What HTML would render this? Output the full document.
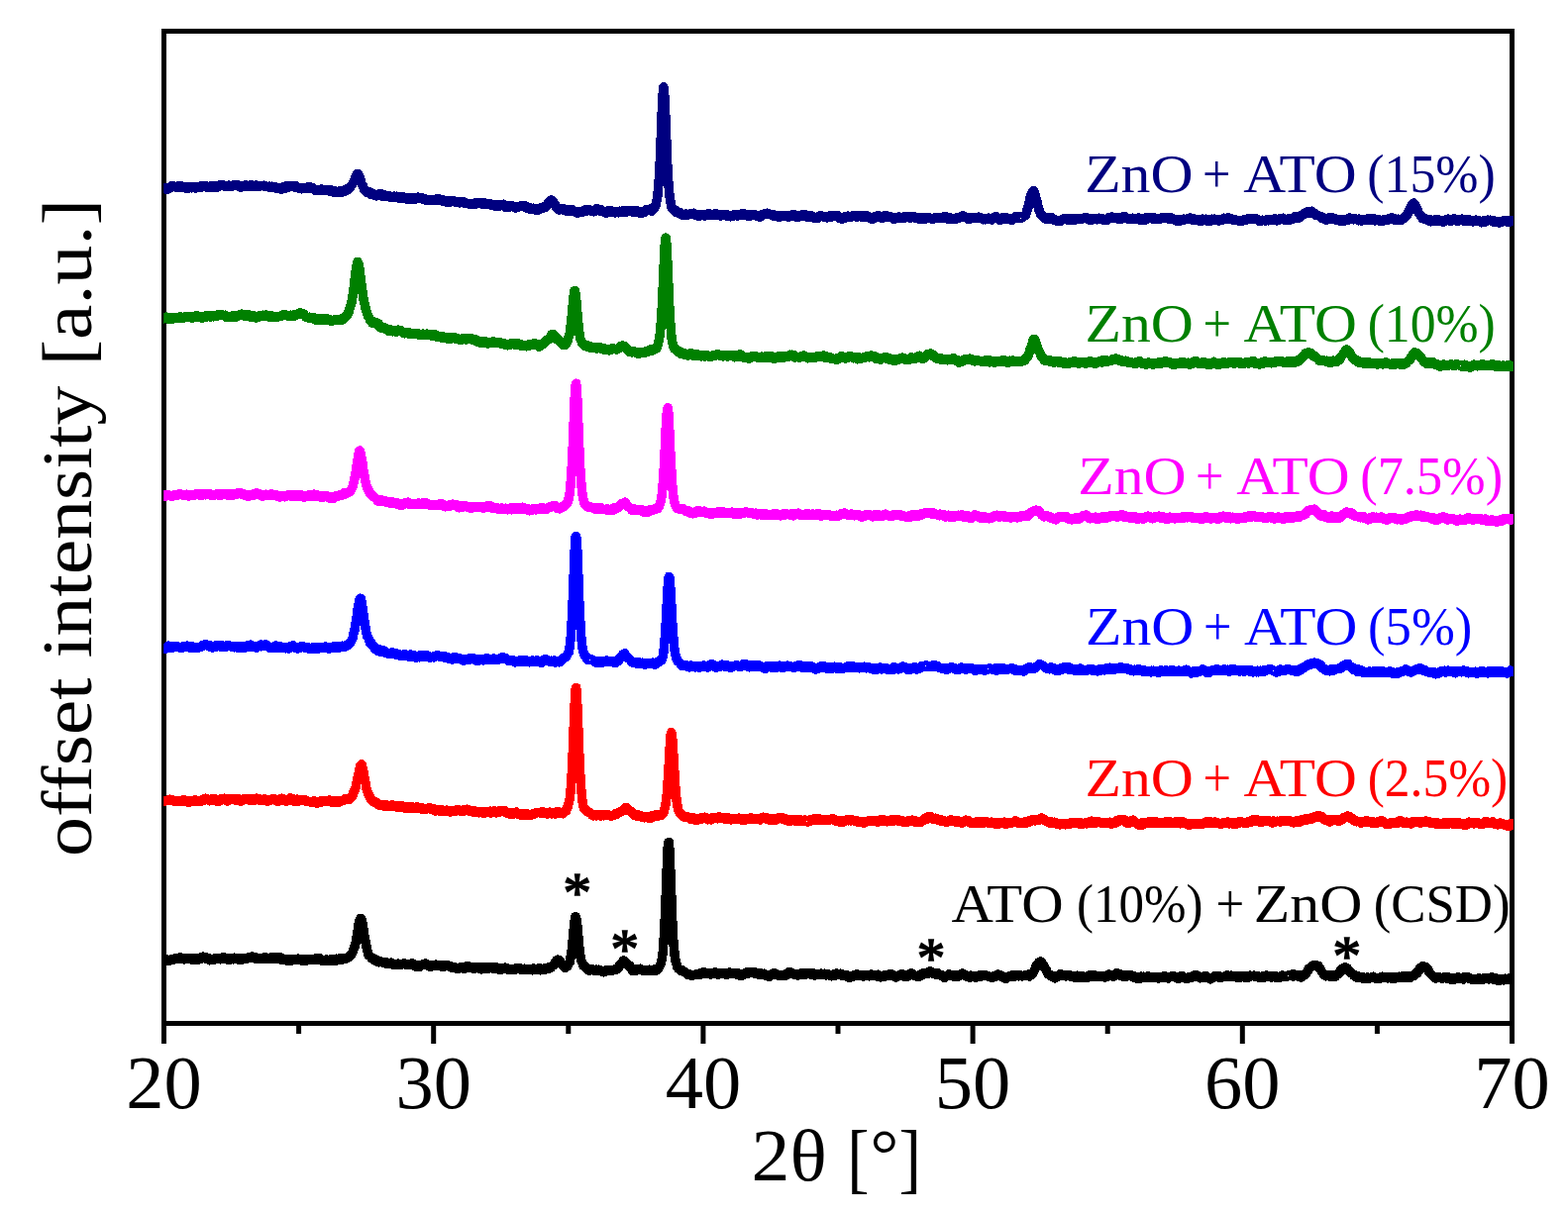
<!DOCTYPE html>
<html><head><meta charset="utf-8"><title>XRD patterns</title>
<style>
html,body{margin:0;padding:0;background:#fff;}
svg{display:block;}
.tk{font-family:"Liberation Serif",serif;font-size:76.5px;fill:#000;}
.ax{font-family:"Liberation Serif",serif;font-size:74px;fill:#000;}
.sl{font-family:"Liberation Serif",serif;font-size:54px;white-space:pre;}
.st{font-family:"Liberation Serif",serif;font-size:57px;fill:#000;stroke:#000;stroke-width:1.6px;}
</style></head>
<body>
<svg width="1583" height="1228" viewBox="0 0 1583 1228">
<rect width="1583" height="1228" fill="#fff"/>
<defs><clipPath id="pc"><rect x="165.2" y="0" width="1362.7" height="1228"/></clipPath></defs>
<rect x="165.5" y="31.5" width="1361" height="1002" fill="none" stroke="#000" stroke-width="5"/>
<g clip-path="url(#pc)">
<polyline fill="none" stroke="#000080" stroke-width="9.5" stroke-linejoin="round" stroke-linecap="butt" shape-rendering="crispEdges" points="163.5,189.5 164.1,190.7 164.7,190.2 165.3,190.1 165.9,189.5 166.5,190.4 167.1,190.0 167.7,189.5 168.3,191.0 168.9,190.8 169.5,190.9 170.1,190.9 170.7,189.8 171.3,189.4 171.9,189.6 172.5,188.4 173.1,188.6 173.7,187.6 174.3,187.4 174.9,188.6 175.5,187.8 176.1,188.6 176.7,188.3 177.3,188.6 177.9,188.5 178.5,189.3 179.1,188.7 179.7,189.2 180.3,188.9 180.9,187.3 181.5,187.9 182.1,188.4 182.7,188.3 183.3,188.3 183.9,189.3 184.5,188.2 185.1,188.5 185.7,189.7 186.3,188.7 186.9,188.5 187.5,190.1 188.1,189.4 188.7,188.8 189.3,188.5 189.9,188.5 190.5,190.1 191.1,189.9 191.7,188.7 192.3,189.7 192.9,189.0 193.5,189.8 194.1,189.1 194.7,188.7 195.3,188.8 195.9,189.1 196.5,189.7 197.1,190.0 197.7,189.6 198.3,189.5 198.9,188.4 199.5,188.4 200.1,189.2 200.7,189.4 201.3,188.4 201.9,188.8 202.5,188.8 203.1,189.1 203.7,187.5 204.3,188.2 204.9,187.9 205.5,188.3 206.1,188.2 206.7,187.6 207.3,187.4 207.9,188.7 208.5,188.7 209.1,189.3 209.7,188.2 210.3,188.4 210.9,188.7 211.5,189.0 212.1,188.1 212.7,187.7 213.3,188.3 213.9,188.8 214.5,188.9 215.1,189.0 215.7,188.2 216.3,188.0 216.9,189.2 217.5,189.3 218.1,189.5 218.7,188.6 219.3,188.2 219.9,187.6 220.5,188.2 221.1,188.0 221.7,187.0 222.3,187.6 222.9,187.3 223.5,187.1 224.1,187.4 224.7,186.8 225.3,187.4 225.9,187.8 226.5,187.8 227.1,188.5 227.7,188.0 228.3,188.3 228.9,187.5 229.5,188.1 230.1,188.1 230.7,187.2 231.3,187.5 231.9,188.0 232.5,187.9 233.1,188.3 233.7,188.3 234.3,187.2 234.9,187.9 235.5,187.4 236.1,187.6 236.7,186.5 237.3,187.0 237.9,186.9 238.5,187.2 239.1,187.2 239.7,186.4 240.3,187.9 240.9,187.4 241.5,187.7 242.1,188.8 242.7,187.9 243.3,189.0 243.9,188.8 244.5,188.6 245.1,188.0 245.7,188.1 246.3,187.9 246.9,188.4 247.5,188.1 248.1,186.7 248.7,188.0 249.3,187.9 249.9,187.3 250.5,188.5 251.1,187.7 251.7,187.3 252.3,187.0 252.9,188.4 253.5,187.9 254.1,187.8 254.7,187.1 255.3,187.3 255.9,187.4 256.5,188.0 257.1,187.7 257.7,188.0 258.3,187.5 258.9,187.0 259.5,188.4 260.1,188.6 260.7,188.0 261.3,188.2 261.9,188.0 262.5,188.1 263.1,187.6 263.7,187.3 264.3,187.7 264.9,187.4 265.5,187.6 266.1,187.9 266.7,187.2 267.3,187.7 267.9,187.6 268.5,188.4 269.1,188.5 269.7,188.2 270.3,188.5 270.9,188.6 271.5,188.3 272.1,188.2 272.7,189.3 273.3,189.6 273.9,188.5 274.5,188.2 275.1,189.5 275.7,189.5 276.3,189.4 276.9,189.7 277.5,189.5 278.1,189.9 278.7,188.9 279.3,189.4 279.9,189.8 280.5,189.7 281.1,190.1 281.7,189.4 282.3,190.2 282.9,190.5 283.5,190.1 284.1,191.2 284.7,190.2 285.3,190.2 285.9,188.8 286.5,189.1 287.1,189.9 287.7,190.3 288.3,189.3 288.9,188.9 289.5,187.3 290.1,188.9 290.7,189.2 291.3,188.7 291.9,188.4 292.5,188.5 293.1,187.6 293.7,188.5 294.3,188.6 294.9,188.5 295.5,188.0 296.1,187.8 296.7,187.9 297.3,189.0 297.9,188.2 298.5,187.8 299.1,188.4 299.7,189.1 300.3,189.2 300.9,189.8 301.5,190.1 302.1,190.3 302.7,190.5 303.3,190.1 303.9,189.8 304.5,190.8 305.1,189.8 305.7,190.5 306.3,189.9 306.9,190.4 307.5,189.7 308.1,190.2 308.7,189.9 309.3,190.5 309.9,190.3 310.5,190.1 311.1,188.7 311.7,188.5 312.3,189.9 312.9,189.9 313.5,189.4 314.1,189.6 314.7,189.7 315.3,189.4 315.9,190.5 316.5,190.8 317.1,191.3 317.7,191.2 318.3,191.5 318.9,192.5 319.5,192.3 320.1,191.6 320.7,192.1 321.3,192.5 321.9,192.1 322.5,191.8 323.1,192.2 323.7,191.2 324.3,191.0 324.9,191.8 325.5,192.3 326.1,192.2 326.7,192.2 327.3,191.9 327.9,191.7 328.5,191.6 329.1,191.9 329.7,192.3 330.3,191.4 330.9,191.8 331.5,192.7 332.1,192.2 332.7,193.1 333.3,193.4 333.9,193.6 334.5,192.1 335.1,192.5 335.7,193.9 336.3,193.4 336.9,194.1 337.5,193.0 338.1,192.9 338.7,193.9 339.3,193.2 339.9,193.5 340.5,194.6 341.1,193.4 341.7,194.5 342.3,193.4 342.9,192.9 343.5,192.7 344.1,193.4 344.7,193.5 345.3,194.2 345.9,192.7 346.5,192.1 347.1,192.1 347.7,192.9 348.3,193.1 348.9,192.6 349.5,192.3 350.1,192.0 350.7,190.4 351.3,190.5 351.9,191.4 352.5,190.1 353.1,190.2 353.7,189.1 354.3,188.3 354.9,187.0 355.5,186.2 356.1,185.6 356.7,184.5 357.3,183.0 357.9,181.5 358.5,180.5 359.1,178.1 359.7,176.9 360.3,177.0 360.9,175.3 361.5,176.4 362.1,176.6 362.7,178.7 363.3,179.3 363.9,180.9 364.5,183.2 365.1,185.5 365.7,186.4 366.3,187.7 366.9,189.1 367.5,191.6 368.1,191.1 368.7,191.7 369.3,193.3 369.9,194.1 370.5,194.0 371.1,193.4 371.7,193.6 372.3,193.8 372.9,193.8 373.5,195.9 374.1,195.4 374.7,194.7 375.3,195.9 375.9,196.4 376.5,196.5 377.1,196.0 377.7,196.3 378.3,197.2 378.9,197.4 379.5,197.5 380.1,197.9 380.7,197.5 381.3,196.3 381.9,197.0 382.5,196.4 383.1,196.7 383.7,195.6 384.3,195.6 384.9,195.9 385.5,196.3 386.1,197.4 386.7,198.4 387.3,197.1 387.9,196.8 388.5,197.8 389.1,198.2 389.7,198.2 390.3,198.4 390.9,198.0 391.5,197.7 392.1,198.2 392.7,197.6 393.3,198.0 393.9,199.1 394.5,198.3 395.1,199.0 395.7,198.6 396.3,198.9 396.9,199.0 397.5,198.7 398.1,198.1 398.7,198.1 399.3,199.1 399.9,198.5 400.5,198.2 401.1,199.0 401.7,199.2 402.3,199.9 402.9,199.5 403.5,200.0 404.1,199.2 404.7,199.1 405.3,199.9 405.9,199.0 406.5,199.2 407.1,199.7 407.7,199.1 408.3,200.4 408.9,200.2 409.5,200.8 410.1,199.9 410.7,200.5 411.3,201.1 411.9,201.1 412.5,201.4 413.1,200.7 413.7,200.0 414.3,199.9 414.9,200.1 415.5,200.5 416.1,199.8 416.7,201.1 417.3,200.8 417.9,199.4 418.5,199.3 419.1,199.6 419.7,201.1 420.3,199.4 420.9,200.6 421.5,199.6 422.1,199.2 422.7,199.5 423.3,200.6 423.9,199.3 424.5,200.7 425.1,200.3 425.7,199.8 426.3,200.1 426.9,200.9 427.5,201.6 428.1,201.0 428.7,200.9 429.3,201.5 429.9,202.1 430.5,201.8 431.1,202.6 431.7,202.2 432.3,202.3 432.9,201.6 433.5,202.2 434.1,201.8 434.7,202.5 435.3,201.7 435.9,201.8 436.5,202.4 437.1,201.7 437.7,202.3 438.3,202.3 438.9,201.8 439.5,201.3 440.1,201.9 440.7,201.8 441.3,201.1 441.9,202.2 442.5,201.6 443.1,201.0 443.7,201.3 444.3,201.8 444.9,202.0 445.5,202.8 446.1,201.8 446.7,201.6 447.3,202.5 447.9,202.5 448.5,202.7 449.1,203.6 449.7,203.7 450.3,204.0 450.9,203.7 451.5,203.1 452.1,203.5 452.7,204.3 453.3,204.3 453.9,202.7 454.5,203.6 455.1,203.6 455.7,203.5 456.3,203.0 456.9,202.5 457.5,203.1 458.1,202.6 458.7,203.8 459.3,203.7 459.9,204.2 460.5,203.8 461.1,204.5 461.7,203.5 462.3,204.3 462.9,203.5 463.5,204.8 464.1,204.9 464.7,204.4 465.3,203.8 465.9,204.3 466.5,203.6 467.1,204.6 467.7,204.2 468.3,203.9 468.9,204.4 469.5,205.1 470.1,205.6 470.7,205.3 471.3,205.2 471.9,205.7 472.5,205.6 473.1,205.5 473.7,206.2 474.3,206.2 474.9,205.8 475.5,205.8 476.1,205.3 476.7,205.6 477.3,206.2 477.9,206.1 478.5,206.1 479.1,206.1 479.7,204.8 480.3,205.7 480.9,206.1 481.5,205.1 482.1,205.6 482.7,204.5 483.3,204.8 483.9,205.3 484.5,204.4 485.1,205.1 485.7,204.9 486.3,205.9 486.9,205.2 487.5,205.3 488.1,206.1 488.7,205.8 489.3,205.0 489.9,205.8 490.5,206.1 491.1,205.5 491.7,205.7 492.3,206.4 492.9,206.2 493.5,206.3 494.1,206.5 494.7,206.8 495.3,206.0 495.9,206.7 496.5,206.8 497.1,207.6 497.7,206.3 498.3,207.0 498.9,206.8 499.5,208.1 500.1,207.8 500.7,206.7 501.3,208.3 501.9,208.2 502.5,207.6 503.1,208.5 503.7,207.6 504.3,208.3 504.9,206.6 505.5,207.7 506.1,207.4 506.7,207.5 507.3,207.0 507.9,206.9 508.5,206.4 509.1,206.9 509.7,207.2 510.3,209.2 510.9,208.6 511.5,208.5 512.1,208.5 512.7,209.1 513.3,207.9 513.9,209.3 514.5,209.0 515.1,208.5 515.7,208.5 516.3,208.0 516.9,207.9 517.5,208.8 518.1,208.6 518.7,208.7 519.3,209.2 519.9,209.9 520.5,208.5 521.1,208.8 521.7,209.8 522.3,209.4 522.9,209.5 523.5,208.6 524.1,208.3 524.7,208.3 525.3,208.1 525.9,207.6 526.5,207.8 527.1,207.7 527.7,207.6 528.3,207.9 528.9,208.9 529.5,208.9 530.1,207.8 530.7,209.1 531.3,208.5 531.9,210.2 532.5,210.0 533.1,210.0 533.7,210.1 534.3,210.9 534.9,209.6 535.5,210.2 536.1,211.1 536.7,210.8 537.3,211.3 537.9,211.2 538.5,210.2 539.1,211.8 539.7,211.6 540.3,210.5 540.9,212.0 541.5,211.5 542.1,211.6 542.7,211.2 543.3,211.9 543.9,210.7 544.5,211.8 545.1,210.4 545.7,210.1 546.3,209.8 546.9,209.6 547.5,210.6 548.1,209.9 548.7,208.9 549.3,209.3 549.9,209.2 550.5,209.4 551.1,207.8 551.7,208.5 552.3,208.1 552.9,205.8 553.5,205.6 554.1,204.3 554.7,204.5 555.3,202.8 555.9,203.7 556.5,202.0 557.1,203.1 557.7,203.4 558.3,203.1 558.9,203.9 559.5,206.1 560.1,205.9 560.7,207.2 561.3,208.2 561.9,209.8 562.5,209.9 563.1,210.0 563.7,211.5 564.3,212.0 564.9,211.7 565.5,210.9 566.1,210.6 566.7,210.4 567.3,211.0 567.9,211.3 568.5,211.4 569.1,212.4 569.7,211.1 570.3,212.5 570.9,212.5 571.5,213.1 572.1,212.8 572.7,212.2 573.3,213.3 573.9,212.3 574.5,212.6 575.1,213.1 575.7,212.5 576.3,212.4 576.9,211.4 577.5,212.4 578.1,212.2 578.7,212.7 579.3,212.8 579.9,214.0 580.5,214.0 581.1,213.9 581.7,213.3 582.3,214.0 582.9,215.1 583.5,213.5 584.1,214.5 584.7,214.1 585.3,214.3 585.9,214.2 586.5,214.3 587.1,214.0 587.7,213.8 588.3,214.1 588.9,213.3 589.5,213.4 590.1,213.4 590.7,212.0 591.3,212.6 591.9,212.3 592.5,213.2 593.1,211.8 593.7,212.3 594.3,212.3 594.9,211.7 595.5,212.6 596.1,213.0 596.7,212.3 597.3,213.0 597.9,213.3 598.5,212.9 599.1,212.9 599.7,213.8 600.3,213.1 600.9,212.4 601.5,212.7 602.1,211.2 602.7,210.6 603.3,211.4 603.9,212.1 604.5,212.9 605.1,212.3 605.7,211.7 606.3,212.9 606.9,211.9 607.5,212.3 608.1,213.2 608.7,213.2 609.3,213.1 609.9,213.9 610.5,214.4 611.1,215.0 611.7,214.0 612.3,215.2 612.9,214.6 613.5,213.2 614.1,213.3 614.7,213.2 615.3,212.8 615.9,212.6 616.5,213.8 617.1,212.7 617.7,213.5 618.3,213.5 618.9,214.2 619.5,213.6 620.1,213.9 620.7,214.9 621.3,213.5 621.9,214.4 622.5,213.6 623.1,214.3 623.7,214.1 624.3,214.8 624.9,213.9 625.5,213.2 626.1,213.7 626.7,214.3 627.3,213.1 627.9,213.1 628.5,213.1 629.1,214.6 629.7,212.7 630.3,213.1 630.9,213.5 631.5,214.7 632.1,213.3 632.7,213.6 633.3,213.0 633.9,212.8 634.5,213.2 635.1,212.9 635.7,213.6 636.3,213.0 636.9,212.4 637.5,213.7 638.1,213.1 638.7,213.1 639.3,214.4 639.9,213.3 640.5,212.4 641.1,213.1 641.7,212.9 642.3,212.6 642.9,213.2 643.5,214.0 644.1,213.7 644.7,215.0 645.3,215.0 645.9,215.0 646.5,215.6 647.1,213.8 647.7,214.0 648.3,215.0 648.9,214.2 649.5,213.3 650.1,214.0 650.7,214.1 651.3,213.5 651.9,212.0 652.5,212.2 653.1,212.7 653.7,211.9 654.3,211.8 654.9,212.7 655.5,212.0 656.1,211.1 656.7,212.4 657.3,211.9 657.9,213.1 658.5,212.1 659.1,211.7 659.7,210.7 660.3,210.8 660.9,209.0 661.5,208.0 662.1,207.6 662.7,204.0 663.3,200.7 663.9,197.4 664.5,190.9 665.1,183.4 665.7,174.5 666.3,161.9 666.9,148.1 667.5,133.4 668.1,116.8 668.7,102.8 669.3,93.1 669.9,87.9 670.5,91.6 671.1,100.6 671.7,114.0 672.3,128.4 672.9,144.4 673.5,160.2 674.1,172.7 674.7,182.2 675.3,190.3 675.9,196.9 676.5,200.9 677.1,204.7 677.7,208.0 678.3,210.2 678.9,210.0 679.5,211.1 680.1,211.5 680.7,212.7 681.3,212.8 681.9,214.1 682.5,213.5 683.1,212.9 683.7,213.9 684.3,215.0 684.9,215.1 685.5,215.1 686.1,214.4 686.7,214.8 687.3,215.7 687.9,216.8 688.5,217.0 689.1,216.6 689.7,217.4 690.3,216.9 690.9,216.8 691.5,216.5 692.1,216.5 692.7,216.0 693.3,217.1 693.9,216.8 694.5,217.0 695.1,216.5 695.7,216.5 696.3,216.0 696.9,216.6 697.5,215.3 698.1,216.2 698.7,215.3 699.3,216.6 699.9,216.5 700.5,215.2 701.1,216.7 701.7,217.3 702.3,216.4 702.9,217.4 703.5,217.4 704.1,217.6 704.7,218.3 705.3,218.4 705.9,217.5 706.5,218.1 707.1,217.6 707.7,216.6 708.3,216.9 708.9,216.9 709.5,216.7 710.1,216.9 710.7,217.3 711.3,218.2 711.9,217.0 712.5,216.9 713.1,217.0 713.7,216.9 714.3,217.1 714.9,216.0 715.5,217.5 716.1,216.2 716.7,216.0 717.3,216.6 717.9,217.5 718.5,217.3 719.1,216.6 719.7,217.5 720.3,216.8 720.9,217.2 721.5,216.7 722.1,215.9 722.7,215.8 723.3,216.7 723.9,216.9 724.5,216.6 725.1,216.7 725.7,216.8 726.3,216.9 726.9,216.6 727.5,218.0 728.1,216.8 728.7,217.7 729.3,217.3 729.9,216.7 730.5,217.1 731.1,216.5 731.7,216.7 732.3,217.2 732.9,217.5 733.5,216.9 734.1,218.2 734.7,217.3 735.3,217.1 735.9,218.2 736.5,217.9 737.1,218.3 737.7,218.7 738.3,218.1 738.9,218.3 739.5,218.3 740.1,217.1 740.7,217.3 741.3,217.7 741.9,217.2 742.5,217.3 743.1,217.4 743.7,216.9 744.3,217.9 744.9,217.8 745.5,216.8 746.1,216.7 746.7,217.1 747.3,216.4 747.9,217.2 748.5,216.7 749.1,215.8 749.7,216.8 750.3,216.3 750.9,215.9 751.5,216.4 752.1,216.5 752.7,217.7 753.3,216.6 753.9,217.0 754.5,218.2 755.1,217.9 755.7,218.5 756.3,217.2 756.9,217.4 757.5,217.1 758.1,217.8 758.7,217.5 759.3,217.0 759.9,216.7 760.5,216.9 761.1,216.5 761.7,217.3 762.3,217.6 762.9,217.4 763.5,217.5 764.1,218.0 764.7,218.0 765.3,218.8 765.9,217.7 766.5,218.8 767.1,218.1 767.7,218.8 768.3,218.4 768.9,216.9 769.5,217.5 770.1,217.1 770.7,216.7 771.3,216.8 771.9,216.0 772.5,215.8 773.1,216.7 773.7,216.6 774.3,215.7 774.9,215.3 775.5,215.8 776.1,215.9 776.7,216.0 777.3,216.9 777.9,216.9 778.5,216.7 779.1,216.6 779.7,217.2 780.3,217.7 780.9,216.9 781.5,218.4 782.1,217.4 782.7,218.7 783.3,217.4 783.9,218.7 784.5,217.9 785.1,218.7 785.7,218.8 786.3,219.4 786.9,218.6 787.5,217.8 788.1,218.4 788.7,217.7 789.3,217.3 789.9,218.3 790.5,218.1 791.1,217.9 791.7,217.7 792.3,218.6 792.9,218.6 793.5,218.0 794.1,217.6 794.7,218.8 795.3,218.0 795.9,219.0 796.5,219.0 797.1,218.6 797.7,218.4 798.3,218.6 798.9,218.5 799.5,217.7 800.1,216.8 800.7,217.7 801.3,218.1 801.9,217.5 802.5,216.8 803.1,217.2 803.7,217.8 804.3,218.9 804.9,219.5 805.5,219.0 806.1,218.9 806.7,219.0 807.3,217.9 807.9,217.7 808.5,217.7 809.1,217.7 809.7,218.0 810.3,216.7 810.9,217.9 811.5,217.3 812.1,217.7 812.7,218.6 813.3,216.9 813.9,218.7 814.5,218.9 815.1,219.0 815.7,217.5 816.3,218.3 816.9,218.2 817.5,218.8 818.1,217.5 818.7,217.7 819.3,219.3 819.9,219.1 820.5,218.4 821.1,218.5 821.7,220.2 822.3,220.3 822.9,220.5 823.5,220.5 824.1,219.3 824.7,220.3 825.3,219.5 825.9,220.1 826.5,219.7 827.1,218.5 827.7,217.8 828.3,218.8 828.9,217.9 829.5,218.1 830.1,218.7 830.7,218.9 831.3,218.9 831.9,218.9 832.5,218.9 833.1,219.5 833.7,218.9 834.3,219.0 834.9,219.9 835.5,219.8 836.1,219.6 836.7,218.4 837.3,218.0 837.9,219.3 838.5,219.4 839.1,218.2 839.7,218.9 840.3,218.0 840.9,217.8 841.5,218.1 842.1,217.3 842.7,218.1 843.3,218.7 843.9,217.6 844.5,218.3 845.1,217.4 845.7,217.6 846.3,218.5 846.9,218.9 847.5,220.2 848.1,220.6 848.7,219.4 849.3,219.4 849.9,221.3 850.5,220.9 851.1,220.4 851.7,219.7 852.3,220.5 852.9,219.6 853.5,219.1 854.1,218.3 854.7,219.7 855.3,218.5 855.9,218.2 856.5,219.1 857.1,219.8 857.7,219.1 858.3,219.2 858.9,218.8 859.5,219.2 860.1,218.7 860.7,218.0 861.3,218.7 861.9,218.5 862.5,217.7 863.1,218.1 863.7,217.9 864.3,217.9 864.9,219.4 865.5,217.8 866.1,217.8 866.7,218.6 867.3,218.0 867.9,217.4 868.5,218.8 869.1,217.6 869.7,217.9 870.3,218.7 870.9,219.2 871.5,219.4 872.1,217.8 872.7,218.8 873.3,218.8 873.9,217.6 874.5,219.0 875.1,217.9 875.7,219.0 876.3,218.3 876.9,218.5 877.5,219.0 878.1,220.6 878.7,219.8 879.3,221.1 879.9,219.9 880.5,220.2 881.1,219.5 881.7,220.9 882.3,219.1 882.9,220.0 883.5,218.5 884.1,219.0 884.7,218.7 885.3,218.2 885.9,218.6 886.5,218.4 887.1,218.7 887.7,218.0 888.3,219.2 888.9,219.4 889.5,219.2 890.1,219.2 890.7,220.5 891.3,218.7 891.9,218.8 892.5,218.1 893.1,218.5 893.7,218.8 894.3,219.1 894.9,218.3 895.5,217.9 896.1,219.1 896.7,218.5 897.3,218.7 897.9,219.2 898.5,219.2 899.1,219.7 899.7,218.9 900.3,219.9 900.9,220.2 901.5,220.0 902.1,221.1 902.7,220.2 903.3,220.3 903.9,220.4 904.5,220.8 905.1,219.7 905.7,220.4 906.3,220.1 906.9,219.0 907.5,218.9 908.1,220.2 908.7,219.7 909.3,219.8 909.9,219.7 910.5,219.8 911.1,220.3 911.7,220.3 912.3,219.3 912.9,218.9 913.5,220.0 914.1,219.2 914.7,219.2 915.3,219.1 915.9,219.6 916.5,219.5 917.1,218.7 917.7,219.3 918.3,218.8 918.9,220.1 919.5,220.2 920.1,219.6 920.7,218.5 921.3,218.7 921.9,219.3 922.5,219.3 923.1,218.9 923.7,219.5 924.3,220.0 924.9,220.7 925.5,219.7 926.1,220.1 926.7,220.0 927.3,220.8 927.9,221.1 928.5,220.9 929.1,220.9 929.7,220.1 930.3,219.8 930.9,220.7 931.5,221.2 932.1,221.2 932.7,220.1 933.3,220.2 933.9,220.6 934.5,221.2 935.1,220.5 935.7,220.1 936.3,219.8 936.9,220.4 937.5,219.3 938.1,219.8 938.7,220.0 939.3,220.5 939.9,220.8 940.5,220.3 941.1,220.5 941.7,221.3 942.3,220.7 942.9,220.0 943.5,220.0 944.1,220.3 944.7,220.2 945.3,219.6 945.9,219.4 946.5,220.0 947.1,220.5 947.7,220.2 948.3,220.2 948.9,220.2 949.5,220.3 950.1,219.9 950.7,219.7 951.3,219.9 951.9,219.8 952.5,220.1 953.1,218.9 953.7,219.3 954.3,220.0 954.9,220.1 955.5,219.1 956.1,220.3 956.7,220.4 957.3,221.7 957.9,220.2 958.5,219.7 959.1,221.3 959.7,220.7 960.3,221.5 960.9,220.8 961.5,220.5 962.1,220.5 962.7,220.5 963.3,221.3 963.9,220.8 964.5,221.0 965.1,221.3 965.7,220.6 966.3,219.4 966.9,220.8 967.5,219.4 968.1,219.7 968.7,219.8 969.3,219.6 969.9,218.9 970.5,218.5 971.1,218.5 971.7,218.0 972.3,218.1 972.9,218.3 973.5,218.9 974.1,218.7 974.7,219.4 975.3,219.6 975.9,219.8 976.5,220.5 977.1,221.4 977.7,221.0 978.3,220.2 978.9,220.4 979.5,219.5 980.1,220.9 980.7,219.8 981.3,219.6 981.9,220.5 982.5,219.9 983.1,220.4 983.7,220.6 984.3,219.8 984.9,220.0 985.5,220.3 986.1,219.6 986.7,220.5 987.3,220.6 987.9,219.2 988.5,219.3 989.1,219.8 989.7,219.3 990.3,220.2 990.9,220.3 991.5,221.0 992.1,220.9 992.7,221.8 993.3,221.1 993.9,220.6 994.5,221.8 995.1,221.2 995.7,221.0 996.3,220.9 996.9,221.4 997.5,221.5 998.1,220.2 998.7,220.5 999.3,221.7 999.9,221.4 1000.5,221.8 1001.1,222.0 1001.7,221.5 1002.3,221.1 1002.9,220.1 1003.5,220.4 1004.1,220.1 1004.7,220.0 1005.3,218.6 1005.9,220.6 1006.5,220.2 1007.1,221.1 1007.7,220.3 1008.3,220.6 1008.9,220.6 1009.5,222.3 1010.1,221.3 1010.7,222.0 1011.3,221.0 1011.9,219.8 1012.5,220.6 1013.1,220.1 1013.7,220.5 1014.3,220.9 1014.9,219.3 1015.5,220.7 1016.1,220.3 1016.7,221.0 1017.3,221.6 1017.9,220.4 1018.5,221.4 1019.1,220.8 1019.7,221.2 1020.3,221.1 1020.9,221.4 1021.5,222.3 1022.1,221.1 1022.7,220.7 1023.3,221.0 1023.9,220.9 1024.5,219.5 1025.1,220.6 1025.7,218.7 1026.3,219.5 1026.9,218.9 1027.5,218.6 1028.1,218.9 1028.7,219.1 1029.3,219.0 1029.9,220.1 1030.5,220.5 1031.1,219.3 1031.7,219.5 1032.3,219.3 1032.9,219.3 1033.5,218.7 1034.1,218.0 1034.7,218.0 1035.3,217.4 1035.9,215.8 1036.5,214.3 1037.1,211.5 1037.7,210.8 1038.3,207.7 1038.9,204.4 1039.5,203.8 1040.1,199.6 1040.7,197.8 1041.3,195.8 1041.9,195.0 1042.5,193.4 1043.1,193.7 1043.7,192.6 1044.3,193.8 1044.9,196.1 1045.5,198.8 1046.1,200.9 1046.7,202.9 1047.3,204.9 1047.9,207.9 1048.5,209.6 1049.1,212.3 1049.7,213.9 1050.3,215.8 1050.9,216.8 1051.5,216.9 1052.1,217.5 1052.7,218.0 1053.3,218.9 1053.9,220.0 1054.5,220.6 1055.1,220.3 1055.7,220.8 1056.3,220.3 1056.9,221.6 1057.5,220.9 1058.1,220.2 1058.7,220.3 1059.3,219.8 1059.9,219.4 1060.5,220.0 1061.1,219.3 1061.7,219.8 1062.3,221.1 1062.9,221.3 1063.5,222.0 1064.1,222.1 1064.7,221.9 1065.3,221.9 1065.9,222.7 1066.5,222.8 1067.1,222.5 1067.7,223.6 1068.3,222.4 1068.9,222.3 1069.5,222.5 1070.1,223.1 1070.7,223.2 1071.3,221.9 1071.9,221.7 1072.5,221.8 1073.1,221.7 1073.7,220.7 1074.3,221.3 1074.9,220.8 1075.5,220.9 1076.1,220.6 1076.7,221.7 1077.3,221.2 1077.9,221.6 1078.5,222.0 1079.1,222.7 1079.7,220.9 1080.3,221.3 1080.9,222.3 1081.5,222.2 1082.1,220.9 1082.7,222.0 1083.3,221.0 1083.9,222.0 1084.5,220.9 1085.1,222.2 1085.7,221.9 1086.3,221.7 1086.9,221.4 1087.5,220.9 1088.1,220.8 1088.7,221.4 1089.3,220.7 1089.9,221.2 1090.5,221.4 1091.1,221.1 1091.7,221.7 1092.3,220.7 1092.9,220.7 1093.5,220.8 1094.1,220.6 1094.7,220.7 1095.3,219.4 1095.9,220.1 1096.5,219.6 1097.1,220.6 1097.7,220.6 1098.3,221.5 1098.9,220.9 1099.5,222.1 1100.1,220.8 1100.7,222.2 1101.3,222.5 1101.9,221.5 1102.5,221.9 1103.1,221.0 1103.7,221.2 1104.3,221.4 1104.9,220.8 1105.5,221.5 1106.1,220.4 1106.7,220.8 1107.3,220.6 1107.9,221.6 1108.5,221.3 1109.1,220.3 1109.7,220.2 1110.3,221.0 1110.9,220.7 1111.5,220.5 1112.1,220.3 1112.7,220.8 1113.3,221.7 1113.9,221.5 1114.5,221.9 1115.1,222.7 1115.7,221.4 1116.3,221.6 1116.9,222.5 1117.5,222.4 1118.1,220.8 1118.7,220.3 1119.3,219.8 1119.9,220.5 1120.5,219.7 1121.1,219.9 1121.7,219.9 1122.3,219.0 1122.9,220.4 1123.5,219.2 1124.1,220.2 1124.7,219.7 1125.3,219.7 1125.9,220.2 1126.5,219.7 1127.1,220.4 1127.7,220.4 1128.3,220.4 1128.9,220.3 1129.5,220.5 1130.1,221.6 1130.7,221.6 1131.3,219.8 1131.9,220.8 1132.5,220.3 1133.1,219.0 1133.7,218.8 1134.3,220.3 1134.9,219.0 1135.5,218.6 1136.1,220.1 1136.7,220.2 1137.3,220.8 1137.9,220.7 1138.5,220.7 1139.1,220.8 1139.7,220.5 1140.3,221.2 1140.9,221.7 1141.5,220.5 1142.1,220.9 1142.7,220.8 1143.3,220.2 1143.9,220.9 1144.5,221.7 1145.1,220.4 1145.7,221.1 1146.3,221.2 1146.9,220.5 1147.5,221.6 1148.1,221.3 1148.7,220.8 1149.3,220.1 1149.9,220.4 1150.5,220.4 1151.1,222.3 1151.7,222.3 1152.3,221.0 1152.9,221.9 1153.5,221.6 1154.1,222.3 1154.7,222.0 1155.3,222.5 1155.9,222.0 1156.5,220.1 1157.1,220.7 1157.7,220.6 1158.3,221.0 1158.9,220.0 1159.5,219.9 1160.1,220.2 1160.7,219.9 1161.3,219.6 1161.9,220.5 1162.5,220.2 1163.1,220.6 1163.7,221.2 1164.3,221.2 1164.9,219.9 1165.5,220.8 1166.1,221.0 1166.7,220.7 1167.3,221.5 1167.9,220.8 1168.5,221.3 1169.1,221.1 1169.7,221.7 1170.3,220.5 1170.9,220.6 1171.5,220.9 1172.1,220.0 1172.7,220.8 1173.3,219.5 1173.9,219.4 1174.5,220.1 1175.1,220.0 1175.7,220.6 1176.3,219.5 1176.9,219.3 1177.5,220.1 1178.1,219.5 1178.7,220.9 1179.3,219.9 1179.9,220.0 1180.5,221.0 1181.1,220.1 1181.7,220.1 1182.3,220.1 1182.9,221.5 1183.5,220.6 1184.1,220.8 1184.7,221.2 1185.3,221.3 1185.9,221.8 1186.5,222.6 1187.1,221.4 1187.7,223.1 1188.3,222.6 1188.9,222.1 1189.5,222.5 1190.1,222.8 1190.7,222.3 1191.3,223.0 1191.9,222.4 1192.5,221.7 1193.1,222.5 1193.7,221.9 1194.3,221.8 1194.9,221.1 1195.5,221.1 1196.1,221.8 1196.7,221.6 1197.3,221.3 1197.9,221.4 1198.5,221.1 1199.1,221.2 1199.7,220.3 1200.3,220.4 1200.9,220.2 1201.5,221.7 1202.1,220.2 1202.7,221.0 1203.3,221.3 1203.9,221.5 1204.5,222.5 1205.1,221.4 1205.7,220.9 1206.3,221.3 1206.9,221.5 1207.5,221.5 1208.1,222.0 1208.7,222.4 1209.3,221.6 1209.9,221.9 1210.5,221.3 1211.1,222.5 1211.7,223.4 1212.3,223.5 1212.9,222.6 1213.5,222.6 1214.1,221.2 1214.7,221.9 1215.3,221.8 1215.9,222.1 1216.5,222.5 1217.1,221.5 1217.7,221.2 1218.3,222.7 1218.9,222.3 1219.5,223.4 1220.1,222.2 1220.7,222.8 1221.3,222.0 1221.9,222.0 1222.5,222.9 1223.1,222.2 1223.7,221.2 1224.3,221.9 1224.9,222.2 1225.5,221.2 1226.1,221.4 1226.7,221.2 1227.3,221.5 1227.9,221.5 1228.5,221.4 1229.1,222.8 1229.7,221.6 1230.3,223.0 1230.9,223.0 1231.5,222.2 1232.1,222.3 1232.7,221.5 1233.3,221.4 1233.9,221.2 1234.5,222.2 1235.1,220.6 1235.7,220.3 1236.3,221.0 1236.9,220.6 1237.5,220.4 1238.1,220.3 1238.7,220.1 1239.3,221.0 1239.9,219.8 1240.5,219.9 1241.1,221.1 1241.7,220.7 1242.3,221.6 1242.9,220.9 1243.5,221.2 1244.1,221.8 1244.7,221.6 1245.3,222.6 1245.9,221.5 1246.5,222.4 1247.1,222.6 1247.7,222.1 1248.3,222.3 1248.9,222.2 1249.5,222.5 1250.1,222.7 1250.7,222.6 1251.3,223.3 1251.9,223.5 1252.5,223.1 1253.1,223.5 1253.7,222.9 1254.3,222.6 1254.9,222.2 1255.5,221.9 1256.1,222.1 1256.7,221.4 1257.3,222.2 1257.9,222.1 1258.5,222.0 1259.1,221.4 1259.7,221.2 1260.3,220.5 1260.9,221.6 1261.5,220.4 1262.1,220.6 1262.7,221.1 1263.3,220.6 1263.9,221.4 1264.5,221.0 1265.1,220.6 1265.7,220.3 1266.3,220.5 1266.9,220.9 1267.5,220.9 1268.1,220.6 1268.7,221.9 1269.3,221.5 1269.9,222.4 1270.5,222.7 1271.1,222.7 1271.7,223.4 1272.3,223.3 1272.9,222.5 1273.5,222.9 1274.1,222.2 1274.7,222.3 1275.3,222.6 1275.9,222.3 1276.5,222.5 1277.1,222.4 1277.7,223.0 1278.3,222.4 1278.9,221.9 1279.5,222.5 1280.1,222.0 1280.7,222.7 1281.3,222.3 1281.9,222.7 1282.5,221.6 1283.1,222.1 1283.7,222.2 1284.3,221.8 1284.9,222.0 1285.5,222.1 1286.1,221.3 1286.7,220.8 1287.3,222.4 1287.9,222.2 1288.5,222.8 1289.1,222.5 1289.7,222.8 1290.3,221.5 1290.9,221.7 1291.5,222.0 1292.1,221.8 1292.7,220.5 1293.3,220.7 1293.9,221.0 1294.5,220.7 1295.1,220.2 1295.7,221.1 1296.3,221.6 1296.9,222.0 1297.5,221.5 1298.1,221.9 1298.7,221.5 1299.3,221.6 1299.9,221.8 1300.5,222.4 1301.1,221.0 1301.7,222.3 1302.3,220.4 1302.9,220.4 1303.5,220.4 1304.1,220.3 1304.7,221.0 1305.3,220.9 1305.9,220.8 1306.5,219.5 1307.1,218.5 1307.7,219.8 1308.3,220.4 1308.9,218.9 1309.5,220.0 1310.1,219.1 1310.7,220.0 1311.3,219.5 1311.9,219.9 1312.5,219.8 1313.1,218.0 1313.7,218.1 1314.3,217.7 1314.9,217.5 1315.5,216.2 1316.1,216.0 1316.7,216.2 1317.3,215.1 1317.9,215.5 1318.5,215.8 1319.1,214.6 1319.7,215.1 1320.3,214.4 1320.9,213.5 1321.5,215.0 1322.1,213.8 1322.7,213.9 1323.3,213.9 1323.9,214.6 1324.5,213.2 1325.1,214.0 1325.7,214.9 1326.3,214.7 1326.9,216.3 1327.5,216.0 1328.1,216.7 1328.7,217.4 1329.3,217.2 1329.9,217.1 1330.5,217.8 1331.1,217.8 1331.7,218.1 1332.3,218.4 1332.9,218.9 1333.5,219.3 1334.1,218.9 1334.7,220.5 1335.3,219.7 1335.9,220.0 1336.5,220.1 1337.1,220.5 1337.7,220.3 1338.3,221.3 1338.9,222.4 1339.5,221.2 1340.1,221.8 1340.7,221.0 1341.3,220.9 1341.9,219.8 1342.5,221.4 1343.1,220.5 1343.7,220.4 1344.3,219.3 1344.9,220.4 1345.5,219.9 1346.1,220.6 1346.7,221.2 1347.3,220.7 1347.9,221.3 1348.5,221.9 1349.1,221.5 1349.7,222.0 1350.3,221.4 1350.9,221.4 1351.5,222.0 1352.1,221.9 1352.7,222.7 1353.3,223.3 1353.9,223.2 1354.5,222.2 1355.1,222.0 1355.7,222.6 1356.3,222.9 1356.9,223.1 1357.5,222.7 1358.1,221.3 1358.7,222.0 1359.3,221.2 1359.9,221.2 1360.5,222.1 1361.1,220.8 1361.7,222.0 1362.3,220.3 1362.9,219.9 1363.5,221.2 1364.1,221.7 1364.7,220.9 1365.3,221.6 1365.9,220.9 1366.5,221.8 1367.1,220.3 1367.7,220.6 1368.3,220.7 1368.9,221.4 1369.5,221.2 1370.1,221.3 1370.7,221.3 1371.3,222.5 1371.9,222.8 1372.5,221.3 1373.1,221.5 1373.7,222.4 1374.3,222.9 1374.9,222.9 1375.5,222.4 1376.1,222.5 1376.7,221.5 1377.3,222.0 1377.9,222.7 1378.5,222.1 1379.1,222.4 1379.7,222.2 1380.3,221.4 1380.9,220.8 1381.5,222.2 1382.1,220.8 1382.7,221.9 1383.3,221.8 1383.9,222.4 1384.5,221.7 1385.1,220.7 1385.7,221.1 1386.3,221.6 1386.9,221.3 1387.5,221.0 1388.1,222.8 1388.7,222.7 1389.3,222.3 1389.9,221.5 1390.5,222.3 1391.1,222.4 1391.7,222.0 1392.3,221.8 1392.9,222.1 1393.5,223.1 1394.1,223.6 1394.7,223.0 1395.3,223.4 1395.9,222.9 1396.5,223.2 1397.1,221.8 1397.7,222.6 1398.3,222.3 1398.9,222.3 1399.5,222.6 1400.1,222.1 1400.7,222.2 1401.3,221.1 1401.9,221.4 1402.5,220.8 1403.1,220.9 1403.7,220.4 1404.3,221.4 1404.9,220.0 1405.5,220.0 1406.1,221.5 1406.7,221.4 1407.3,222.1 1407.9,221.6 1408.5,220.9 1409.1,221.9 1409.7,221.4 1410.3,222.7 1410.9,221.6 1411.5,221.1 1412.1,222.4 1412.7,222.2 1413.3,222.3 1413.9,222.1 1414.5,222.4 1415.1,221.0 1415.7,220.8 1416.3,221.1 1416.9,220.7 1417.5,219.6 1418.1,218.9 1418.7,218.8 1419.3,218.1 1419.9,217.0 1420.5,217.6 1421.1,216.5 1421.7,214.1 1422.3,214.2 1422.9,212.7 1423.5,211.4 1424.1,209.2 1424.7,208.1 1425.3,206.7 1425.9,206.1 1426.5,205.7 1427.1,205.0 1427.7,206.5 1428.3,206.9 1428.9,206.9 1429.5,208.7 1430.1,210.6 1430.7,211.0 1431.3,212.9 1431.9,214.5 1432.5,215.1 1433.1,216.0 1433.7,216.4 1434.3,218.5 1434.9,218.6 1435.5,219.3 1436.1,220.8 1436.7,220.4 1437.3,219.8 1437.9,221.2 1438.5,220.5 1439.1,221.3 1439.7,221.3 1440.3,221.9 1440.9,221.7 1441.5,221.8 1442.1,221.5 1442.7,221.9 1443.3,223.5 1443.9,223.3 1444.5,223.9 1445.1,222.2 1445.7,222.3 1446.3,222.4 1446.9,222.9 1447.5,222.7 1448.1,222.2 1448.7,222.0 1449.3,222.2 1449.9,223.1 1450.5,222.4 1451.1,223.0 1451.7,221.7 1452.3,221.9 1452.9,223.5 1453.5,222.5 1454.1,222.8 1454.7,223.7 1455.3,223.2 1455.9,223.8 1456.5,223.9 1457.1,224.1 1457.7,223.3 1458.3,223.7 1458.9,223.0 1459.5,223.1 1460.1,221.6 1460.7,221.6 1461.3,221.9 1461.9,221.1 1462.5,222.5 1463.1,222.8 1463.7,221.8 1464.3,222.5 1464.9,222.0 1465.5,222.9 1466.1,221.8 1466.7,221.3 1467.3,221.7 1467.9,221.7 1468.5,221.0 1469.1,222.3 1469.7,222.0 1470.3,222.5 1470.9,223.0 1471.5,222.7 1472.1,223.1 1472.7,222.5 1473.3,222.0 1473.9,222.0 1474.5,221.8 1475.1,222.1 1475.7,221.6 1476.3,221.1 1476.9,222.8 1477.5,221.9 1478.1,222.6 1478.7,222.1 1479.3,222.9 1479.9,223.0 1480.5,221.8 1481.1,223.1 1481.7,221.5 1482.3,221.4 1482.9,222.9 1483.5,222.1 1484.1,223.4 1484.7,222.2 1485.3,222.3 1485.9,223.1 1486.5,223.7 1487.1,223.9 1487.7,223.2 1488.3,222.7 1488.9,222.8 1489.5,223.1 1490.1,222.2 1490.7,223.4 1491.3,223.5 1491.9,222.7 1492.5,223.2 1493.1,222.9 1493.7,223.9 1494.3,223.4 1494.9,224.1 1495.5,224.9 1496.1,224.2 1496.7,224.6 1497.3,223.5 1497.9,222.8 1498.5,222.7 1499.1,224.3 1499.7,223.3 1500.3,223.5 1500.9,222.4 1501.5,222.4 1502.1,222.2 1502.7,222.4 1503.3,222.6 1503.9,222.6 1504.5,222.3 1505.1,222.9 1505.7,222.9 1506.3,222.6 1506.9,222.7 1507.5,224.0 1508.1,223.3 1508.7,224.2 1509.3,223.7 1509.9,223.2 1510.5,224.5 1511.1,224.5 1511.7,224.5 1512.3,224.5 1512.9,224.1 1513.5,225.2 1514.1,224.2 1514.7,224.2 1515.3,224.7 1515.9,223.8 1516.5,224.0 1517.1,223.7 1517.7,223.7 1518.3,223.3 1518.9,222.3 1519.5,223.4 1520.1,223.4 1520.7,223.8 1521.3,222.9 1521.9,222.7 1522.5,223.7 1523.1,223.5 1523.7,224.5 1524.3,223.7 1524.9,224.0 1525.5,222.7 1526.1,223.0 1526.7,223.2 1527.3,223.3 1527.9,222.5 1528.5,222.6 1529.1,222.9"/>
<polyline fill="none" stroke="#008000" stroke-width="9.5" stroke-linejoin="round" stroke-linecap="butt" shape-rendering="crispEdges" points="163.5,323.0 164.1,321.7 164.7,322.1 165.3,321.7 165.9,321.6 166.5,321.1 167.1,321.5 167.7,320.3 168.3,320.1 168.9,321.1 169.5,321.1 170.1,322.2 170.7,321.1 171.3,321.6 171.9,322.4 172.5,320.5 173.1,320.9 173.7,321.6 174.3,321.9 174.9,321.1 175.5,320.8 176.1,320.7 176.7,321.0 177.3,320.7 177.9,321.6 178.5,321.2 179.1,320.9 179.7,320.4 180.3,320.5 180.9,320.3 181.5,320.1 182.1,321.2 182.7,320.1 183.3,321.5 183.9,321.4 184.5,321.6 185.1,320.8 185.7,320.8 186.3,320.0 186.9,319.8 187.5,320.4 188.1,320.3 188.7,319.4 189.3,319.7 189.9,319.4 190.5,319.9 191.1,319.4 191.7,320.6 192.3,320.3 192.9,320.9 193.5,320.0 194.1,320.4 194.7,321.0 195.3,320.3 195.9,319.7 196.5,319.5 197.1,320.7 197.7,319.9 198.3,318.4 198.9,319.0 199.5,319.7 200.1,319.4 200.7,319.9 201.3,320.3 201.9,319.5 202.5,319.9 203.1,321.0 203.7,320.3 204.3,320.2 204.9,321.0 205.5,320.4 206.1,320.3 206.7,320.5 207.3,319.3 207.9,318.8 208.5,319.9 209.1,319.5 209.7,318.7 210.3,318.9 210.9,318.5 211.5,318.7 212.1,319.4 212.7,320.0 213.3,319.0 213.9,319.2 214.5,318.8 215.1,319.5 215.7,319.8 216.3,319.5 216.9,319.6 217.5,319.7 218.1,319.1 218.7,319.3 219.3,318.2 219.9,318.1 220.5,317.7 221.1,318.6 221.7,317.5 222.3,318.3 222.9,317.3 223.5,317.7 224.1,318.6 224.7,318.3 225.3,318.4 225.9,318.5 226.5,318.7 227.1,318.2 227.7,319.5 228.3,320.3 228.9,319.6 229.5,319.8 230.1,319.7 230.7,319.7 231.3,320.2 231.9,319.4 232.5,319.3 233.1,319.6 233.7,320.3 234.3,320.4 234.9,319.8 235.5,318.7 236.1,320.3 236.7,319.6 237.3,319.6 237.9,319.7 238.5,320.0 239.1,318.5 239.7,318.3 240.3,318.7 240.9,318.4 241.5,318.7 242.1,317.8 242.7,317.9 243.3,318.2 243.9,317.1 244.5,318.5 245.1,317.6 245.7,317.9 246.3,318.6 246.9,319.0 247.5,317.7 248.1,317.8 248.7,318.4 249.3,319.5 249.9,319.6 250.5,318.6 251.1,317.9 251.7,318.7 252.3,318.9 252.9,320.1 253.5,320.2 254.1,319.9 254.7,319.2 255.3,319.2 255.9,319.8 256.5,318.8 257.1,319.5 257.7,319.7 258.3,320.9 258.9,320.0 259.5,320.6 260.1,320.1 260.7,320.4 261.3,320.0 261.9,319.2 262.5,318.3 263.1,318.8 263.7,318.3 264.3,319.6 264.9,318.8 265.5,318.1 266.1,318.8 266.7,318.7 267.3,319.3 267.9,319.6 268.5,318.1 269.1,318.9 269.7,318.5 270.3,319.5 270.9,319.0 271.5,319.9 272.1,318.7 272.7,319.3 273.3,320.2 273.9,320.4 274.5,318.9 275.1,320.6 275.7,320.0 276.3,320.0 276.9,320.1 277.5,319.8 278.1,319.2 278.7,319.8 279.3,320.0 279.9,319.8 280.5,319.4 281.1,320.0 281.7,319.4 282.3,319.4 282.9,319.3 283.5,319.7 284.1,318.7 284.7,318.1 285.3,318.8 285.9,318.5 286.5,318.4 287.1,317.4 287.7,318.5 288.3,317.9 288.9,318.3 289.5,318.6 290.1,318.7 290.7,318.6 291.3,319.4 291.9,319.4 292.5,319.0 293.1,319.5 293.7,318.2 294.3,319.3 294.9,318.9 295.5,318.6 296.1,319.6 296.7,318.0 297.3,317.3 297.9,317.5 298.5,317.8 299.1,317.9 299.7,317.0 300.3,317.0 300.9,317.7 301.5,317.4 302.1,317.1 302.7,316.1 303.3,315.9 303.9,316.4 304.5,317.1 305.1,317.4 305.7,316.7 306.3,317.0 306.9,317.5 307.5,318.4 308.1,319.6 308.7,319.6 309.3,319.9 309.9,320.5 310.5,320.4 311.1,321.0 311.7,320.4 312.3,320.2 312.9,320.8 313.5,320.8 314.1,320.3 314.7,321.7 315.3,321.2 315.9,320.9 316.5,322.1 317.1,320.9 317.7,321.9 318.3,323.0 318.9,322.9 319.5,323.0 320.1,322.3 320.7,323.1 321.3,322.2 321.9,322.0 322.5,323.1 323.1,321.5 323.7,321.8 324.3,322.4 324.9,323.1 325.5,322.8 326.1,322.1 326.7,322.5 327.3,323.4 327.9,322.3 328.5,322.1 329.1,323.2 329.7,321.5 330.3,323.0 330.9,322.2 331.5,322.1 332.1,323.4 332.7,323.8 333.3,323.4 333.9,323.4 334.5,324.5 335.1,323.4 335.7,323.3 336.3,323.7 336.9,323.6 337.5,323.1 338.1,323.8 338.7,322.5 339.3,323.2 339.9,322.6 340.5,322.4 341.1,322.7 341.7,323.0 342.3,322.6 342.9,322.7 343.5,322.9 344.1,323.6 344.7,323.5 345.3,323.0 345.9,322.6 346.5,321.1 347.1,321.1 347.7,321.7 348.3,320.3 348.9,319.1 349.5,318.9 350.1,318.6 350.7,317.9 351.3,316.9 351.9,314.8 352.5,314.2 353.1,311.2 353.7,309.5 354.3,307.6 354.9,305.5 355.5,303.1 356.1,298.5 356.7,293.5 357.3,289.9 357.9,284.2 358.5,280.2 359.1,274.6 359.7,269.7 360.3,267.1 360.9,264.4 361.5,265.1 362.1,266.6 362.7,269.7 363.3,274.5 363.9,279.8 364.5,284.7 365.1,289.3 365.7,293.4 366.3,297.0 366.9,301.5 367.5,304.3 368.1,307.2 368.7,310.6 369.3,311.7 369.9,314.5 370.5,316.4 371.1,317.5 371.7,320.0 372.3,319.8 372.9,321.2 373.5,322.6 374.1,324.2 374.7,324.1 375.3,325.6 375.9,326.2 376.5,325.3 377.1,325.5 377.7,325.6 378.3,325.2 378.9,325.8 379.5,326.4 380.1,325.7 380.7,326.4 381.3,326.8 381.9,326.6 382.5,329.3 383.1,328.9 383.7,330.4 384.3,330.9 384.9,331.1 385.5,331.1 386.1,330.7 386.7,330.5 387.3,331.1 387.9,331.3 388.5,330.9 389.1,332.5 389.7,331.4 390.3,332.0 390.9,332.1 391.5,332.2 392.1,334.1 392.7,333.8 393.3,332.6 393.9,333.8 394.5,334.3 395.1,334.2 395.7,334.3 396.3,333.7 396.9,334.8 397.5,333.9 398.1,334.9 398.7,334.9 399.3,334.4 399.9,335.4 400.5,334.7 401.1,333.7 401.7,333.6 402.3,333.1 402.9,334.3 403.5,333.6 404.1,334.1 404.7,334.7 405.3,334.0 405.9,335.1 406.5,335.0 407.1,335.3 407.7,336.6 408.3,336.1 408.9,336.8 409.5,335.3 410.1,335.8 410.7,335.7 411.3,336.8 411.9,336.9 412.5,335.8 413.1,335.7 413.7,335.8 414.3,337.4 414.9,337.5 415.5,337.6 416.1,337.4 416.7,337.1 417.3,337.3 417.9,336.4 418.5,337.1 419.1,337.3 419.7,337.2 420.3,336.5 420.9,336.4 421.5,337.8 422.1,338.0 422.7,337.7 423.3,337.9 423.9,338.0 424.5,338.2 425.1,338.3 425.7,337.6 426.3,337.8 426.9,337.1 427.5,337.7 428.1,338.3 428.7,338.1 429.3,337.8 429.9,338.1 430.5,338.0 431.1,337.2 431.7,338.2 432.3,337.8 432.9,337.7 433.5,337.5 434.1,338.7 434.7,338.2 435.3,338.4 435.9,338.2 436.5,338.7 437.1,339.6 437.7,338.2 438.3,338.6 438.9,338.4 439.5,338.0 440.1,338.5 440.7,340.2 441.3,339.7 441.9,339.7 442.5,339.3 443.1,339.8 443.7,340.0 444.3,339.9 444.9,340.8 445.5,340.5 446.1,339.8 446.7,339.8 447.3,341.7 447.9,341.4 448.5,341.1 449.1,341.1 449.7,341.5 450.3,340.7 450.9,341.9 451.5,340.5 452.1,341.0 452.7,341.4 453.3,341.9 453.9,340.7 454.5,341.1 455.1,342.3 455.7,341.7 456.3,340.4 456.9,341.7 457.5,341.1 458.1,341.8 458.7,340.8 459.3,341.4 459.9,342.1 460.5,341.4 461.1,341.3 461.7,342.1 462.3,342.4 462.9,342.0 463.5,343.2 464.1,343.1 464.7,342.8 465.3,342.5 465.9,342.2 466.5,343.0 467.1,342.1 467.7,342.2 468.3,342.5 468.9,341.9 469.5,341.9 470.1,342.4 470.7,343.0 471.3,341.5 471.9,342.1 472.5,341.4 473.1,342.0 473.7,342.0 474.3,342.1 474.9,341.4 475.5,342.5 476.1,342.4 476.7,342.5 477.3,343.2 477.9,343.6 478.5,342.9 479.1,343.9 479.7,342.6 480.3,343.0 480.9,343.4 481.5,343.8 482.1,345.2 482.7,345.2 483.3,344.4 483.9,344.6 484.5,344.9 485.1,346.1 485.7,345.3 486.3,344.8 486.9,345.9 487.5,345.2 488.1,345.4 488.7,346.5 489.3,345.9 489.9,344.7 490.5,346.3 491.1,346.0 491.7,345.6 492.3,347.0 492.9,346.7 493.5,346.4 494.1,346.4 494.7,345.4 495.3,346.7 495.9,346.2 496.5,345.4 497.1,345.9 497.7,344.8 498.3,346.3 498.9,346.0 499.5,345.7 500.1,346.7 500.7,346.3 501.3,346.1 501.9,345.4 502.5,345.6 503.1,346.7 503.7,346.4 504.3,345.6 504.9,345.8 505.5,345.9 506.1,346.2 506.7,347.5 507.3,347.2 507.9,347.2 508.5,347.2 509.1,347.0 509.7,347.1 510.3,347.5 510.9,348.5 511.5,348.6 512.1,348.8 512.7,348.4 513.3,348.2 513.9,347.6 514.5,347.1 515.1,348.0 515.7,347.1 516.3,347.4 516.9,347.4 517.5,346.3 518.1,347.7 518.7,346.3 519.3,346.8 519.9,348.1 520.5,347.1 521.1,347.7 521.7,348.2 522.3,347.1 522.9,348.4 523.5,347.1 524.1,347.3 524.7,347.6 525.3,347.6 525.9,349.1 526.5,349.1 527.1,349.5 527.7,349.0 528.3,349.4 528.9,349.0 529.5,349.1 530.1,349.3 530.7,349.1 531.3,349.8 531.9,348.7 532.5,348.1 533.1,349.0 533.7,349.4 534.3,348.1 534.9,348.3 535.5,348.5 536.1,347.8 536.7,348.0 537.3,348.1 537.9,348.0 538.5,346.8 539.1,347.1 539.7,347.0 540.3,347.7 540.9,347.0 541.5,348.6 542.1,347.5 542.7,349.1 543.3,349.4 543.9,350.1 544.5,349.2 545.1,349.9 545.7,349.4 546.3,348.7 546.9,348.1 547.5,347.9 548.1,346.9 548.7,347.2 549.3,346.2 549.9,345.5 550.5,345.3 551.1,344.8 551.7,343.5 552.3,343.5 552.9,343.4 553.5,343.1 554.1,341.7 554.7,341.6 555.3,340.6 555.9,339.5 556.5,338.1 557.1,338.9 557.7,339.1 558.3,338.4 558.9,337.7 559.5,339.4 560.1,339.4 560.7,340.9 561.3,340.3 561.9,342.4 562.5,342.4 563.1,343.2 563.7,343.7 564.3,343.0 564.9,345.0 565.5,345.7 566.1,345.8 566.7,346.0 567.3,347.0 567.9,347.8 568.5,348.3 569.1,347.9 569.7,348.2 570.3,348.5 570.9,347.6 571.5,347.0 572.1,345.7 572.7,344.5 573.3,344.3 573.9,341.3 574.5,339.1 575.1,337.2 575.7,333.3 576.3,328.2 576.9,323.8 577.5,316.6 578.1,309.4 578.7,303.2 579.3,297.4 579.9,293.7 580.5,293.6 581.1,296.8 581.7,303.1 582.3,309.1 582.9,316.7 583.5,322.8 584.1,329.6 584.7,334.9 585.3,338.9 585.9,342.1 586.5,343.7 587.1,344.9 587.7,346.4 588.3,347.6 588.9,346.8 589.5,348.0 590.1,348.4 590.7,349.7 591.3,349.1 591.9,348.8 592.5,348.7 593.1,349.3 593.7,350.3 594.3,350.0 594.9,350.8 595.5,350.3 596.1,350.0 596.7,351.2 597.3,351.5 597.9,351.6 598.5,351.2 599.1,351.1 599.7,351.2 600.3,350.3 600.9,350.8 601.5,350.7 602.1,351.1 602.7,352.0 603.3,350.9 603.9,350.9 604.5,351.1 605.1,350.9 605.7,350.5 606.3,351.5 606.9,352.0 607.5,351.6 608.1,351.9 608.7,352.6 609.3,352.3 609.9,351.7 610.5,353.3 611.1,352.8 611.7,352.8 612.3,353.3 612.9,353.1 613.5,352.8 614.1,353.6 614.7,353.6 615.3,353.9 615.9,352.7 616.5,353.2 617.1,353.5 617.7,351.8 618.3,352.4 618.9,352.2 619.5,352.3 620.1,352.1 620.7,352.7 621.3,352.6 621.9,352.9 622.5,352.5 623.1,352.9 623.7,352.7 624.3,352.1 624.9,351.3 625.5,350.8 626.1,349.6 626.7,350.1 627.3,349.3 627.9,349.6 628.5,349.7 629.1,349.1 629.7,350.5 630.3,349.4 630.9,351.3 631.5,351.1 632.1,351.3 632.7,352.8 633.3,352.9 633.9,353.0 634.5,354.4 635.1,354.0 635.7,355.7 636.3,354.9 636.9,355.0 637.5,354.7 638.1,355.9 638.7,354.8 639.3,355.6 639.9,355.4 640.5,355.6 641.1,355.2 641.7,356.1 642.3,355.3 642.9,356.9 643.5,356.7 644.1,355.9 644.7,357.2 645.3,356.2 645.9,356.9 646.5,355.8 647.1,355.4 647.7,355.6 648.3,356.5 648.9,356.3 649.5,355.9 650.1,356.4 650.7,355.6 651.3,355.0 651.9,355.9 652.5,354.3 653.1,355.4 653.7,355.5 654.3,354.1 654.9,354.7 655.5,354.1 656.1,353.2 656.7,353.6 657.3,353.0 657.9,353.7 658.5,354.1 659.1,353.5 659.7,352.4 660.3,353.0 660.9,352.5 661.5,352.5 662.1,352.2 662.7,352.0 663.3,350.1 663.9,348.6 664.5,346.6 665.1,344.5 665.7,340.8 666.3,337.5 666.9,331.5 667.5,323.3 668.1,313.8 668.7,303.1 669.3,289.6 669.9,275.1 670.5,261.5 671.1,249.0 671.7,241.4 672.3,240.2 672.9,246.8 673.5,256.2 674.1,271.1 674.7,284.4 675.3,299.1 675.9,311.5 676.5,322.3 677.1,330.1 677.7,337.4 678.3,342.9 678.9,345.8 679.5,347.6 680.1,350.8 680.7,352.2 681.3,352.3 681.9,352.4 682.5,352.8 683.1,353.2 683.7,354.6 684.3,354.4 684.9,355.9 685.5,355.3 686.1,354.8 686.7,355.7 687.3,355.6 687.9,357.5 688.5,357.0 689.1,357.0 689.7,356.2 690.3,357.3 690.9,358.0 691.5,357.6 692.1,357.4 692.7,358.0 693.3,358.5 693.9,358.1 694.5,358.9 695.1,358.6 695.7,358.8 696.3,356.9 696.9,358.0 697.5,357.8 698.1,358.1 698.7,358.6 699.3,357.2 699.9,357.9 700.5,358.0 701.1,359.6 701.7,359.6 702.3,358.8 702.9,358.6 703.5,357.6 704.1,358.1 704.7,359.4 705.3,359.5 705.9,359.1 706.5,358.8 707.1,359.4 707.7,359.9 708.3,359.9 708.9,358.9 709.5,359.2 710.1,359.6 710.7,358.8 711.3,359.8 711.9,358.4 712.5,359.8 713.1,358.3 713.7,358.6 714.3,359.1 714.9,359.2 715.5,360.1 716.1,359.4 716.7,360.7 717.3,360.2 717.9,359.9 718.5,359.2 719.1,359.3 719.7,358.8 720.3,359.4 720.9,358.7 721.5,358.6 722.1,359.2 722.7,358.7 723.3,358.3 723.9,357.6 724.5,357.6 725.1,358.7 725.7,358.5 726.3,358.7 726.9,358.7 727.5,359.5 728.1,358.3 728.7,358.6 729.3,359.3 729.9,359.8 730.5,359.5 731.1,359.6 731.7,359.0 732.3,359.6 732.9,359.5 733.5,358.8 734.1,359.6 734.7,360.0 735.3,359.0 735.9,359.3 736.5,359.6 737.1,359.4 737.7,359.4 738.3,358.5 738.9,358.7 739.5,358.9 740.1,359.3 740.7,359.3 741.3,359.8 741.9,360.6 742.5,360.2 743.1,358.8 743.7,360.0 744.3,358.9 744.9,360.1 745.5,358.5 746.1,358.5 746.7,358.8 747.3,357.8 747.9,359.5 748.5,359.0 749.1,359.6 749.7,360.8 750.3,359.9 750.9,360.0 751.5,361.0 752.1,360.3 752.7,361.6 753.3,361.7 753.9,360.4 754.5,361.2 755.1,361.7 755.7,360.6 756.3,362.2 756.9,361.4 757.5,360.8 758.1,361.1 758.7,359.9 759.3,360.4 759.9,359.6 760.5,359.4 761.1,360.3 761.7,359.5 762.3,359.9 762.9,360.2 763.5,359.8 764.1,360.1 764.7,361.2 765.3,361.5 765.9,361.5 766.5,360.7 767.1,360.3 767.7,360.4 768.3,360.9 768.9,360.1 769.5,361.7 770.1,360.9 770.7,360.6 771.3,360.6 771.9,361.1 772.5,360.4 773.1,359.9 773.7,361.7 774.3,361.7 774.9,360.1 775.5,360.3 776.1,359.8 776.7,360.2 777.3,360.7 777.9,361.2 778.5,360.2 779.1,359.9 779.7,361.7 780.3,362.1 780.9,361.1 781.5,362.2 782.1,362.2 782.7,360.6 783.3,361.5 783.9,361.1 784.5,361.1 785.1,360.3 785.7,360.7 786.3,360.7 786.9,360.4 787.5,360.0 788.1,361.4 788.7,360.7 789.3,360.1 789.9,360.4 790.5,359.9 791.1,361.3 791.7,361.0 792.3,361.0 792.9,359.7 793.5,359.8 794.1,359.4 794.7,359.4 795.3,359.8 795.9,360.1 796.5,359.2 797.1,359.4 797.7,358.3 798.3,358.5 798.9,358.3 799.5,359.6 800.1,358.3 800.7,359.4 801.3,359.8 801.9,358.9 802.5,361.1 803.1,360.8 803.7,360.2 804.3,360.1 804.9,360.5 805.5,360.9 806.1,360.8 806.7,360.7 807.3,361.2 807.9,360.6 808.5,359.9 809.1,360.4 809.7,359.6 810.3,360.7 810.9,360.1 811.5,359.1 812.1,360.4 812.7,359.6 813.3,360.4 813.9,360.5 814.5,361.1 815.1,361.2 815.7,361.7 816.3,361.2 816.9,361.4 817.5,361.2 818.1,361.5 818.7,360.7 819.3,361.1 819.9,361.3 820.5,361.4 821.1,361.4 821.7,361.3 822.3,360.9 822.9,360.5 823.5,361.2 824.1,360.7 824.7,360.1 825.3,359.7 825.9,360.7 826.5,359.8 827.1,359.7 827.7,360.6 828.3,360.0 828.9,360.6 829.5,359.7 830.1,359.7 830.7,360.2 831.3,359.1 831.9,360.8 832.5,359.3 833.1,361.2 833.7,360.8 834.3,360.6 834.9,360.0 835.5,361.4 836.1,360.9 836.7,360.8 837.3,360.3 837.9,360.5 838.5,361.8 839.1,362.2 839.7,361.9 840.3,362.5 840.9,362.7 841.5,362.4 842.1,362.6 842.7,362.8 843.3,362.3 843.9,363.3 844.5,362.6 845.1,362.4 845.7,361.7 846.3,362.8 846.9,361.2 847.5,361.9 848.1,361.4 848.7,360.9 849.3,361.0 849.9,359.5 850.5,360.0 851.1,360.5 851.7,361.3 852.3,361.3 852.9,361.6 853.5,362.0 854.1,360.5 854.7,361.7 855.3,360.9 855.9,361.4 856.5,360.8 857.1,360.3 857.7,359.6 858.3,360.3 858.9,360.6 859.5,360.5 860.1,360.1 860.7,361.1 861.3,360.9 861.9,361.8 862.5,360.9 863.1,360.9 863.7,361.2 864.3,361.9 864.9,361.8 865.5,362.8 866.1,361.0 866.7,362.4 867.3,361.1 867.9,362.2 868.5,361.2 869.1,362.2 869.7,361.9 870.3,361.9 870.9,361.3 871.5,361.5 872.1,360.8 872.7,360.4 873.3,361.0 873.9,360.3 874.5,359.9 875.1,360.4 875.7,359.9 876.3,360.1 876.9,360.0 877.5,360.7 878.1,360.4 878.7,360.3 879.3,358.9 879.9,359.9 880.5,359.9 881.1,360.5 881.7,359.8 882.3,360.7 882.9,361.4 883.5,360.0 884.1,362.0 884.7,362.4 885.3,362.3 885.9,362.0 886.5,361.6 887.1,362.0 887.7,362.5 888.3,361.7 888.9,363.1 889.5,361.5 890.1,362.2 890.7,361.6 891.3,361.2 891.9,361.1 892.5,361.1 893.1,361.2 893.7,361.2 894.3,360.7 894.9,362.0 895.5,361.6 896.1,362.3 896.7,362.5 897.3,362.1 897.9,363.3 898.5,362.5 899.1,362.2 899.7,362.7 900.3,363.3 900.9,363.0 901.5,364.1 902.1,363.9 902.7,362.7 903.3,364.3 903.9,363.6 904.5,363.5 905.1,363.8 905.7,363.1 906.3,362.5 906.9,362.9 907.5,363.1 908.1,362.0 908.7,362.3 909.3,361.7 909.9,362.6 910.5,361.2 911.1,362.1 911.7,361.2 912.3,362.5 912.9,362.8 913.5,363.0 914.1,362.3 914.7,363.4 915.3,362.8 915.9,363.1 916.5,363.2 917.1,362.9 917.7,363.6 918.3,362.6 918.9,361.8 919.5,361.7 920.1,360.8 920.7,361.1 921.3,361.6 921.9,361.7 922.5,361.8 923.1,362.3 923.7,362.4 924.3,361.8 924.9,360.9 925.5,360.8 926.1,360.2 926.7,360.7 927.3,359.6 927.9,360.9 928.5,359.2 929.1,360.7 929.7,360.8 930.3,361.8 930.9,362.1 931.5,362.2 932.1,362.0 932.7,361.7 933.3,361.5 933.9,359.7 934.5,360.1 935.1,359.3 935.7,359.1 936.3,358.3 936.9,357.5 937.5,357.8 938.1,358.3 938.7,357.6 939.3,358.4 939.9,357.0 940.5,357.4 941.1,358.0 941.7,358.3 942.3,358.5 942.9,360.3 943.5,360.7 944.1,360.5 944.7,360.3 945.3,362.1 945.9,361.9 946.5,362.1 947.1,362.2 947.7,361.4 948.3,362.0 948.9,361.7 949.5,361.5 950.1,361.9 950.7,362.3 951.3,363.7 951.9,363.5 952.5,362.9 953.1,363.2 953.7,363.0 954.3,362.7 954.9,363.2 955.5,363.4 956.1,363.8 956.7,362.7 957.3,362.8 957.9,362.6 958.5,363.1 959.1,363.0 959.7,363.1 960.3,363.4 960.9,362.4 961.5,362.0 962.1,362.8 962.7,361.5 963.3,363.4 963.9,363.5 964.5,362.9 965.1,364.1 965.7,363.3 966.3,364.3 966.9,365.0 967.5,364.0 968.1,366.1 968.7,364.8 969.3,364.8 969.9,365.7 970.5,365.3 971.1,364.2 971.7,365.0 972.3,363.4 972.9,364.1 973.5,363.3 974.1,364.0 974.7,362.5 975.3,362.9 975.9,362.8 976.5,362.3 977.1,363.1 977.7,363.2 978.3,363.1 978.9,362.3 979.5,362.7 980.1,363.7 980.7,362.3 981.3,363.9 981.9,363.8 982.5,364.6 983.1,364.4 983.7,364.9 984.3,363.6 984.9,364.4 985.5,363.9 986.1,363.8 986.7,363.8 987.3,364.2 987.9,364.2 988.5,364.3 989.1,364.3 989.7,364.8 990.3,365.1 990.9,365.3 991.5,365.0 992.1,364.5 992.7,365.2 993.3,364.9 993.9,365.0 994.5,364.2 995.1,365.3 995.7,363.7 996.3,363.7 996.9,364.3 997.5,365.4 998.1,364.1 998.7,364.0 999.3,365.9 999.9,365.2 1000.5,364.6 1001.1,364.4 1001.7,365.2 1002.3,365.0 1002.9,365.8 1003.5,365.1 1004.1,366.0 1004.7,365.5 1005.3,365.2 1005.9,364.7 1006.5,365.2 1007.1,365.1 1007.7,365.2 1008.3,365.3 1008.9,365.6 1009.5,364.9 1010.1,365.6 1010.7,365.3 1011.3,365.4 1011.9,363.9 1012.5,365.3 1013.1,365.0 1013.7,364.1 1014.3,364.1 1014.9,364.2 1015.5,364.5 1016.1,365.4 1016.7,365.9 1017.3,365.5 1017.9,364.8 1018.5,365.8 1019.1,366.0 1019.7,364.2 1020.3,365.2 1020.9,365.1 1021.5,365.2 1022.1,365.3 1022.7,363.9 1023.3,364.5 1023.9,365.0 1024.5,365.2 1025.1,364.6 1025.7,364.9 1026.3,364.9 1026.9,364.5 1027.5,364.8 1028.1,364.5 1028.7,364.6 1029.3,364.5 1029.9,365.5 1030.5,364.3 1031.1,365.3 1031.7,364.8 1032.3,363.9 1032.9,364.5 1033.5,364.0 1034.1,364.1 1034.7,363.9 1035.3,362.2 1035.9,361.7 1036.5,361.7 1037.1,360.3 1037.7,360.4 1038.3,358.2 1038.9,356.7 1039.5,355.7 1040.1,352.6 1040.7,351.9 1041.3,350.0 1041.9,348.0 1042.5,345.9 1043.1,343.4 1043.7,342.6 1044.3,342.5 1044.9,343.0 1045.5,344.5 1046.1,346.4 1046.7,348.6 1047.3,350.7 1047.9,352.2 1048.5,353.3 1049.1,355.4 1049.7,356.0 1050.3,357.1 1050.9,359.2 1051.5,360.8 1052.1,360.5 1052.7,360.6 1053.3,361.9 1053.9,362.6 1054.5,364.1 1055.1,363.4 1055.7,364.5 1056.3,364.3 1056.9,364.1 1057.5,364.4 1058.1,363.6 1058.7,363.4 1059.3,364.1 1059.9,363.9 1060.5,365.3 1061.1,364.6 1061.7,365.7 1062.3,365.2 1062.9,365.6 1063.5,365.2 1064.1,366.4 1064.7,364.9 1065.3,365.0 1065.9,365.0 1066.5,365.2 1067.1,365.7 1067.7,365.9 1068.3,364.9 1068.9,366.4 1069.5,365.5 1070.1,365.2 1070.7,364.9 1071.3,366.2 1071.9,365.2 1072.5,366.8 1073.1,366.3 1073.7,367.1 1074.3,366.2 1074.9,366.0 1075.5,366.5 1076.1,367.1 1076.7,366.2 1077.3,367.6 1077.9,367.6 1078.5,367.7 1079.1,366.8 1079.7,366.8 1080.3,365.7 1080.9,366.5 1081.5,365.8 1082.1,365.5 1082.7,365.6 1083.3,365.7 1083.9,365.0 1084.5,364.7 1085.1,366.1 1085.7,364.9 1086.3,365.5 1086.9,365.7 1087.5,365.6 1088.1,365.9 1088.7,367.2 1089.3,366.8 1089.9,366.7 1090.5,365.3 1091.1,366.2 1091.7,366.0 1092.3,366.4 1092.9,366.3 1093.5,366.4 1094.1,366.0 1094.7,366.9 1095.3,366.5 1095.9,367.2 1096.5,366.1 1097.1,365.5 1097.7,366.0 1098.3,366.5 1098.9,365.3 1099.5,365.8 1100.1,365.3 1100.7,364.6 1101.3,365.1 1101.9,365.3 1102.5,365.9 1103.1,366.3 1103.7,365.8 1104.3,367.0 1104.9,366.1 1105.5,366.7 1106.1,365.7 1106.7,366.9 1107.3,365.5 1107.9,366.5 1108.5,365.7 1109.1,365.6 1109.7,365.1 1110.3,364.5 1110.9,365.2 1111.5,365.8 1112.1,365.9 1112.7,364.0 1113.3,365.3 1113.9,364.3 1114.5,364.0 1115.1,364.7 1115.7,364.6 1116.3,365.2 1116.9,365.7 1117.5,364.1 1118.1,365.1 1118.7,364.6 1119.3,364.4 1119.9,364.6 1120.5,364.2 1121.1,364.6 1121.7,364.3 1122.3,363.7 1122.9,363.7 1123.5,362.3 1124.1,362.8 1124.7,362.5 1125.3,362.6 1125.9,362.1 1126.5,362.1 1127.1,362.5 1127.7,362.4 1128.3,363.8 1128.9,363.5 1129.5,363.1 1130.1,363.8 1130.7,363.5 1131.3,364.1 1131.9,364.3 1132.5,364.0 1133.1,365.1 1133.7,364.8 1134.3,364.8 1134.9,364.7 1135.5,365.0 1136.1,365.5 1136.7,364.2 1137.3,365.8 1137.9,365.2 1138.5,365.2 1139.1,366.1 1139.7,365.2 1140.3,366.4 1140.9,366.7 1141.5,365.4 1142.1,366.6 1142.7,366.7 1143.3,366.2 1143.9,366.5 1144.5,366.9 1145.1,367.3 1145.7,367.5 1146.3,367.6 1146.9,367.4 1147.5,365.8 1148.1,366.1 1148.7,365.1 1149.3,365.2 1149.9,365.5 1150.5,366.3 1151.1,364.9 1151.7,365.9 1152.3,366.2 1152.9,367.4 1153.5,366.4 1154.1,367.6 1154.7,367.4 1155.3,367.7 1155.9,367.4 1156.5,368.1 1157.1,367.2 1157.7,366.6 1158.3,367.8 1158.9,366.6 1159.5,366.0 1160.1,367.3 1160.7,366.4 1161.3,367.4 1161.9,366.7 1162.5,366.8 1163.1,367.5 1163.7,367.5 1164.3,368.3 1164.9,367.2 1165.5,367.0 1166.1,366.8 1166.7,366.5 1167.3,366.7 1167.9,367.0 1168.5,366.5 1169.1,367.3 1169.7,365.9 1170.3,367.1 1170.9,366.1 1171.5,366.6 1172.1,367.3 1172.7,367.0 1173.3,366.9 1173.9,365.9 1174.5,365.7 1175.1,366.1 1175.7,365.9 1176.3,364.5 1176.9,364.8 1177.5,366.0 1178.1,365.7 1178.7,366.1 1179.3,365.4 1179.9,366.3 1180.5,365.8 1181.1,365.8 1181.7,366.6 1182.3,366.9 1182.9,366.7 1183.5,368.0 1184.1,368.1 1184.7,367.4 1185.3,368.2 1185.9,368.4 1186.5,368.0 1187.1,367.6 1187.7,366.8 1188.3,367.2 1188.9,366.9 1189.5,367.6 1190.1,366.4 1190.7,366.2 1191.3,367.6 1191.9,365.9 1192.5,366.9 1193.1,366.9 1193.7,366.4 1194.3,367.1 1194.9,366.4 1195.5,366.1 1196.1,366.1 1196.7,367.7 1197.3,366.7 1197.9,367.6 1198.5,366.9 1199.1,367.3 1199.7,366.2 1200.3,367.5 1200.9,368.1 1201.5,367.5 1202.1,366.5 1202.7,367.5 1203.3,366.9 1203.9,365.9 1204.5,367.2 1205.1,365.4 1205.7,364.9 1206.3,364.6 1206.9,365.4 1207.5,364.7 1208.1,365.1 1208.7,366.3 1209.3,367.0 1209.9,366.0 1210.5,367.1 1211.1,367.1 1211.7,367.2 1212.3,366.8 1212.9,367.0 1213.5,365.9 1214.1,367.1 1214.7,366.6 1215.3,366.6 1215.9,366.0 1216.5,367.1 1217.1,366.1 1217.7,366.7 1218.3,368.0 1218.9,367.2 1219.5,367.1 1220.1,368.1 1220.7,368.6 1221.3,368.6 1221.9,367.5 1222.5,367.7 1223.1,366.3 1223.7,367.1 1224.3,366.5 1224.9,366.9 1225.5,365.2 1226.1,366.2 1226.7,367.0 1227.3,366.2 1227.9,367.6 1228.5,367.5 1229.1,368.0 1229.7,367.4 1230.3,368.4 1230.9,368.3 1231.5,367.4 1232.1,366.8 1232.7,367.7 1233.3,366.6 1233.9,366.4 1234.5,366.4 1235.1,366.7 1235.7,365.6 1236.3,366.0 1236.9,366.5 1237.5,367.3 1238.1,366.4 1238.7,367.3 1239.3,366.5 1239.9,366.2 1240.5,366.0 1241.1,366.3 1241.7,365.7 1242.3,366.4 1242.9,365.4 1243.5,366.1 1244.1,366.1 1244.7,366.7 1245.3,366.0 1245.9,367.1 1246.5,366.4 1247.1,366.9 1247.7,366.5 1248.3,365.8 1248.9,366.4 1249.5,366.3 1250.1,366.0 1250.7,366.4 1251.3,365.5 1251.9,367.0 1252.5,367.2 1253.1,366.9 1253.7,366.7 1254.3,366.7 1254.9,366.6 1255.5,367.3 1256.1,367.4 1256.7,366.7 1257.3,366.2 1257.9,366.0 1258.5,366.5 1259.1,366.6 1259.7,366.7 1260.3,367.0 1260.9,366.4 1261.5,365.4 1262.1,366.1 1262.7,365.5 1263.3,365.2 1263.9,366.0 1264.5,366.1 1265.1,364.7 1265.7,365.3 1266.3,365.1 1266.9,367.0 1267.5,366.3 1268.1,366.1 1268.7,367.0 1269.3,366.6 1269.9,366.8 1270.5,367.8 1271.1,367.4 1271.7,367.9 1272.3,367.2 1272.9,367.1 1273.5,366.1 1274.1,366.8 1274.7,365.8 1275.3,367.1 1275.9,365.7 1276.5,366.6 1277.1,364.9 1277.7,365.7 1278.3,365.2 1278.9,366.2 1279.5,366.6 1280.1,365.3 1280.7,366.5 1281.3,366.0 1281.9,365.3 1282.5,366.5 1283.1,366.7 1283.7,365.4 1284.3,365.6 1284.9,365.7 1285.5,366.2 1286.1,366.0 1286.7,365.6 1287.3,366.1 1287.9,365.2 1288.5,364.4 1289.1,365.6 1289.7,365.0 1290.3,364.7 1290.9,365.1 1291.5,364.9 1292.1,364.5 1292.7,365.5 1293.3,365.0 1293.9,365.5 1294.5,364.8 1295.1,365.8 1295.7,365.8 1296.3,365.5 1296.9,366.7 1297.5,366.0 1298.1,365.7 1298.7,365.6 1299.3,366.1 1299.9,364.9 1300.5,366.2 1301.1,365.2 1301.7,365.3 1302.3,364.6 1302.9,365.7 1303.5,365.9 1304.1,366.1 1304.7,365.9 1305.3,365.0 1305.9,365.2 1306.5,365.1 1307.1,366.2 1307.7,365.5 1308.3,365.8 1308.9,364.2 1309.5,365.4 1310.1,364.8 1310.7,364.5 1311.3,363.9 1311.9,364.0 1312.5,362.4 1313.1,362.6 1313.7,362.1 1314.3,361.3 1314.9,360.6 1315.5,359.6 1316.1,358.9 1316.7,358.4 1317.3,357.4 1317.9,356.8 1318.5,357.9 1319.1,357.3 1319.7,356.4 1320.3,356.4 1320.9,355.8 1321.5,356.8 1322.1,356.3 1322.7,357.1 1323.3,357.4 1323.9,356.7 1324.5,358.0 1325.1,358.6 1325.7,359.2 1326.3,360.1 1326.9,359.3 1327.5,360.7 1328.1,360.0 1328.7,361.0 1329.3,361.4 1329.9,361.6 1330.5,362.6 1331.1,362.8 1331.7,364.3 1332.3,363.7 1332.9,363.2 1333.5,364.1 1334.1,364.0 1334.7,364.4 1335.3,364.7 1335.9,364.5 1336.5,363.9 1337.1,364.4 1337.7,364.5 1338.3,364.6 1338.9,365.3 1339.5,364.2 1340.1,364.2 1340.7,364.8 1341.3,365.7 1341.9,366.0 1342.5,365.5 1343.1,364.4 1343.7,365.7 1344.3,365.5 1344.9,365.8 1345.5,365.3 1346.1,364.2 1346.7,364.7 1347.3,364.9 1347.9,364.4 1348.5,364.8 1349.1,364.3 1349.7,365.2 1350.3,364.3 1350.9,364.4 1351.5,363.0 1352.1,363.8 1352.7,362.8 1353.3,361.4 1353.9,360.4 1354.5,359.7 1355.1,359.0 1355.7,358.1 1356.3,356.8 1356.9,356.2 1357.5,355.5 1358.1,353.8 1358.7,354.4 1359.3,352.9 1359.9,353.9 1360.5,353.4 1361.1,354.4 1361.7,354.9 1362.3,355.2 1362.9,356.5 1363.5,358.9 1364.1,358.6 1364.7,360.0 1365.3,360.4 1365.9,361.9 1366.5,361.6 1367.1,363.2 1367.7,363.1 1368.3,362.8 1368.9,363.1 1369.5,363.6 1370.1,364.4 1370.7,365.8 1371.3,365.3 1371.9,366.1 1372.5,365.0 1373.1,366.7 1373.7,365.6 1374.3,366.2 1374.9,366.6 1375.5,366.5 1376.1,366.6 1376.7,367.0 1377.3,366.0 1377.9,366.1 1378.5,365.6 1379.1,367.1 1379.7,365.8 1380.3,366.3 1380.9,367.0 1381.5,365.9 1382.1,366.0 1382.7,366.0 1383.3,367.4 1383.9,366.6 1384.5,367.7 1385.1,366.8 1385.7,366.5 1386.3,367.6 1386.9,367.6 1387.5,367.2 1388.1,367.8 1388.7,366.8 1389.3,367.8 1389.9,367.4 1390.5,368.1 1391.1,367.6 1391.7,366.9 1392.3,367.4 1392.9,367.1 1393.5,366.6 1394.1,367.5 1394.7,366.8 1395.3,367.3 1395.9,367.8 1396.5,367.2 1397.1,367.5 1397.7,366.6 1398.3,365.9 1398.9,365.9 1399.5,366.0 1400.1,366.1 1400.7,366.5 1401.3,366.7 1401.9,367.4 1402.5,367.7 1403.1,367.6 1403.7,367.9 1404.3,368.2 1404.9,367.7 1405.5,367.4 1406.1,367.3 1406.7,366.6 1407.3,366.6 1407.9,368.1 1408.5,367.0 1409.1,367.9 1409.7,367.2 1410.3,366.3 1410.9,367.5 1411.5,366.9 1412.1,367.5 1412.7,367.0 1413.3,368.1 1413.9,367.6 1414.5,367.1 1415.1,367.4 1415.7,368.1 1416.3,368.5 1416.9,368.4 1417.5,367.9 1418.1,366.8 1418.7,366.4 1419.3,365.9 1419.9,366.8 1420.5,365.8 1421.1,364.6 1421.7,364.4 1422.3,364.1 1422.9,363.8 1423.5,363.0 1424.1,361.4 1424.7,361.0 1425.3,359.9 1425.9,358.6 1426.5,357.8 1427.1,357.8 1427.7,357.4 1428.3,355.8 1428.9,356.0 1429.5,357.6 1430.1,356.9 1430.7,356.5 1431.3,358.6 1431.9,358.1 1432.5,359.3 1433.1,360.1 1433.7,360.6 1434.3,360.7 1434.9,361.0 1435.5,362.7 1436.1,362.8 1436.7,364.2 1437.3,364.4 1437.9,365.9 1438.5,365.9 1439.1,366.0 1439.7,366.8 1440.3,367.4 1440.9,366.1 1441.5,367.5 1442.1,366.9 1442.7,366.4 1443.3,366.3 1443.9,366.0 1444.5,366.9 1445.1,366.2 1445.7,366.9 1446.3,366.5 1446.9,365.9 1447.5,367.3 1448.1,367.1 1448.7,367.9 1449.3,368.2 1449.9,367.9 1450.5,367.9 1451.1,368.4 1451.7,368.2 1452.3,369.7 1452.9,368.6 1453.5,369.3 1454.1,370.1 1454.7,369.8 1455.3,369.8 1455.9,368.5 1456.5,369.3 1457.1,368.0 1457.7,369.2 1458.3,369.0 1458.9,369.2 1459.5,368.9 1460.1,368.4 1460.7,368.3 1461.3,369.6 1461.9,368.9 1462.5,368.8 1463.1,368.8 1463.7,368.1 1464.3,368.3 1464.9,367.9 1465.5,368.6 1466.1,368.9 1466.7,369.1 1467.3,368.8 1467.9,368.6 1468.5,368.6 1469.1,368.2 1469.7,369.0 1470.3,368.1 1470.9,367.9 1471.5,367.9 1472.1,368.1 1472.7,368.2 1473.3,369.0 1473.9,368.7 1474.5,369.5 1475.1,369.5 1475.7,370.2 1476.3,369.8 1476.9,369.9 1477.5,368.9 1478.1,368.6 1478.7,368.2 1479.3,369.3 1479.9,368.7 1480.5,370.5 1481.1,370.2 1481.7,369.3 1482.3,369.4 1482.9,370.9 1483.5,371.2 1484.1,371.2 1484.7,370.2 1485.3,370.3 1485.9,369.4 1486.5,369.2 1487.1,368.8 1487.7,369.4 1488.3,368.1 1488.9,369.3 1489.5,368.6 1490.1,368.5 1490.7,369.3 1491.3,369.9 1491.9,368.4 1492.5,368.4 1493.1,369.6 1493.7,369.2 1494.3,368.5 1494.9,368.3 1495.5,368.7 1496.1,367.7 1496.7,367.6 1497.3,368.4 1497.9,368.5 1498.5,368.5 1499.1,369.7 1499.7,369.4 1500.3,368.8 1500.9,368.8 1501.5,369.7 1502.1,368.8 1502.7,369.5 1503.3,369.7 1503.9,369.6 1504.5,368.7 1505.1,368.0 1505.7,368.7 1506.3,368.3 1506.9,367.8 1507.5,368.0 1508.1,368.6 1508.7,368.2 1509.3,368.4 1509.9,369.6 1510.5,370.1 1511.1,370.6 1511.7,369.9 1512.3,369.7 1512.9,368.7 1513.5,369.0 1514.1,369.7 1514.7,369.9 1515.3,369.7 1515.9,370.2 1516.5,370.2 1517.1,370.4 1517.7,368.9 1518.3,370.1 1518.9,370.5 1519.5,370.4 1520.1,370.3 1520.7,370.2 1521.3,370.2 1521.9,369.0 1522.5,369.4 1523.1,370.3 1523.7,370.1 1524.3,370.1 1524.9,369.0 1525.5,369.6 1526.1,369.4 1526.7,370.2 1527.3,369.5 1527.9,370.6 1528.5,370.0 1529.1,370.8"/>
<polyline fill="none" stroke="#ff00ff" stroke-width="9.5" stroke-linejoin="round" stroke-linecap="butt" shape-rendering="crispEdges" points="163.5,500.6 164.1,499.9 164.7,500.6 165.3,500.7 165.9,501.1 166.5,501.2 167.1,499.6 167.7,499.7 168.3,500.0 168.9,500.0 169.5,500.2 170.1,500.7 170.7,500.5 171.3,500.2 171.9,500.9 172.5,500.7 173.1,500.3 173.7,500.4 174.3,501.2 174.9,500.1 175.5,500.5 176.1,500.5 176.7,499.7 177.3,499.7 177.9,499.8 178.5,500.2 179.1,499.3 179.7,500.0 180.3,499.4 180.9,499.7 181.5,498.6 182.1,499.1 182.7,499.6 183.3,499.5 183.9,499.5 184.5,499.6 185.1,500.3 185.7,499.9 186.3,499.8 186.9,500.3 187.5,499.7 188.1,499.8 188.7,499.2 189.3,500.0 189.9,500.7 190.5,500.9 191.1,499.7 191.7,500.8 192.3,499.6 192.9,500.0 193.5,500.3 194.1,499.7 194.7,500.5 195.3,500.3 195.9,499.6 196.5,499.9 197.1,499.6 197.7,499.2 198.3,499.2 198.9,498.4 199.5,499.5 200.1,499.2 200.7,499.5 201.3,500.1 201.9,499.5 202.5,499.2 203.1,499.3 203.7,499.0 204.3,499.9 204.9,499.8 205.5,499.9 206.1,498.7 206.7,498.8 207.3,499.8 207.9,499.1 208.5,499.3 209.1,499.5 209.7,499.2 210.3,499.1 210.9,499.7 211.5,498.7 212.1,499.9 212.7,499.7 213.3,499.5 213.9,500.1 214.5,500.7 215.1,500.5 215.7,500.5 216.3,499.4 216.9,499.8 217.5,499.9 218.1,499.0 218.7,499.6 219.3,499.7 219.9,499.9 220.5,499.8 221.1,499.3 221.7,500.0 222.3,498.7 222.9,498.7 223.5,500.0 224.1,498.8 224.7,498.6 225.3,498.7 225.9,498.7 226.5,498.4 227.1,499.4 227.7,499.3 228.3,499.1 228.9,499.9 229.5,499.9 230.1,498.6 230.7,498.6 231.3,499.1 231.9,500.2 232.5,498.9 233.1,499.6 233.7,498.9 234.3,500.0 234.9,500.1 235.5,500.0 236.1,499.7 236.7,499.2 237.3,498.3 237.9,498.3 238.5,498.4 239.1,499.2 239.7,497.9 240.3,497.9 240.9,498.2 241.5,497.8 242.1,497.8 242.7,498.8 243.3,497.8 243.9,498.5 244.5,498.3 245.1,498.3 245.7,499.1 246.3,500.0 246.9,499.6 247.5,499.6 248.1,500.0 248.7,500.9 249.3,501.0 249.9,501.1 250.5,500.2 251.1,500.5 251.7,500.5 252.3,500.7 252.9,500.8 253.5,499.7 254.1,499.6 254.7,499.1 255.3,500.3 255.9,499.8 256.5,499.7 257.1,499.3 257.7,499.4 258.3,499.7 258.9,497.7 259.5,499.1 260.1,499.3 260.7,498.9 261.3,499.4 261.9,500.0 262.5,498.8 263.1,500.1 263.7,500.5 264.3,499.8 264.9,501.3 265.5,500.1 266.1,500.0 266.7,500.5 267.3,500.6 267.9,499.6 268.5,499.1 269.1,500.0 269.7,499.6 270.3,499.4 270.9,499.3 271.5,500.1 272.1,499.9 272.7,500.0 273.3,500.2 273.9,498.9 274.5,499.9 275.1,500.0 275.7,499.5 276.3,499.9 276.9,499.6 277.5,499.6 278.1,500.3 278.7,499.5 279.3,501.0 279.9,500.2 280.5,500.5 281.1,500.4 281.7,501.2 282.3,500.3 282.9,502.0 283.5,501.8 284.1,501.4 284.7,501.5 285.3,501.0 285.9,501.5 286.5,501.5 287.1,501.7 287.7,501.8 288.3,501.3 288.9,500.9 289.5,501.0 290.1,500.5 290.7,499.9 291.3,500.5 291.9,500.3 292.5,499.8 293.1,500.8 293.7,500.6 294.3,500.6 294.9,500.0 295.5,500.4 296.1,499.8 296.7,501.4 297.3,501.2 297.9,500.2 298.5,499.8 299.1,500.1 299.7,500.9 300.3,501.0 300.9,499.5 301.5,501.1 302.1,500.0 302.7,499.6 303.3,499.6 303.9,499.8 304.5,500.7 305.1,501.6 305.7,501.5 306.3,502.0 306.9,500.9 307.5,502.2 308.1,500.6 308.7,500.8 309.3,501.6 309.9,501.0 310.5,501.0 311.1,500.8 311.7,500.3 312.3,500.4 312.9,499.5 313.5,500.9 314.1,501.5 314.7,501.3 315.3,501.3 315.9,501.4 316.5,499.5 317.1,499.2 317.7,499.8 318.3,500.7 318.9,500.4 319.5,500.0 320.1,501.1 320.7,500.9 321.3,500.2 321.9,501.4 322.5,501.8 323.1,502.0 323.7,501.2 324.3,502.1 324.9,501.1 325.5,500.9 326.1,501.3 326.7,501.9 327.3,501.4 327.9,501.0 328.5,501.6 329.1,500.3 329.7,501.8 330.3,500.9 330.9,501.6 331.5,501.3 332.1,501.5 332.7,501.8 333.3,503.2 333.9,502.7 334.5,503.5 335.1,502.6 335.7,503.1 336.3,503.6 336.9,501.9 337.5,502.4 338.1,501.6 338.7,501.0 339.3,501.3 339.9,500.4 340.5,500.7 341.1,501.3 341.7,500.8 342.3,500.4 342.9,500.2 343.5,500.6 344.1,499.3 344.7,500.4 345.3,499.1 345.9,498.9 346.5,499.3 347.1,498.5 347.7,497.7 348.3,498.6 348.9,497.9 349.5,498.8 350.1,498.3 350.7,497.9 351.3,496.9 351.9,497.6 352.5,496.9 353.1,496.7 353.7,496.4 354.3,494.9 354.9,493.8 355.5,492.7 356.1,491.1 356.7,488.5 357.3,486.5 357.9,483.3 358.5,480.0 359.1,477.3 359.7,474.1 360.3,468.8 360.9,466.1 361.5,461.2 362.1,458.8 362.7,455.6 363.3,455.0 363.9,457.2 364.5,459.5 365.1,462.8 365.7,466.0 366.3,469.4 366.9,475.1 367.5,478.1 368.1,482.1 368.7,484.9 369.3,488.2 369.9,490.1 370.5,491.9 371.1,493.1 371.7,494.9 372.3,495.2 372.9,497.4 373.5,498.4 374.1,498.3 374.7,498.9 375.3,500.0 375.9,500.5 376.5,500.3 377.1,501.9 377.7,502.0 378.3,502.7 378.9,502.7 379.5,503.3 380.1,504.2 380.7,504.2 381.3,506.0 381.9,506.3 382.5,506.3 383.1,505.3 383.7,504.9 384.3,504.6 384.9,505.2 385.5,505.6 386.1,506.2 386.7,506.0 387.3,506.0 387.9,505.5 388.5,505.6 389.1,506.9 389.7,506.9 390.3,507.5 390.9,506.9 391.5,507.4 392.1,507.7 392.7,506.8 393.3,508.1 393.9,506.7 394.5,506.8 395.1,506.4 395.7,508.0 396.3,508.0 396.9,507.1 397.5,507.6 398.1,507.4 398.7,507.4 399.3,508.0 399.9,507.4 400.5,508.9 401.1,509.4 401.7,508.1 402.3,508.3 402.9,508.9 403.5,509.9 404.1,510.2 404.7,509.5 405.3,510.5 405.9,509.9 406.5,509.6 407.1,509.1 407.7,509.6 408.3,508.1 408.9,508.2 409.5,507.7 410.1,507.7 410.7,508.6 411.3,508.4 411.9,507.1 412.5,507.8 413.1,509.1 413.7,508.5 414.3,508.3 414.9,509.5 415.5,508.4 416.1,509.7 416.7,509.7 417.3,509.4 417.9,509.2 418.5,509.1 419.1,509.8 419.7,509.3 420.3,508.8 420.9,509.1 421.5,508.6 422.1,509.2 422.7,508.1 423.3,508.7 423.9,508.5 424.5,508.9 425.1,509.1 425.7,509.0 426.3,509.2 426.9,508.0 427.5,508.7 428.1,508.3 428.7,509.0 429.3,507.6 429.9,509.0 430.5,508.4 431.1,508.6 431.7,508.7 432.3,509.6 432.9,509.8 433.5,509.8 434.1,509.2 434.7,510.3 435.3,509.4 435.9,509.6 436.5,509.6 437.1,509.8 437.7,509.4 438.3,509.4 438.9,510.1 439.5,509.9 440.1,510.6 440.7,510.0 441.3,510.0 441.9,510.0 442.5,509.9 443.1,509.9 443.7,509.6 444.3,509.0 444.9,509.4 445.5,508.9 446.1,508.9 446.7,509.1 447.3,510.2 447.9,511.5 448.5,510.0 449.1,510.5 449.7,511.8 450.3,511.4 450.9,511.4 451.5,510.8 452.1,510.5 452.7,510.8 453.3,510.0 453.9,510.9 454.5,510.4 455.1,510.9 455.7,510.5 456.3,509.6 456.9,509.2 457.5,509.6 458.1,509.9 458.7,510.1 459.3,510.0 459.9,509.6 460.5,510.7 461.1,509.9 461.7,510.7 462.3,511.4 462.9,512.5 463.5,512.8 464.1,512.5 464.7,511.6 465.3,511.0 465.9,512.0 466.5,511.7 467.1,510.8 467.7,511.8 468.3,511.8 468.9,510.4 469.5,511.2 470.1,511.3 470.7,511.4 471.3,511.1 471.9,512.4 472.5,511.7 473.1,512.3 473.7,511.9 474.3,511.9 474.9,513.3 475.5,512.0 476.1,513.0 476.7,512.6 477.3,512.0 477.9,511.8 478.5,511.4 479.1,511.9 479.7,511.6 480.3,511.7 480.9,512.4 481.5,512.6 482.1,512.1 482.7,512.5 483.3,512.4 483.9,512.0 484.5,512.1 485.1,512.2 485.7,512.0 486.3,512.9 486.9,512.9 487.5,513.2 488.1,512.6 488.7,512.9 489.3,511.8 489.9,511.8 490.5,512.4 491.1,511.0 491.7,510.8 492.3,511.4 492.9,511.7 493.5,512.2 494.1,510.4 494.7,512.0 495.3,511.9 495.9,512.7 496.5,513.0 497.1,512.6 497.7,512.8 498.3,512.3 498.9,512.9 499.5,513.3 500.1,512.6 500.7,512.8 501.3,513.3 501.9,513.0 502.5,514.0 503.1,513.9 503.7,513.2 504.3,513.3 504.9,514.2 505.5,513.4 506.1,514.3 506.7,512.9 507.3,513.9 507.9,513.4 508.5,514.4 509.1,513.5 509.7,513.9 510.3,513.2 510.9,514.2 511.5,513.3 512.1,514.8 512.7,514.0 513.3,514.5 513.9,514.3 514.5,514.3 515.1,513.3 515.7,513.0 516.3,514.8 516.9,514.5 517.5,514.3 518.1,514.1 518.7,513.3 519.3,512.5 519.9,514.3 520.5,513.9 521.1,513.9 521.7,514.2 522.3,514.4 522.9,513.4 523.5,512.7 524.1,512.7 524.7,514.3 525.3,513.1 525.9,514.7 526.5,512.5 527.1,512.7 527.7,512.3 528.3,512.8 528.9,512.6 529.5,513.3 530.1,513.2 530.7,513.6 531.3,513.7 531.9,514.2 532.5,513.5 533.1,515.4 533.7,514.7 534.3,514.9 534.9,515.8 535.5,514.9 536.1,515.2 536.7,515.0 537.3,514.6 537.9,515.1 538.5,513.7 539.1,514.3 539.7,514.5 540.3,514.0 540.9,515.0 541.5,515.0 542.1,513.9 542.7,514.1 543.3,514.4 543.9,514.5 544.5,514.4 545.1,513.8 545.7,512.9 546.3,513.3 546.9,513.1 547.5,512.8 548.1,513.7 548.7,512.9 549.3,514.6 549.9,513.8 550.5,514.5 551.1,514.5 551.7,514.3 552.3,513.5 552.9,513.5 553.5,512.7 554.1,512.1 554.7,512.0 555.3,512.6 555.9,511.4 556.5,512.2 557.1,511.1 557.7,511.8 558.3,510.6 558.9,510.8 559.5,511.6 560.1,511.9 560.7,510.8 561.3,512.5 561.9,513.2 562.5,512.1 563.1,513.7 563.7,512.4 564.3,513.8 564.9,513.9 565.5,512.3 566.1,513.3 566.7,512.0 567.3,512.4 567.9,511.5 568.5,511.8 569.1,511.8 569.7,510.5 570.3,510.5 570.9,510.1 571.5,509.7 572.1,508.3 572.7,506.7 573.3,506.8 573.9,504.4 574.5,501.1 575.1,499.0 575.7,493.7 576.3,486.1 576.9,477.7 577.5,467.3 578.1,455.4 578.7,439.9 579.3,425.0 579.9,409.2 580.5,396.4 581.1,389.3 581.7,387.2 582.3,393.2 582.9,404.9 583.5,419.4 584.1,435.9 584.7,450.1 585.3,464.8 585.9,476.2 586.5,483.9 587.1,491.7 587.7,496.7 588.3,500.5 588.9,503.7 589.5,506.3 590.1,508.7 590.7,509.1 591.3,510.1 591.9,510.8 592.5,511.2 593.1,511.9 593.7,511.5 594.3,512.1 594.9,512.2 595.5,511.8 596.1,511.7 596.7,512.1 597.3,512.3 597.9,512.8 598.5,513.2 599.1,513.0 599.7,513.4 600.3,513.1 600.9,512.9 601.5,514.4 602.1,513.8 602.7,513.4 603.3,513.8 603.9,512.8 604.5,514.3 605.1,512.9 605.7,513.5 606.3,512.7 606.9,512.6 607.5,514.0 608.1,514.3 608.7,514.6 609.3,514.5 609.9,514.6 610.5,514.6 611.1,514.3 611.7,514.7 612.3,515.1 612.9,513.8 613.5,514.3 614.1,514.7 614.7,514.5 615.3,514.8 615.9,515.0 616.5,515.0 617.1,514.7 617.7,513.9 618.3,515.5 618.9,513.7 619.5,513.1 620.1,512.7 620.7,514.1 621.3,513.4 621.9,514.0 622.5,512.8 623.1,512.5 623.7,512.3 624.3,512.4 624.9,512.1 625.5,510.8 626.1,511.1 626.7,509.0 627.3,509.4 627.9,509.2 628.5,508.6 629.1,508.8 629.7,507.8 630.3,508.4 630.9,507.2 631.5,508.0 632.1,509.2 632.7,509.2 633.3,510.5 633.9,511.2 634.5,511.9 635.1,512.5 635.7,512.8 636.3,513.3 636.9,514.1 637.5,514.9 638.1,515.1 638.7,513.6 639.3,513.6 639.9,514.2 640.5,515.6 641.1,515.0 641.7,515.1 642.3,514.7 642.9,514.9 643.5,515.7 644.1,514.9 644.7,514.5 645.3,515.6 645.9,515.0 646.5,515.4 647.1,514.4 647.7,515.5 648.3,514.7 648.9,516.7 649.5,515.9 650.1,517.5 650.7,516.7 651.3,516.8 651.9,516.7 652.5,516.7 653.1,516.3 653.7,517.5 654.3,517.1 654.9,515.5 655.5,514.9 656.1,515.7 656.7,515.0 657.3,515.4 657.9,514.5 658.5,515.0 659.1,514.9 659.7,514.9 660.3,514.6 660.9,514.8 661.5,514.2 662.1,513.3 662.7,512.9 663.3,513.3 663.9,513.7 664.5,512.0 665.1,511.6 665.7,511.0 666.3,507.7 666.9,507.0 667.5,503.8 668.1,500.2 668.7,495.6 669.3,487.6 669.9,479.6 670.5,469.0 671.1,457.5 671.7,445.2 672.3,431.7 672.9,421.6 673.5,414.5 674.1,411.9 674.7,415.6 675.3,425.0 675.9,436.6 676.5,450.1 677.1,463.0 677.7,473.4 678.3,484.7 678.9,491.4 679.5,498.9 680.1,502.5 680.7,505.7 681.3,509.0 681.9,510.3 682.5,511.3 683.1,512.3 683.7,513.3 684.3,513.6 684.9,513.4 685.5,513.7 686.1,514.3 686.7,513.4 687.3,513.4 687.9,513.9 688.5,514.0 689.1,513.3 689.7,514.4 690.3,514.6 690.9,515.3 691.5,515.1 692.1,515.4 692.7,516.4 693.3,516.0 693.9,516.8 694.5,517.2 695.1,517.3 695.7,516.1 696.3,517.5 696.9,517.4 697.5,517.5 698.1,518.7 698.7,518.3 699.3,518.8 699.9,517.5 700.5,518.1 701.1,518.3 701.7,518.5 702.3,516.5 702.9,516.7 703.5,516.0 704.1,516.7 704.7,515.4 705.3,515.4 705.9,517.1 706.5,516.7 707.1,517.1 707.7,517.2 708.3,516.6 708.9,517.4 709.5,516.3 710.1,516.4 710.7,516.2 711.3,517.7 711.9,517.3 712.5,518.0 713.1,517.4 713.7,518.1 714.3,518.2 714.9,518.2 715.5,518.9 716.1,518.4 716.7,518.9 717.3,519.0 717.9,519.1 718.5,517.6 719.1,518.0 719.7,518.9 720.3,518.4 720.9,517.7 721.5,518.3 722.1,517.4 722.7,518.1 723.3,517.7 723.9,518.2 724.5,517.8 725.1,517.2 725.7,516.3 726.3,517.7 726.9,517.2 727.5,517.8 728.1,517.3 728.7,517.2 729.3,517.2 729.9,516.6 730.5,518.6 731.1,517.7 731.7,518.1 732.3,518.5 732.9,517.7 733.5,517.9 734.1,518.8 734.7,518.3 735.3,517.5 735.9,517.8 736.5,517.4 737.1,518.0 737.7,518.3 738.3,518.4 738.9,517.1 739.5,518.5 740.1,518.8 740.7,518.4 741.3,518.4 741.9,519.7 742.5,519.3 743.1,517.9 743.7,518.2 744.3,519.1 744.9,517.6 745.5,518.4 746.1,517.9 746.7,518.4 747.3,519.0 747.9,517.8 748.5,518.7 749.1,518.1 749.7,518.5 750.3,517.6 750.9,518.5 751.5,518.1 752.1,517.5 752.7,516.8 753.3,516.8 753.9,517.2 754.5,517.5 755.1,517.7 755.7,517.8 756.3,517.7 756.9,518.5 757.5,518.0 758.1,518.0 758.7,518.3 759.3,518.1 759.9,518.2 760.5,518.9 761.1,519.3 761.7,519.6 762.3,518.4 762.9,518.2 763.5,519.1 764.1,520.1 764.7,519.2 765.3,519.0 765.9,519.7 766.5,519.2 767.1,519.8 767.7,519.6 768.3,520.0 768.9,519.7 769.5,519.0 770.1,518.6 770.7,519.6 771.3,520.2 771.9,518.8 772.5,518.5 773.1,518.6 773.7,520.2 774.3,520.3 774.9,519.8 775.5,520.6 776.1,520.6 776.7,519.8 777.3,519.5 777.9,519.8 778.5,520.1 779.1,520.7 779.7,520.7 780.3,519.7 780.9,520.6 781.5,518.9 782.1,519.0 782.7,519.2 783.3,519.1 783.9,519.4 784.5,518.8 785.1,520.6 785.7,520.5 786.3,519.5 786.9,520.4 787.5,520.1 788.1,520.9 788.7,519.7 789.3,519.7 789.9,520.3 790.5,519.2 791.1,519.1 791.7,518.4 792.3,518.6 792.9,519.9 793.5,519.7 794.1,518.9 794.7,519.1 795.3,519.1 795.9,519.5 796.5,519.4 797.1,519.6 797.7,520.2 798.3,519.7 798.9,519.5 799.5,518.8 800.1,520.4 800.7,520.9 801.3,519.6 801.9,520.1 802.5,518.9 803.1,519.2 803.7,519.3 804.3,518.7 804.9,519.6 805.5,519.2 806.1,518.2 806.7,519.8 807.3,519.9 807.9,519.8 808.5,519.7 809.1,519.5 809.7,520.1 810.3,519.8 810.9,519.5 811.5,519.7 812.1,519.3 812.7,519.9 813.3,519.5 813.9,519.2 814.5,520.0 815.1,520.6 815.7,520.0 816.3,519.0 816.9,519.4 817.5,519.8 818.1,520.7 818.7,519.7 819.3,520.2 819.9,519.0 820.5,519.0 821.1,520.2 821.7,519.4 822.3,519.8 822.9,519.7 823.5,519.4 824.1,519.9 824.7,518.9 825.3,518.5 825.9,519.1 826.5,519.6 827.1,518.9 827.7,520.6 828.3,520.3 828.9,521.2 829.5,521.0 830.1,519.9 830.7,519.9 831.3,520.6 831.9,519.3 832.5,520.3 833.1,520.1 833.7,520.1 834.3,519.7 834.9,519.5 835.5,520.4 836.1,520.2 836.7,519.8 837.3,520.8 837.9,520.3 838.5,520.3 839.1,520.9 839.7,521.4 840.3,520.8 840.9,520.4 841.5,521.2 842.1,520.9 842.7,521.1 843.3,520.9 843.9,521.6 844.5,520.2 845.1,520.4 845.7,520.6 846.3,521.2 846.9,520.2 847.5,520.3 848.1,520.3 848.7,519.8 849.3,519.4 849.9,518.5 850.5,518.6 851.1,518.6 851.7,519.2 852.3,518.0 852.9,519.3 853.5,518.3 854.1,519.8 854.7,519.1 855.3,519.8 855.9,520.2 856.5,520.7 857.1,519.9 857.7,520.5 858.3,520.6 858.9,520.6 859.5,519.1 860.1,519.2 860.7,520.1 861.3,519.8 861.9,520.2 862.5,520.7 863.1,520.4 863.7,520.1 864.3,519.5 864.9,519.6 865.5,520.2 866.1,520.1 866.7,520.6 867.3,521.1 867.9,520.0 868.5,521.0 869.1,521.6 869.7,522.2 870.3,522.2 870.9,521.0 871.5,521.3 872.1,521.5 872.7,520.8 873.3,521.2 873.9,520.8 874.5,519.4 875.1,519.6 875.7,519.6 876.3,519.8 876.9,520.6 877.5,520.3 878.1,520.6 878.7,520.2 879.3,520.9 879.9,521.4 880.5,520.9 881.1,522.0 881.7,521.6 882.3,520.2 882.9,520.3 883.5,519.6 884.1,520.8 884.7,520.6 885.3,520.5 885.9,520.5 886.5,519.9 887.1,519.8 887.7,521.5 888.3,521.6 888.9,521.1 889.5,521.1 890.1,521.6 890.7,521.3 891.3,520.5 891.9,520.9 892.5,519.4 893.1,520.1 893.7,519.1 894.3,520.3 894.9,519.7 895.5,520.5 896.1,520.1 896.7,520.2 897.3,520.6 897.9,521.3 898.5,520.9 899.1,521.6 899.7,521.4 900.3,521.4 900.9,520.4 901.5,520.0 902.1,519.6 902.7,519.8 903.3,520.3 903.9,519.8 904.5,520.2 905.1,519.4 905.7,519.8 906.3,519.9 906.9,520.3 907.5,520.6 908.1,519.7 908.7,520.0 909.3,519.8 909.9,520.2 910.5,521.3 911.1,520.9 911.7,521.4 912.3,521.4 912.9,521.3 913.5,521.2 914.1,521.3 914.7,521.7 915.3,522.1 915.9,522.4 916.5,522.5 917.1,521.7 917.7,521.0 918.3,521.6 918.9,522.1 919.5,521.9 920.1,520.1 920.7,520.9 921.3,520.3 921.9,520.6 922.5,520.9 923.1,519.9 923.7,521.7 924.3,520.5 924.9,521.0 925.5,520.7 926.1,520.0 926.7,521.5 927.3,520.4 927.9,519.7 928.5,519.4 929.1,519.2 929.7,519.8 930.3,519.2 930.9,519.9 931.5,518.6 932.1,519.1 932.7,518.4 933.3,518.7 933.9,517.9 934.5,518.1 935.1,517.6 935.7,518.0 936.3,518.2 936.9,517.9 937.5,518.4 938.1,517.7 938.7,517.5 939.3,518.1 939.9,518.9 940.5,518.3 941.1,517.5 941.7,518.6 942.3,519.1 942.9,518.6 943.5,519.3 944.1,519.3 944.7,519.3 945.3,519.2 945.9,519.9 946.5,519.7 947.1,519.6 947.7,520.6 948.3,520.8 948.9,519.1 949.5,520.5 950.1,520.3 950.7,519.6 951.3,519.6 951.9,519.5 952.5,520.6 953.1,520.2 953.7,521.4 954.3,522.1 954.9,520.7 955.5,521.0 956.1,521.2 956.7,520.9 957.3,520.9 957.9,520.2 958.5,521.9 959.1,521.5 959.7,522.2 960.3,522.0 960.9,521.0 961.5,521.0 962.1,520.8 962.7,522.2 963.3,521.6 963.9,521.8 964.5,521.2 965.1,520.4 965.7,521.3 966.3,520.9 966.9,520.6 967.5,520.2 968.1,520.6 968.7,521.0 969.3,520.5 969.9,520.2 970.5,519.8 971.1,520.6 971.7,521.7 972.3,521.5 972.9,521.9 973.5,521.0 974.1,521.2 974.7,521.5 975.3,521.4 975.9,522.2 976.5,520.8 977.1,520.9 977.7,522.0 978.3,521.4 978.9,522.3 979.5,523.1 980.1,523.7 980.7,523.0 981.3,522.3 981.9,522.0 982.5,521.1 983.1,520.8 983.7,520.4 984.3,519.8 984.9,520.9 985.5,520.8 986.1,521.7 986.7,521.2 987.3,520.8 987.9,521.4 988.5,521.6 989.1,521.4 989.7,523.2 990.3,521.8 990.9,523.0 991.5,522.4 992.1,522.8 992.7,523.0 993.3,522.4 993.9,521.5 994.5,522.9 995.1,522.4 995.7,522.8 996.3,523.0 996.9,522.3 997.5,522.5 998.1,523.8 998.7,523.8 999.3,523.6 999.9,522.3 1000.5,523.3 1001.1,522.2 1001.7,522.0 1002.3,521.3 1002.9,521.7 1003.5,521.4 1004.1,521.9 1004.7,520.4 1005.3,520.5 1005.9,521.4 1006.5,520.2 1007.1,521.3 1007.7,521.3 1008.3,522.0 1008.9,521.3 1009.5,520.6 1010.1,521.9 1010.7,520.7 1011.3,521.4 1011.9,521.6 1012.5,521.4 1013.1,521.4 1013.7,522.0 1014.3,521.0 1014.9,521.9 1015.5,522.0 1016.1,522.2 1016.7,521.6 1017.3,521.8 1017.9,522.5 1018.5,521.7 1019.1,522.2 1019.7,522.7 1020.3,522.8 1020.9,523.0 1021.5,522.5 1022.1,521.8 1022.7,521.6 1023.3,522.0 1023.9,522.7 1024.5,521.6 1025.1,522.5 1025.7,521.7 1026.3,522.6 1026.9,522.8 1027.5,521.7 1028.1,521.5 1028.7,521.7 1029.3,522.5 1029.9,522.2 1030.5,521.6 1031.1,520.8 1031.7,521.2 1032.3,521.7 1032.9,521.0 1033.5,521.2 1034.1,521.7 1034.7,521.4 1035.3,520.7 1035.9,520.7 1036.5,521.1 1037.1,521.6 1037.7,519.9 1038.3,520.7 1038.9,518.8 1039.5,518.2 1040.1,518.8 1040.7,517.5 1041.3,517.8 1041.9,517.3 1042.5,516.4 1043.1,516.3 1043.7,515.7 1044.3,515.7 1044.9,516.5 1045.5,515.4 1046.1,515.1 1046.7,515.7 1047.3,516.2 1047.9,516.1 1048.5,517.1 1049.1,516.0 1049.7,516.9 1050.3,518.3 1050.9,518.5 1051.5,519.9 1052.1,520.4 1052.7,520.7 1053.3,521.6 1053.9,521.9 1054.5,521.6 1055.1,521.4 1055.7,521.6 1056.3,521.5 1056.9,520.9 1057.5,521.7 1058.1,521.8 1058.7,522.1 1059.3,522.4 1059.9,521.9 1060.5,521.8 1061.1,523.1 1061.7,522.4 1062.3,523.0 1062.9,523.0 1063.5,523.4 1064.1,523.8 1064.7,523.8 1065.3,524.9 1065.9,524.9 1066.5,524.2 1067.1,523.5 1067.7,522.2 1068.3,522.1 1068.9,522.9 1069.5,522.9 1070.1,521.8 1070.7,522.0 1071.3,521.5 1071.9,521.8 1072.5,521.9 1073.1,522.0 1073.7,522.4 1074.3,522.5 1074.9,522.1 1075.5,521.6 1076.1,521.6 1076.7,522.6 1077.3,522.1 1077.9,523.7 1078.5,522.8 1079.1,523.1 1079.7,524.4 1080.3,524.2 1080.9,523.4 1081.5,523.5 1082.1,524.8 1082.7,523.7 1083.3,523.6 1083.9,524.2 1084.5,524.1 1085.1,523.1 1085.7,522.9 1086.3,524.3 1086.9,523.8 1087.5,524.1 1088.1,523.1 1088.7,523.1 1089.3,524.1 1089.9,523.7 1090.5,522.3 1091.1,523.1 1091.7,522.3 1092.3,522.2 1092.9,522.1 1093.5,520.7 1094.1,521.1 1094.7,520.7 1095.3,520.6 1095.9,521.4 1096.5,520.1 1097.1,520.3 1097.7,521.0 1098.3,522.3 1098.9,522.8 1099.5,523.6 1100.1,523.0 1100.7,523.8 1101.3,522.6 1101.9,522.9 1102.5,522.4 1103.1,523.7 1103.7,522.6 1104.3,522.6 1104.9,523.2 1105.5,522.2 1106.1,522.1 1106.7,522.9 1107.3,523.6 1107.9,524.6 1108.5,522.3 1109.1,523.3 1109.7,522.3 1110.3,523.6 1110.9,522.3 1111.5,522.8 1112.1,522.1 1112.7,522.2 1113.3,522.8 1113.9,522.1 1114.5,522.0 1115.1,522.4 1115.7,523.2 1116.3,523.5 1116.9,523.0 1117.5,521.5 1118.1,521.7 1118.7,522.5 1119.3,521.7 1119.9,521.3 1120.5,522.0 1121.1,520.8 1121.7,521.2 1122.3,520.3 1122.9,521.3 1123.5,520.6 1124.1,521.4 1124.7,520.8 1125.3,521.5 1125.9,521.3 1126.5,520.7 1127.1,520.9 1127.7,522.2 1128.3,521.3 1128.9,521.1 1129.5,521.2 1130.1,521.3 1130.7,520.5 1131.3,520.5 1131.9,519.6 1132.5,520.3 1133.1,519.6 1133.7,520.7 1134.3,521.9 1134.9,520.8 1135.5,520.6 1136.1,521.2 1136.7,520.9 1137.3,522.2 1137.9,521.7 1138.5,522.1 1139.1,522.8 1139.7,522.7 1140.3,522.5 1140.9,523.4 1141.5,523.6 1142.1,522.8 1142.7,521.7 1143.3,521.9 1143.9,522.8 1144.5,523.2 1145.1,523.1 1145.7,522.3 1146.3,522.6 1146.9,522.1 1147.5,523.5 1148.1,524.4 1148.7,523.4 1149.3,523.9 1149.9,523.1 1150.5,523.9 1151.1,523.2 1151.7,523.4 1152.3,522.9 1152.9,523.0 1153.5,522.9 1154.1,524.4 1154.7,523.0 1155.3,522.8 1155.9,523.4 1156.5,522.0 1157.1,522.2 1157.7,522.7 1158.3,521.9 1158.9,521.0 1159.5,522.0 1160.1,521.6 1160.7,521.9 1161.3,523.1 1161.9,522.8 1162.5,523.4 1163.1,523.2 1163.7,523.9 1164.3,522.5 1164.9,522.1 1165.5,522.5 1166.1,522.9 1166.7,522.0 1167.3,522.6 1167.9,522.4 1168.5,521.9 1169.1,521.5 1169.7,521.3 1170.3,521.1 1170.9,522.2 1171.5,522.2 1172.1,523.4 1172.7,522.5 1173.3,521.9 1173.9,521.8 1174.5,522.1 1175.1,523.7 1175.7,523.2 1176.3,523.8 1176.9,523.5 1177.5,523.3 1178.1,524.7 1178.7,523.4 1179.3,523.2 1179.9,523.0 1180.5,523.0 1181.1,522.1 1181.7,523.1 1182.3,523.3 1182.9,523.0 1183.5,523.0 1184.1,523.6 1184.7,523.4 1185.3,523.0 1185.9,524.0 1186.5,523.1 1187.1,523.4 1187.7,522.4 1188.3,523.5 1188.9,523.5 1189.5,523.2 1190.1,523.6 1190.7,523.6 1191.3,522.9 1191.9,522.4 1192.5,522.2 1193.1,523.7 1193.7,522.3 1194.3,522.3 1194.9,523.1 1195.5,522.1 1196.1,522.0 1196.7,522.5 1197.3,522.3 1197.9,522.1 1198.5,522.9 1199.1,521.7 1199.7,522.7 1200.3,521.7 1200.9,521.4 1201.5,521.9 1202.1,521.2 1202.7,521.9 1203.3,522.2 1203.9,523.0 1204.5,523.2 1205.1,522.5 1205.7,522.9 1206.3,522.4 1206.9,523.1 1207.5,522.7 1208.1,523.7 1208.7,523.1 1209.3,523.5 1209.9,522.8 1210.5,523.1 1211.1,524.0 1211.7,524.1 1212.3,523.9 1212.9,524.5 1213.5,523.3 1214.1,524.2 1214.7,524.1 1215.3,522.2 1215.9,523.3 1216.5,523.5 1217.1,522.0 1217.7,522.7 1218.3,522.5 1218.9,522.5 1219.5,522.3 1220.1,523.6 1220.7,522.9 1221.3,522.9 1221.9,523.1 1222.5,524.1 1223.1,523.3 1223.7,522.6 1224.3,522.8 1224.9,523.5 1225.5,523.1 1226.1,523.3 1226.7,523.5 1227.3,522.6 1227.9,523.0 1228.5,523.9 1229.1,523.5 1229.7,524.0 1230.3,524.1 1230.9,523.4 1231.5,523.6 1232.1,521.6 1232.7,522.2 1233.3,521.4 1233.9,521.3 1234.5,521.3 1235.1,521.1 1235.7,522.1 1236.3,521.4 1236.9,521.4 1237.5,522.7 1238.1,523.1 1238.7,522.7 1239.3,522.0 1239.9,522.6 1240.5,522.8 1241.1,522.7 1241.7,522.0 1242.3,522.2 1242.9,523.8 1243.5,522.8 1244.1,522.3 1244.7,522.2 1245.3,523.2 1245.9,522.7 1246.5,523.0 1247.1,523.4 1247.7,522.8 1248.3,523.6 1248.9,523.1 1249.5,524.5 1250.1,523.7 1250.7,523.0 1251.3,523.9 1251.9,522.9 1252.5,522.4 1253.1,523.7 1253.7,523.2 1254.3,522.8 1254.9,522.5 1255.5,523.2 1256.1,523.2 1256.7,521.9 1257.3,523.2 1257.9,522.3 1258.5,521.8 1259.1,521.7 1259.7,521.3 1260.3,521.2 1260.9,521.1 1261.5,520.8 1262.1,520.9 1262.7,522.2 1263.3,521.7 1263.9,521.2 1264.5,521.2 1265.1,521.1 1265.7,521.3 1266.3,521.0 1266.9,521.9 1267.5,521.8 1268.1,521.7 1268.7,521.5 1269.3,522.2 1269.9,521.5 1270.5,522.1 1271.1,521.4 1271.7,521.8 1272.3,521.5 1272.9,521.9 1273.5,521.4 1274.1,521.8 1274.7,522.1 1275.3,522.6 1275.9,523.1 1276.5,522.8 1277.1,523.3 1277.7,522.3 1278.3,523.0 1278.9,523.2 1279.5,522.3 1280.1,522.0 1280.7,522.4 1281.3,521.4 1281.9,522.7 1282.5,522.2 1283.1,522.9 1283.7,521.7 1284.3,522.8 1284.9,522.8 1285.5,523.6 1286.1,523.2 1286.7,523.4 1287.3,523.9 1287.9,522.7 1288.5,522.5 1289.1,523.5 1289.7,522.3 1290.3,522.5 1290.9,522.2 1291.5,523.1 1292.1,522.9 1292.7,523.4 1293.3,522.5 1293.9,523.6 1294.5,523.9 1295.1,522.8 1295.7,524.0 1296.3,524.0 1296.9,523.6 1297.5,523.2 1298.1,521.7 1298.7,521.5 1299.3,523.0 1299.9,521.7 1300.5,522.8 1301.1,522.7 1301.7,523.2 1302.3,521.6 1302.9,522.6 1303.5,523.0 1304.1,522.9 1304.7,521.7 1305.3,522.0 1305.9,522.9 1306.5,521.6 1307.1,522.1 1307.7,522.7 1308.3,521.5 1308.9,521.4 1309.5,520.8 1310.1,521.6 1310.7,522.4 1311.3,522.4 1311.9,522.0 1312.5,521.0 1313.1,521.0 1313.7,520.9 1314.3,520.5 1314.9,520.4 1315.5,519.9 1316.1,520.1 1316.7,519.1 1317.3,518.7 1317.9,518.0 1318.5,518.9 1319.1,517.5 1319.7,516.6 1320.3,516.0 1320.9,515.6 1321.5,515.4 1322.1,515.8 1322.7,515.3 1323.3,515.5 1323.9,514.4 1324.5,515.5 1325.1,515.5 1325.7,514.7 1326.3,515.0 1326.9,514.2 1327.5,514.5 1328.1,515.8 1328.7,515.7 1329.3,516.9 1329.9,517.3 1330.5,517.9 1331.1,518.5 1331.7,519.0 1332.3,519.5 1332.9,520.7 1333.5,520.5 1334.1,519.7 1334.7,521.0 1335.3,520.6 1335.9,520.9 1336.5,519.8 1337.1,519.9 1337.7,521.6 1338.3,522.5 1338.9,522.2 1339.5,522.8 1340.1,521.5 1340.7,521.5 1341.3,523.4 1341.9,523.5 1342.5,523.1 1343.1,522.0 1343.7,522.2 1344.3,520.9 1344.9,522.1 1345.5,523.0 1346.1,522.2 1346.7,521.8 1347.3,522.3 1347.9,522.7 1348.5,522.2 1349.1,523.4 1349.7,523.7 1350.3,521.8 1350.9,522.3 1351.5,523.2 1352.1,522.8 1352.7,523.2 1353.3,521.8 1353.9,522.0 1354.5,521.2 1355.1,521.0 1355.7,520.7 1356.3,519.0 1356.9,518.9 1357.5,518.9 1358.1,518.0 1358.7,518.2 1359.3,516.9 1359.9,517.3 1360.5,517.2 1361.1,518.1 1361.7,518.5 1362.3,518.3 1362.9,517.5 1363.5,518.6 1364.1,517.7 1364.7,518.0 1365.3,519.8 1365.9,518.8 1366.5,519.5 1367.1,520.6 1367.7,521.2 1368.3,521.3 1368.9,521.4 1369.5,521.6 1370.1,521.4 1370.7,521.6 1371.3,522.0 1371.9,522.0 1372.5,522.2 1373.1,522.1 1373.7,522.8 1374.3,522.3 1374.9,522.2 1375.5,521.4 1376.1,521.6 1376.7,521.8 1377.3,523.3 1377.9,522.7 1378.5,523.3 1379.1,523.2 1379.7,523.9 1380.3,524.4 1380.9,525.0 1381.5,524.2 1382.1,524.5 1382.7,522.9 1383.3,524.0 1383.9,523.2 1384.5,522.5 1385.1,522.3 1385.7,521.8 1386.3,521.9 1386.9,522.8 1387.5,523.3 1388.1,522.6 1388.7,522.5 1389.3,522.3 1389.9,523.0 1390.5,523.1 1391.1,523.5 1391.7,522.8 1392.3,523.5 1392.9,522.4 1393.5,522.2 1394.1,522.5 1394.7,522.0 1395.3,522.9 1395.9,522.8 1396.5,523.9 1397.1,524.1 1397.7,523.9 1398.3,523.3 1398.9,523.3 1399.5,523.5 1400.1,525.4 1400.7,524.4 1401.3,523.7 1401.9,524.5 1402.5,523.4 1403.1,522.9 1403.7,523.1 1404.3,522.5 1404.9,523.4 1405.5,523.0 1406.1,522.4 1406.7,523.2 1407.3,523.8 1407.9,523.0 1408.5,523.1 1409.1,523.6 1409.7,523.9 1410.3,523.7 1410.9,524.8 1411.5,523.8 1412.1,524.1 1412.7,523.6 1413.3,524.4 1413.9,524.5 1414.5,525.2 1415.1,524.3 1415.7,524.9 1416.3,524.8 1416.9,523.6 1417.5,523.6 1418.1,524.5 1418.7,523.9 1419.3,523.3 1419.9,523.2 1420.5,522.6 1421.1,523.1 1421.7,521.9 1422.3,521.7 1422.9,522.4 1423.5,521.3 1424.1,522.0 1424.7,521.6 1425.3,520.8 1425.9,520.8 1426.5,520.6 1427.1,520.8 1427.7,520.5 1428.3,521.3 1428.9,521.0 1429.5,520.0 1430.1,519.8 1430.7,521.1 1431.3,520.6 1431.9,520.7 1432.5,521.4 1433.1,520.8 1433.7,520.5 1434.3,520.9 1434.9,520.3 1435.5,520.7 1436.1,520.5 1436.7,522.3 1437.3,521.3 1437.9,521.9 1438.5,521.9 1439.1,521.3 1439.7,522.2 1440.3,521.4 1440.9,521.5 1441.5,522.2 1442.1,522.1 1442.7,522.3 1443.3,522.3 1443.9,523.1 1444.5,523.5 1445.1,523.8 1445.7,523.5 1446.3,524.4 1446.9,523.9 1447.5,522.9 1448.1,523.2 1448.7,525.3 1449.3,525.1 1449.9,524.9 1450.5,525.0 1451.1,525.3 1451.7,524.7 1452.3,523.7 1452.9,523.0 1453.5,524.1 1454.1,522.8 1454.7,523.4 1455.3,522.9 1455.9,522.3 1456.5,522.4 1457.1,521.8 1457.7,523.0 1458.3,522.9 1458.9,523.3 1459.5,522.7 1460.1,523.9 1460.7,523.5 1461.3,525.1 1461.9,524.9 1462.5,524.0 1463.1,524.4 1463.7,523.7 1464.3,524.1 1464.9,524.7 1465.5,524.0 1466.1,523.7 1466.7,523.9 1467.3,523.8 1467.9,524.0 1468.5,524.5 1469.1,525.1 1469.7,525.5 1470.3,524.6 1470.9,526.3 1471.5,525.2 1472.1,525.0 1472.7,524.6 1473.3,525.6 1473.9,524.1 1474.5,525.5 1475.1,524.9 1475.7,524.5 1476.3,524.8 1476.9,524.7 1477.5,525.3 1478.1,525.2 1478.7,525.3 1479.3,524.3 1479.9,523.8 1480.5,524.5 1481.1,523.1 1481.7,524.0 1482.3,523.4 1482.9,522.9 1483.5,524.2 1484.1,523.9 1484.7,524.3 1485.3,523.9 1485.9,524.9 1486.5,524.7 1487.1,524.0 1487.7,524.9 1488.3,524.7 1488.9,523.6 1489.5,523.5 1490.1,523.5 1490.7,524.0 1491.3,524.0 1491.9,523.7 1492.5,524.1 1493.1,523.5 1493.7,524.3 1494.3,524.3 1494.9,523.8 1495.5,525.1 1496.1,524.8 1496.7,524.8 1497.3,524.5 1497.9,524.7 1498.5,524.1 1499.1,525.3 1499.7,524.4 1500.3,524.2 1500.9,524.9 1501.5,526.3 1502.1,525.7 1502.7,526.4 1503.3,526.2 1503.9,526.5 1504.5,525.3 1505.1,525.4 1505.7,525.7 1506.3,524.7 1506.9,525.4 1507.5,526.0 1508.1,525.3 1508.7,525.9 1509.3,526.1 1509.9,526.7 1510.5,526.2 1511.1,527.2 1511.7,525.8 1512.3,526.5 1512.9,525.7 1513.5,526.7 1514.1,525.4 1514.7,525.0 1515.3,525.7 1515.9,526.2 1516.5,525.8 1517.1,525.0 1517.7,525.5 1518.3,524.0 1518.9,524.2 1519.5,524.5 1520.1,523.8 1520.7,523.4 1521.3,523.8 1521.9,523.6 1522.5,524.1 1523.1,524.0 1523.7,524.6 1524.3,523.3 1524.9,525.2 1525.5,524.5 1526.1,523.9 1526.7,524.5 1527.3,523.9 1527.9,523.8 1528.5,524.8 1529.1,523.8"/>
<polyline fill="none" stroke="#0000ff" stroke-width="9.5" stroke-linejoin="round" stroke-linecap="butt" shape-rendering="crispEdges" points="163.5,655.0 164.1,655.5 164.7,655.4 165.3,654.4 165.9,655.6 166.5,655.4 167.1,654.5 167.7,654.4 168.3,654.0 168.9,653.0 169.5,653.1 170.1,652.1 170.7,653.4 171.3,653.2 171.9,654.5 172.5,654.0 173.1,653.0 173.7,653.7 174.3,654.2 174.9,653.3 175.5,653.7 176.1,652.9 176.7,653.3 177.3,653.4 177.9,652.8 178.5,653.5 179.1,653.4 179.7,653.1 180.3,653.5 180.9,653.4 181.5,653.4 182.1,654.5 182.7,653.7 183.3,653.9 183.9,653.1 184.5,654.2 185.1,653.1 185.7,652.8 186.3,653.5 186.9,653.2 187.5,652.6 188.1,652.7 188.7,652.1 189.3,653.3 189.9,652.4 190.5,653.0 191.1,653.9 191.7,653.8 192.3,654.4 192.9,653.5 193.5,654.0 194.1,653.0 194.7,653.2 195.3,653.2 195.9,653.5 196.5,653.4 197.1,654.6 197.7,653.7 198.3,653.4 198.9,654.1 199.5,653.8 200.1,654.3 200.7,653.8 201.3,653.9 201.9,653.5 202.5,653.7 203.1,652.9 203.7,653.1 204.3,651.9 204.9,651.6 205.5,652.1 206.1,651.8 206.7,651.0 207.3,650.5 207.9,651.4 208.5,651.9 209.1,651.1 209.7,651.5 210.3,652.2 210.9,653.0 211.5,652.0 212.1,651.9 212.7,652.1 213.3,653.8 213.9,652.9 214.5,653.9 215.1,653.7 215.7,653.3 216.3,652.5 216.9,652.2 217.5,653.4 218.1,652.4 218.7,653.0 219.3,652.3 219.9,652.1 220.5,651.8 221.1,651.7 221.7,652.8 222.3,652.3 222.9,651.4 223.5,653.1 224.1,653.5 224.7,653.5 225.3,652.5 225.9,653.3 226.5,653.2 227.1,653.2 227.7,653.5 228.3,653.4 228.9,651.9 229.5,652.0 230.1,651.5 230.7,651.5 231.3,652.3 231.9,652.3 232.5,652.2 233.1,652.7 233.7,652.9 234.3,653.3 234.9,652.9 235.5,652.5 236.1,653.3 236.7,653.7 237.3,653.0 237.9,652.8 238.5,652.8 239.1,654.1 239.7,654.2 240.3,653.1 240.9,653.7 241.5,653.3 242.1,652.8 242.7,652.9 243.3,654.2 243.9,653.0 244.5,653.6 245.1,653.9 245.7,653.8 246.3,652.9 246.9,653.1 247.5,654.0 248.1,652.9 248.7,652.8 249.3,653.0 249.9,651.9 250.5,652.2 251.1,653.0 251.7,651.4 252.3,651.7 252.9,651.1 253.5,651.3 254.1,652.8 254.7,652.6 255.3,652.8 255.9,652.3 256.5,653.0 257.1,652.5 257.7,653.0 258.3,652.7 258.9,654.1 259.5,652.9 260.1,652.5 260.7,652.3 261.3,652.0 261.9,652.8 262.5,651.3 263.1,651.0 263.7,652.8 264.3,652.4 264.9,651.4 265.5,651.6 266.1,651.3 266.7,652.2 267.3,652.5 267.9,651.0 268.5,651.1 269.1,651.2 269.7,651.7 270.3,652.6 270.9,653.1 271.5,653.6 272.1,653.7 272.7,654.4 273.3,654.7 273.9,654.4 274.5,653.9 275.1,654.3 275.7,654.0 276.3,653.6 276.9,652.9 277.5,653.8 278.1,652.0 278.7,653.6 279.3,653.5 279.9,652.6 280.5,654.3 281.1,653.4 281.7,653.7 282.3,654.2 282.9,652.6 283.5,653.5 284.1,654.2 284.7,653.9 285.3,653.6 285.9,654.1 286.5,653.6 287.1,654.2 287.7,653.5 288.3,654.8 288.9,654.8 289.5,654.1 290.1,653.7 290.7,654.8 291.3,654.1 291.9,655.0 292.5,654.0 293.1,652.9 293.7,653.4 294.3,652.6 294.9,652.3 295.5,653.3 296.1,651.8 296.7,652.7 297.3,653.8 297.9,653.6 298.5,654.5 299.1,654.6 299.7,654.3 300.3,655.2 300.9,654.2 301.5,653.8 302.1,654.7 302.7,653.8 303.3,653.0 303.9,652.7 304.5,653.0 305.1,653.1 305.7,653.6 306.3,652.9 306.9,654.0 307.5,654.0 308.1,654.0 308.7,654.1 309.3,654.7 309.9,654.4 310.5,654.1 311.1,654.9 311.7,653.9 312.3,654.3 312.9,654.8 313.5,655.3 314.1,655.2 314.7,655.0 315.3,654.6 315.9,654.1 316.5,654.7 317.1,655.5 317.7,654.7 318.3,654.3 318.9,655.1 319.5,653.5 320.1,653.7 320.7,654.9 321.3,653.7 321.9,654.1 322.5,654.8 323.1,654.7 323.7,654.1 324.3,654.5 324.9,654.2 325.5,653.8 326.1,653.5 326.7,654.4 327.3,653.4 327.9,653.6 328.5,652.9 329.1,654.1 329.7,654.4 330.3,654.2 330.9,654.8 331.5,654.6 332.1,655.0 332.7,654.9 333.3,653.7 333.9,653.4 334.5,654.6 335.1,654.0 335.7,653.1 336.3,653.9 336.9,653.4 337.5,653.0 338.1,652.6 338.7,654.5 339.3,653.9 339.9,653.1 340.5,653.9 341.1,654.5 341.7,653.3 342.3,654.3 342.9,652.8 343.5,653.6 344.1,653.6 344.7,652.9 345.3,652.2 345.9,652.7 346.5,653.1 347.1,652.6 347.7,653.3 348.3,653.2 348.9,652.4 349.5,652.4 350.1,651.4 350.7,651.8 351.3,651.0 351.9,650.6 352.5,649.9 353.1,649.8 353.7,648.7 354.3,647.4 354.9,646.8 355.5,645.6 356.1,644.1 356.7,641.2 357.3,638.5 357.9,636.9 358.5,633.1 359.1,629.6 359.7,625.7 360.3,622.3 360.9,617.2 361.5,613.2 362.1,610.0 362.7,607.4 363.3,604.9 363.9,604.2 364.5,605.0 365.1,608.0 365.7,611.8 366.3,616.0 366.9,619.8 367.5,625.1 368.1,628.9 368.7,631.9 369.3,635.5 369.9,639.4 370.5,640.9 371.1,643.4 371.7,644.0 372.3,645.7 372.9,647.2 373.5,649.2 374.1,649.7 374.7,649.1 375.3,651.4 375.9,652.1 376.5,651.6 377.1,652.8 377.7,654.3 378.3,654.1 378.9,653.6 379.5,655.8 380.1,656.5 380.7,655.2 381.3,657.0 381.9,656.9 382.5,656.8 383.1,656.0 383.7,658.0 384.3,657.8 384.9,656.3 385.5,657.9 386.1,657.2 386.7,656.8 387.3,657.9 387.9,659.0 388.5,659.0 389.1,657.8 389.7,659.7 390.3,659.2 390.9,659.6 391.5,659.5 392.1,660.5 392.7,659.9 393.3,659.9 393.9,660.3 394.5,660.0 395.1,660.1 395.7,659.1 396.3,658.8 396.9,660.1 397.5,659.8 398.1,660.3 398.7,659.9 399.3,659.4 399.9,660.3 400.5,661.5 401.1,660.8 401.7,660.8 402.3,661.2 402.9,661.8 403.5,661.0 404.1,662.3 404.7,662.1 405.3,662.3 405.9,662.2 406.5,662.3 407.1,661.0 407.7,661.8 408.3,660.9 408.9,661.6 409.5,661.0 410.1,661.4 410.7,661.6 411.3,661.9 411.9,662.9 412.5,663.2 413.1,663.2 413.7,663.3 414.3,661.9 414.9,661.0 415.5,661.3 416.1,662.0 416.7,662.9 417.3,662.3 417.9,661.9 418.5,662.6 419.1,662.6 419.7,662.7 420.3,664.3 420.9,662.6 421.5,663.5 422.1,662.5 422.7,662.2 423.3,663.8 423.9,663.2 424.5,662.5 425.1,661.8 425.7,663.2 426.3,662.6 426.9,662.0 427.5,662.9 428.1,662.0 428.7,662.9 429.3,662.7 429.9,662.0 430.5,662.3 431.1,662.3 431.7,662.1 432.3,663.2 432.9,662.8 433.5,663.3 434.1,664.2 434.7,663.8 435.3,663.8 435.9,663.7 436.5,663.6 437.1,663.4 437.7,663.0 438.3,663.9 438.9,663.3 439.5,662.4 440.1,662.2 440.7,662.2 441.3,662.0 441.9,662.0 442.5,661.9 443.1,662.8 443.7,662.5 444.3,662.6 444.9,662.5 445.5,663.3 446.1,662.7 446.7,663.4 447.3,663.2 447.9,663.7 448.5,664.2 449.1,662.9 449.7,663.9 450.3,664.5 450.9,663.3 451.5,663.3 452.1,663.8 452.7,665.3 453.3,664.9 453.9,665.5 454.5,665.7 455.1,665.1 455.7,664.7 456.3,666.0 456.9,664.5 457.5,664.3 458.1,664.5 458.7,663.6 459.3,664.2 459.9,664.1 460.5,665.6 461.1,665.3 461.7,665.2 462.3,664.9 462.9,664.5 463.5,665.0 464.1,664.6 464.7,665.8 465.3,665.7 465.9,665.5 466.5,666.5 467.1,665.6 467.7,665.3 468.3,667.0 468.9,666.9 469.5,666.8 470.1,666.2 470.7,666.5 471.3,666.3 471.9,665.7 472.5,666.2 473.1,665.4 473.7,665.0 474.3,665.8 474.9,666.0 475.5,664.9 476.1,664.6 476.7,664.5 477.3,664.4 477.9,665.2 478.5,666.0 479.1,666.2 479.7,666.3 480.3,666.8 480.9,666.1 481.5,667.6 482.1,667.6 482.7,666.5 483.3,666.1 483.9,666.1 484.5,666.7 485.1,666.5 485.7,665.7 486.3,666.6 486.9,666.4 487.5,666.9 488.1,666.8 488.7,666.0 489.3,665.3 489.9,666.4 490.5,665.1 491.1,666.2 491.7,666.0 492.3,665.0 492.9,665.9 493.5,665.5 494.1,666.3 494.7,666.6 495.3,666.6 495.9,666.2 496.5,665.6 497.1,666.0 497.7,665.4 498.3,665.9 498.9,665.1 499.5,665.1 500.1,665.7 500.7,665.9 501.3,666.2 501.9,666.6 502.5,666.1 503.1,666.0 503.7,665.3 504.3,665.3 504.9,664.7 505.5,665.4 506.1,664.4 506.7,664.7 507.3,663.3 507.9,663.6 508.5,664.9 509.1,665.3 509.7,665.5 510.3,665.7 510.9,664.7 511.5,666.1 512.1,666.5 512.7,666.2 513.3,667.7 513.9,667.2 514.5,666.9 515.1,666.7 515.7,666.7 516.3,666.3 516.9,667.6 517.5,667.5 518.1,667.5 518.7,667.0 519.3,667.9 519.9,668.8 520.5,668.5 521.1,668.6 521.7,667.9 522.3,667.8 522.9,668.3 523.5,667.2 524.1,667.6 524.7,667.9 525.3,666.3 525.9,667.1 526.5,666.7 527.1,668.0 527.7,667.5 528.3,667.6 528.9,668.0 529.5,668.3 530.1,667.5 530.7,666.9 531.3,668.0 531.9,668.3 532.5,667.7 533.1,668.5 533.7,668.4 534.3,668.8 534.9,668.8 535.5,667.9 536.1,668.2 536.7,668.6 537.3,667.0 537.9,668.4 538.5,667.9 539.1,667.7 539.7,668.6 540.3,667.6 540.9,667.1 541.5,668.0 542.1,668.3 542.7,667.1 543.3,668.5 543.9,667.9 544.5,668.7 545.1,668.6 545.7,669.2 546.3,669.3 546.9,667.5 547.5,667.8 548.1,668.3 548.7,667.5 549.3,666.3 549.9,666.5 550.5,665.7 551.1,666.1 551.7,666.9 552.3,667.2 552.9,667.8 553.5,667.0 554.1,667.9 554.7,667.4 555.3,667.7 555.9,667.3 556.5,667.2 557.1,668.6 557.7,668.5 558.3,667.8 558.9,667.6 559.5,666.8 560.1,668.2 560.7,669.0 561.3,668.6 561.9,667.6 562.5,668.7 563.1,668.4 563.7,668.1 564.3,667.3 564.9,668.8 565.5,667.2 566.1,667.5 566.7,666.2 567.3,666.2 567.9,665.3 568.5,664.8 569.1,664.6 569.7,664.6 570.3,663.6 570.9,663.9 571.5,663.0 572.1,662.6 572.7,661.1 573.3,660.1 573.9,659.0 574.5,658.1 575.1,653.6 575.7,648.5 576.3,642.8 576.9,633.6 577.5,623.6 578.1,609.8 578.7,595.2 579.3,579.5 579.9,562.7 580.5,549.7 581.1,541.8 581.7,541.4 582.3,546.4 582.9,558.1 583.5,573.2 584.1,589.6 584.7,605.3 585.3,618.9 585.9,630.0 586.5,640.3 587.1,646.0 587.7,652.2 588.3,656.0 588.9,658.6 589.5,660.1 590.1,661.3 590.7,662.8 591.3,662.5 591.9,664.7 592.5,664.8 593.1,665.3 593.7,666.6 594.3,666.4 594.9,665.9 595.5,666.5 596.1,666.5 596.7,665.7 597.3,666.2 597.9,666.4 598.5,666.7 599.1,666.8 599.7,667.4 600.3,668.2 600.9,668.8 601.5,668.6 602.1,667.9 602.7,668.6 603.3,668.9 603.9,669.4 604.5,669.1 605.1,668.4 605.7,667.6 606.3,669.0 606.9,668.8 607.5,668.8 608.1,669.1 608.7,668.5 609.3,667.9 609.9,667.9 610.5,668.2 611.1,668.7 611.7,667.3 612.3,667.6 612.9,667.0 613.5,667.2 614.1,668.0 614.7,667.5 615.3,667.6 615.9,668.4 616.5,667.4 617.1,667.8 617.7,667.3 618.3,667.4 618.9,668.5 619.5,668.7 620.1,669.4 620.7,668.4 621.3,668.4 621.9,669.2 622.5,667.4 623.1,668.2 623.7,667.0 624.3,667.7 624.9,666.5 625.5,664.5 626.1,665.2 626.7,663.7 627.3,663.2 627.9,662.7 628.5,661.1 629.1,660.9 629.7,660.1 630.3,661.1 630.9,659.9 631.5,661.9 632.1,662.2 632.7,662.6 633.3,663.7 633.9,664.1 634.5,664.9 635.1,665.2 635.7,665.8 636.3,666.3 636.9,666.6 637.5,668.2 638.1,668.1 638.7,669.0 639.3,669.5 639.9,669.4 640.5,669.4 641.1,669.5 641.7,668.9 642.3,670.0 642.9,670.3 643.5,669.0 644.1,668.9 644.7,669.0 645.3,670.4 645.9,669.0 646.5,669.3 647.1,670.0 647.7,669.6 648.3,669.3 648.9,669.9 649.5,669.5 650.1,669.5 650.7,670.3 651.3,671.3 651.9,670.1 652.5,670.4 653.1,670.4 653.7,670.4 654.3,669.6 654.9,669.6 655.5,669.5 656.1,669.9 656.7,669.3 657.3,670.4 657.9,669.7 658.5,670.4 659.1,669.2 659.7,670.9 660.3,670.6 660.9,670.3 661.5,671.1 662.1,670.0 662.7,669.4 663.3,669.1 663.9,668.6 664.5,668.2 665.1,668.6 665.7,668.0 666.3,667.8 666.9,666.6 667.5,667.2 668.1,666.7 668.7,664.4 669.3,662.6 669.9,658.2 670.5,652.6 671.1,646.0 671.7,637.4 672.3,628.2 672.9,616.5 673.5,606.0 674.1,594.4 674.7,586.3 675.3,582.3 675.9,583.5 676.5,589.4 677.1,597.8 677.7,609.3 678.3,621.3 678.9,631.9 679.5,640.1 680.1,647.8 680.7,654.2 681.3,657.9 681.9,661.4 682.5,663.4 683.1,665.4 683.7,665.8 684.3,668.1 684.9,667.8 685.5,668.3 686.1,669.1 686.7,669.5 687.3,670.9 687.9,672.1 688.5,672.2 689.1,672.2 689.7,671.6 690.3,672.3 690.9,671.4 691.5,672.2 692.1,672.7 692.7,672.8 693.3,672.3 693.9,672.1 694.5,672.6 695.1,672.8 695.7,673.9 696.3,673.4 696.9,672.4 697.5,672.1 698.1,673.6 698.7,673.4 699.3,673.1 699.9,673.3 700.5,673.5 701.1,672.7 701.7,672.7 702.3,673.9 702.9,673.5 703.5,672.4 704.1,672.9 704.7,672.4 705.3,672.7 705.9,674.1 706.5,673.7 707.1,672.4 707.7,673.1 708.3,673.3 708.9,673.3 709.5,673.3 710.1,673.2 710.7,672.1 711.3,673.7 711.9,673.1 712.5,673.2 713.1,673.4 713.7,673.4 714.3,674.0 714.9,673.1 715.5,673.6 716.1,671.8 716.7,671.5 717.3,671.3 717.9,670.9 718.5,671.5 719.1,671.8 719.7,671.1 720.3,671.2 720.9,671.9 721.5,671.9 722.1,673.9 722.7,673.2 723.3,673.9 723.9,673.5 724.5,673.6 725.1,673.5 725.7,673.1 726.3,673.7 726.9,672.4 727.5,672.3 728.1,672.5 728.7,671.1 729.3,671.8 729.9,672.5 730.5,672.2 731.1,672.3 731.7,673.1 732.3,672.3 732.9,672.3 733.5,671.9 734.1,672.5 734.7,672.3 735.3,673.8 735.9,673.4 736.5,673.7 737.1,674.0 737.7,674.5 738.3,674.2 738.9,673.3 739.5,672.9 740.1,673.1 740.7,672.4 741.3,672.4 741.9,672.6 742.5,671.9 743.1,672.4 743.7,672.7 744.3,672.7 744.9,672.0 745.5,672.4 746.1,673.1 746.7,673.1 747.3,672.5 747.9,673.0 748.5,672.9 749.1,672.6 749.7,672.7 750.3,670.6 750.9,671.0 751.5,671.8 752.1,672.0 752.7,672.0 753.3,671.0 753.9,671.2 754.5,672.4 755.1,672.3 755.7,673.1 756.3,673.8 756.9,672.7 757.5,673.4 758.1,671.8 758.7,672.1 759.3,672.6 759.9,672.8 760.5,672.1 761.1,673.5 761.7,672.9 762.3,672.0 762.9,672.2 763.5,673.3 764.1,672.5 764.7,672.4 765.3,673.0 765.9,671.8 766.5,672.1 767.1,672.9 767.7,673.1 768.3,673.3 768.9,673.3 769.5,673.2 770.1,673.7 770.7,674.2 771.3,674.5 771.9,675.4 772.5,674.1 773.1,675.1 773.7,673.0 774.3,674.1 774.9,673.4 775.5,673.8 776.1,672.4 776.7,672.7 777.3,673.2 777.9,672.8 778.5,673.8 779.1,674.3 779.7,673.2 780.3,673.7 780.9,673.5 781.5,673.9 782.1,672.7 782.7,673.4 783.3,672.5 783.9,672.5 784.5,674.0 785.1,672.4 785.7,672.8 786.3,673.0 786.9,672.1 787.5,673.1 788.1,673.9 788.7,673.1 789.3,673.4 789.9,672.6 790.5,673.3 791.1,674.1 791.7,673.8 792.3,673.8 792.9,673.4 793.5,673.0 794.1,673.5 794.7,673.0 795.3,672.2 795.9,672.6 796.5,673.6 797.1,672.7 797.7,673.4 798.3,672.8 798.9,673.5 799.5,673.8 800.1,674.0 800.7,673.6 801.3,674.4 801.9,673.3 802.5,674.1 803.1,673.2 803.7,673.1 804.3,672.2 804.9,672.1 805.5,672.8 806.1,673.0 806.7,671.6 807.3,671.7 807.9,671.8 808.5,673.2 809.1,673.3 809.7,673.8 810.3,673.7 810.9,674.7 811.5,673.0 812.1,674.1 812.7,673.2 813.3,673.6 813.9,673.0 814.5,673.5 815.1,674.1 815.7,672.6 816.3,672.7 816.9,673.3 817.5,673.1 818.1,673.8 818.7,674.1 819.3,674.0 819.9,673.1 820.5,673.6 821.1,674.2 821.7,674.3 822.3,674.8 822.9,675.5 823.5,675.9 824.1,674.5 824.7,675.2 825.3,674.6 825.9,675.5 826.5,674.5 827.1,674.0 827.7,674.0 828.3,673.1 828.9,672.8 829.5,673.6 830.1,674.1 830.7,673.4 831.3,673.8 831.9,672.7 832.5,673.3 833.1,673.4 833.7,674.7 834.3,674.9 834.9,674.6 835.5,673.8 836.1,674.3 836.7,675.4 837.3,675.3 837.9,674.6 838.5,674.6 839.1,674.0 839.7,674.4 840.3,675.1 840.9,674.2 841.5,674.1 842.1,673.9 842.7,673.3 843.3,673.6 843.9,673.9 844.5,674.9 845.1,674.4 845.7,674.8 846.3,674.6 846.9,675.2 847.5,674.9 848.1,673.9 848.7,674.7 849.3,674.8 849.9,675.4 850.5,675.6 851.1,674.7 851.7,674.7 852.3,674.7 852.9,674.6 853.5,674.0 854.1,674.4 854.7,673.9 855.3,674.3 855.9,673.0 856.5,672.8 857.1,674.2 857.7,672.8 858.3,673.6 858.9,674.0 859.5,672.6 860.1,672.6 860.7,673.1 861.3,674.2 861.9,673.7 862.5,673.2 863.1,674.6 863.7,674.0 864.3,674.6 864.9,673.9 865.5,674.7 866.1,674.5 866.7,674.6 867.3,674.8 867.9,674.0 868.5,674.2 869.1,674.0 869.7,674.2 870.3,673.4 870.9,673.4 871.5,673.8 872.1,674.4 872.7,673.2 873.3,673.7 873.9,673.7 874.5,674.8 875.1,674.5 875.7,674.3 876.3,673.6 876.9,673.6 877.5,674.2 878.1,674.2 878.7,674.5 879.3,674.7 879.9,675.7 880.5,674.8 881.1,675.3 881.7,675.3 882.3,676.2 882.9,675.9 883.5,675.1 884.1,676.5 884.7,675.3 885.3,675.5 885.9,675.2 886.5,674.6 887.1,674.6 887.7,674.6 888.3,673.9 888.9,675.5 889.5,675.8 890.1,675.2 890.7,675.9 891.3,674.7 891.9,675.0 892.5,675.5 893.1,675.3 893.7,674.4 894.3,675.7 894.9,675.9 895.5,674.9 896.1,675.7 896.7,675.9 897.3,676.0 897.9,675.3 898.5,676.0 899.1,675.6 899.7,675.1 900.3,675.1 900.9,676.1 901.5,675.5 902.1,674.4 902.7,673.7 903.3,675.8 903.9,674.5 904.5,675.3 905.1,675.0 905.7,675.1 906.3,675.5 906.9,675.8 907.5,675.3 908.1,675.4 908.7,674.4 909.3,674.5 909.9,673.6 910.5,673.5 911.1,673.1 911.7,673.6 912.3,673.2 912.9,674.1 913.5,674.5 914.1,673.9 914.7,674.7 915.3,674.7 915.9,674.6 916.5,676.4 917.1,676.2 917.7,675.6 918.3,676.4 918.9,675.6 919.5,675.9 920.1,674.9 920.7,674.8 921.3,674.4 921.9,674.2 922.5,674.3 923.1,674.6 923.7,673.5 924.3,674.8 924.9,675.0 925.5,675.9 926.1,675.2 926.7,675.3 927.3,674.8 927.9,675.0 928.5,673.8 929.1,674.9 929.7,673.1 930.3,673.4 930.9,672.5 931.5,673.5 932.1,673.0 932.7,673.2 933.3,672.9 933.9,672.9 934.5,672.5 935.1,671.9 935.7,672.0 936.3,673.2 936.9,672.5 937.5,673.6 938.1,672.9 938.7,673.5 939.3,672.6 939.9,672.4 940.5,673.3 941.1,672.2 941.7,672.5 942.3,673.2 942.9,671.8 943.5,673.1 944.1,671.6 944.7,673.0 945.3,673.2 945.9,673.3 946.5,673.0 947.1,672.9 947.7,673.9 948.3,674.3 948.9,674.2 949.5,674.7 950.1,674.9 950.7,674.9 951.3,675.3 951.9,674.7 952.5,675.3 953.1,674.5 953.7,675.9 954.3,675.9 954.9,676.0 955.5,675.8 956.1,676.1 956.7,674.8 957.3,675.6 957.9,675.3 958.5,674.4 959.1,674.9 959.7,674.7 960.3,673.8 960.9,674.4 961.5,674.6 962.1,674.2 962.7,674.4 963.3,674.6 963.9,674.7 964.5,676.0 965.1,675.2 965.7,675.2 966.3,676.1 966.9,675.7 967.5,675.4 968.1,676.0 968.7,675.7 969.3,675.3 969.9,674.6 970.5,674.1 971.1,674.0 971.7,675.1 972.3,674.7 972.9,674.7 973.5,675.0 974.1,676.0 974.7,675.4 975.3,676.3 975.9,675.4 976.5,675.3 977.1,674.7 977.7,674.5 978.3,674.4 978.9,675.3 979.5,674.7 980.1,674.5 980.7,674.4 981.3,675.5 981.9,675.4 982.5,675.7 983.1,676.4 983.7,676.7 984.3,677.2 984.9,677.5 985.5,676.9 986.1,676.4 986.7,676.2 987.3,675.5 987.9,675.5 988.5,676.0 989.1,675.3 989.7,675.5 990.3,676.2 990.9,676.2 991.5,675.9 992.1,675.8 992.7,676.9 993.3,675.9 993.9,677.0 994.5,676.5 995.1,676.8 995.7,675.8 996.3,676.5 996.9,675.7 997.5,675.5 998.1,675.2 998.7,675.5 999.3,675.1 999.9,675.7 1000.5,675.5 1001.1,675.6 1001.7,676.1 1002.3,675.7 1002.9,675.4 1003.5,675.2 1004.1,676.5 1004.7,675.1 1005.3,676.6 1005.9,677.0 1006.5,676.4 1007.1,676.8 1007.7,675.1 1008.3,675.7 1008.9,675.7 1009.5,675.9 1010.1,676.2 1010.7,674.5 1011.3,674.6 1011.9,675.2 1012.5,674.8 1013.1,676.0 1013.7,674.9 1014.3,675.4 1014.9,675.6 1015.5,675.9 1016.1,676.4 1016.7,675.9 1017.3,675.4 1017.9,675.3 1018.5,675.8 1019.1,675.5 1019.7,675.4 1020.3,675.2 1020.9,675.3 1021.5,674.6 1022.1,675.1 1022.7,675.7 1023.3,676.0 1023.9,676.9 1024.5,675.7 1025.1,676.1 1025.7,677.2 1026.3,677.3 1026.9,677.5 1027.5,676.8 1028.1,677.4 1028.7,676.3 1029.3,676.4 1029.9,676.7 1030.5,677.7 1031.1,676.8 1031.7,676.7 1032.3,676.4 1032.9,677.1 1033.5,677.9 1034.1,677.7 1034.7,677.5 1035.3,675.8 1035.9,675.3 1036.5,675.2 1037.1,674.6 1037.7,675.6 1038.3,674.4 1038.9,674.7 1039.5,673.7 1040.1,674.0 1040.7,674.3 1041.3,675.0 1041.9,675.6 1042.5,675.1 1043.1,675.0 1043.7,674.3 1044.3,675.3 1044.9,674.6 1045.5,674.1 1046.1,673.4 1046.7,673.0 1047.3,672.8 1047.9,672.5 1048.5,672.0 1049.1,670.8 1049.7,670.6 1050.3,671.5 1050.9,671.4 1051.5,671.2 1052.1,671.8 1052.7,672.0 1053.3,672.3 1053.9,672.7 1054.5,673.3 1055.1,674.1 1055.7,674.6 1056.3,674.8 1056.9,674.7 1057.5,675.6 1058.1,674.9 1058.7,674.3 1059.3,675.1 1059.9,675.8 1060.5,674.9 1061.1,673.7 1061.7,675.2 1062.3,674.6 1062.9,674.9 1063.5,674.7 1064.1,676.5 1064.7,676.9 1065.3,676.8 1065.9,676.9 1066.5,676.6 1067.1,676.9 1067.7,676.0 1068.3,677.0 1068.9,677.1 1069.5,675.6 1070.1,676.8 1070.7,676.4 1071.3,674.4 1071.9,675.1 1072.5,675.1 1073.1,675.8 1073.7,675.6 1074.3,673.9 1074.9,673.5 1075.5,673.8 1076.1,673.6 1076.7,675.0 1077.3,674.6 1077.9,674.6 1078.5,673.5 1079.1,674.7 1079.7,676.2 1080.3,676.0 1080.9,675.9 1081.5,676.1 1082.1,675.2 1082.7,676.1 1083.3,676.7 1083.9,676.2 1084.5,677.0 1085.1,675.7 1085.7,676.8 1086.3,675.9 1086.9,676.8 1087.5,676.2 1088.1,677.2 1088.7,676.1 1089.3,676.6 1089.9,675.8 1090.5,675.2 1091.1,675.6 1091.7,676.6 1092.3,677.5 1092.9,676.6 1093.5,677.2 1094.1,677.7 1094.7,676.8 1095.3,676.9 1095.9,677.3 1096.5,677.7 1097.1,676.3 1097.7,676.9 1098.3,676.7 1098.9,675.9 1099.5,676.7 1100.1,675.8 1100.7,675.9 1101.3,676.3 1101.9,676.7 1102.5,676.9 1103.1,675.7 1103.7,675.9 1104.3,677.0 1104.9,676.6 1105.5,676.5 1106.1,676.8 1106.7,677.2 1107.3,677.1 1107.9,677.9 1108.5,677.8 1109.1,676.4 1109.7,676.0 1110.3,676.9 1110.9,675.8 1111.5,676.3 1112.1,677.0 1112.7,676.2 1113.3,676.7 1113.9,676.4 1114.5,675.7 1115.1,676.9 1115.7,676.5 1116.3,675.1 1116.9,676.1 1117.5,675.0 1118.1,675.9 1118.7,675.4 1119.3,675.4 1119.9,675.9 1120.5,674.2 1121.1,675.9 1121.7,676.3 1122.3,675.4 1122.9,675.1 1123.5,675.4 1124.1,675.2 1124.7,675.1 1125.3,676.0 1125.9,674.9 1126.5,675.2 1127.1,674.8 1127.7,674.5 1128.3,674.7 1128.9,675.1 1129.5,675.2 1130.1,674.2 1130.7,675.5 1131.3,675.2 1131.9,674.1 1132.5,674.0 1133.1,674.2 1133.7,675.5 1134.3,675.7 1134.9,675.0 1135.5,674.8 1136.1,674.9 1136.7,675.2 1137.3,674.8 1137.9,675.7 1138.5,675.9 1139.1,675.1 1139.7,676.3 1140.3,676.5 1140.9,675.7 1141.5,676.2 1142.1,677.2 1142.7,677.6 1143.3,676.6 1143.9,676.9 1144.5,677.8 1145.1,677.1 1145.7,676.2 1146.3,676.7 1146.9,677.2 1147.5,676.4 1148.1,676.8 1148.7,676.0 1149.3,676.2 1149.9,676.0 1150.5,677.5 1151.1,676.7 1151.7,677.3 1152.3,677.0 1152.9,677.1 1153.5,678.1 1154.1,677.1 1154.7,676.6 1155.3,678.3 1155.9,678.2 1156.5,677.6 1157.1,677.8 1157.7,678.1 1158.3,678.1 1158.9,677.9 1159.5,677.5 1160.1,678.6 1160.7,677.7 1161.3,678.7 1161.9,678.8 1162.5,677.2 1163.1,677.9 1163.7,678.2 1164.3,677.2 1164.9,678.3 1165.5,677.7 1166.1,678.1 1166.7,678.3 1167.3,678.4 1167.9,678.1 1168.5,679.1 1169.1,678.4 1169.7,678.6 1170.3,679.1 1170.9,678.7 1171.5,678.4 1172.1,676.8 1172.7,678.2 1173.3,677.9 1173.9,677.5 1174.5,677.5 1175.1,677.7 1175.7,677.8 1176.3,677.9 1176.9,677.1 1177.5,677.5 1178.1,678.1 1178.7,677.3 1179.3,677.5 1179.9,678.5 1180.5,678.5 1181.1,678.1 1181.7,678.0 1182.3,677.3 1182.9,676.5 1183.5,677.3 1184.1,678.1 1184.7,677.4 1185.3,678.4 1185.9,677.3 1186.5,677.5 1187.1,677.8 1187.7,677.6 1188.3,678.0 1188.9,678.2 1189.5,677.4 1190.1,677.1 1190.7,678.3 1191.3,678.5 1191.9,678.6 1192.5,677.6 1193.1,678.4 1193.7,677.8 1194.3,677.7 1194.9,678.4 1195.5,678.0 1196.1,677.3 1196.7,678.0 1197.3,676.2 1197.9,676.8 1198.5,676.6 1199.1,677.8 1199.7,677.8 1200.3,678.2 1200.9,678.8 1201.5,678.3 1202.1,679.1 1202.7,680.0 1203.3,678.2 1203.9,678.4 1204.5,679.4 1205.1,678.2 1205.7,677.7 1206.3,678.8 1206.9,678.2 1207.5,677.8 1208.1,678.2 1208.7,679.0 1209.3,677.7 1209.9,678.1 1210.5,678.0 1211.1,678.4 1211.7,677.3 1212.3,677.3 1212.9,676.7 1213.5,677.2 1214.1,675.8 1214.7,676.4 1215.3,677.1 1215.9,677.2 1216.5,677.3 1217.1,677.8 1217.7,677.9 1218.3,678.0 1218.9,679.7 1219.5,678.5 1220.1,679.6 1220.7,679.7 1221.3,678.8 1221.9,678.5 1222.5,677.2 1223.1,677.3 1223.7,677.3 1224.3,676.5 1224.9,676.3 1225.5,676.3 1226.1,677.0 1226.7,676.1 1227.3,676.9 1227.9,676.9 1228.5,676.6 1229.1,675.8 1229.7,676.1 1230.3,676.1 1230.9,677.1 1231.5,676.5 1232.1,676.7 1232.7,677.2 1233.3,676.4 1233.9,676.4 1234.5,677.5 1235.1,676.2 1235.7,677.0 1236.3,675.9 1236.9,677.3 1237.5,676.7 1238.1,677.6 1238.7,677.0 1239.3,676.2 1239.9,677.8 1240.5,676.6 1241.1,676.2 1241.7,678.0 1242.3,676.1 1242.9,676.8 1243.5,676.5 1244.1,676.7 1244.7,677.3 1245.3,675.4 1245.9,677.5 1246.5,676.4 1247.1,676.9 1247.7,677.5 1248.3,677.5 1248.9,676.6 1249.5,677.5 1250.1,677.5 1250.7,676.8 1251.3,678.0 1251.9,677.6 1252.5,677.3 1253.1,677.4 1253.7,676.6 1254.3,676.7 1254.9,677.3 1255.5,677.8 1256.1,678.4 1256.7,677.7 1257.3,676.4 1257.9,677.0 1258.5,677.2 1259.1,677.0 1259.7,676.9 1260.3,676.7 1260.9,677.4 1261.5,677.7 1262.1,678.1 1262.7,678.4 1263.3,676.7 1263.9,677.6 1264.5,677.2 1265.1,678.9 1265.7,678.4 1266.3,677.4 1266.9,678.7 1267.5,678.7 1268.1,677.6 1268.7,678.8 1269.3,677.2 1269.9,678.4 1270.5,678.8 1271.1,677.9 1271.7,677.5 1272.3,677.3 1272.9,677.2 1273.5,678.1 1274.1,678.1 1274.7,677.2 1275.3,678.4 1275.9,677.0 1276.5,678.0 1277.1,677.3 1277.7,677.6 1278.3,676.5 1278.9,676.6 1279.5,676.1 1280.1,676.1 1280.7,676.4 1281.3,675.6 1281.9,675.4 1282.5,675.6 1283.1,676.4 1283.7,676.7 1284.3,676.6 1284.9,677.1 1285.5,677.5 1286.1,677.5 1286.7,678.1 1287.3,678.6 1287.9,678.9 1288.5,679.2 1289.1,678.9 1289.7,678.8 1290.3,678.1 1290.9,677.1 1291.5,676.3 1292.1,676.6 1292.7,676.1 1293.3,677.1 1293.9,676.2 1294.5,677.4 1295.1,676.5 1295.7,676.5 1296.3,676.4 1296.9,677.2 1297.5,676.6 1298.1,676.5 1298.7,676.0 1299.3,675.9 1299.9,675.4 1300.5,675.5 1301.1,676.7 1301.7,676.2 1302.3,676.2 1302.9,676.7 1303.5,676.6 1304.1,676.4 1304.7,677.5 1305.3,676.6 1305.9,677.1 1306.5,676.9 1307.1,677.5 1307.7,678.2 1308.3,677.5 1308.9,678.2 1309.5,678.3 1310.1,676.4 1310.7,676.2 1311.3,677.1 1311.9,677.1 1312.5,675.5 1313.1,676.7 1313.7,675.7 1314.3,674.4 1314.9,674.4 1315.5,675.1 1316.1,674.6 1316.7,673.5 1317.3,673.7 1317.9,673.3 1318.5,673.2 1319.1,672.3 1319.7,671.9 1320.3,671.2 1320.9,670.7 1321.5,670.7 1322.1,670.6 1322.7,671.5 1323.3,670.8 1323.9,670.8 1324.5,669.4 1325.1,670.2 1325.7,669.5 1326.3,670.6 1326.9,669.1 1327.5,670.1 1328.1,670.2 1328.7,669.4 1329.3,670.5 1329.9,670.3 1330.5,670.5 1331.1,670.0 1331.7,671.4 1332.3,670.7 1332.9,672.6 1333.5,672.0 1334.1,673.8 1334.7,674.8 1335.3,674.4 1335.9,675.4 1336.5,675.6 1337.1,675.5 1337.7,676.8 1338.3,676.8 1338.9,677.4 1339.5,677.1 1340.1,677.2 1340.7,676.5 1341.3,677.0 1341.9,677.2 1342.5,677.8 1343.1,676.9 1343.7,676.0 1344.3,677.1 1344.9,675.9 1345.5,676.0 1346.1,677.0 1346.7,675.8 1347.3,675.9 1347.9,676.5 1348.5,675.9 1349.1,675.7 1349.7,675.8 1350.3,675.7 1350.9,675.2 1351.5,675.5 1352.1,674.6 1352.7,674.7 1353.3,674.2 1353.9,675.0 1354.5,673.6 1355.1,672.8 1355.7,672.7 1356.3,673.3 1356.9,672.1 1357.5,672.4 1358.1,671.1 1358.7,671.7 1359.3,671.8 1359.9,672.1 1360.5,670.7 1361.1,670.6 1361.7,672.5 1362.3,672.9 1362.9,672.6 1363.5,673.3 1364.1,674.2 1364.7,673.5 1365.3,674.2 1365.9,674.3 1366.5,676.1 1367.1,676.0 1367.7,676.3 1368.3,676.8 1368.9,676.4 1369.5,676.5 1370.1,678.1 1370.7,676.2 1371.3,676.1 1371.9,676.0 1372.5,676.9 1373.1,676.4 1373.7,677.4 1374.3,678.2 1374.9,678.2 1375.5,677.5 1376.1,678.7 1376.7,679.4 1377.3,679.3 1377.9,679.6 1378.5,679.0 1379.1,679.6 1379.7,678.7 1380.3,679.3 1380.9,678.5 1381.5,678.9 1382.1,678.0 1382.7,679.3 1383.3,678.2 1383.9,679.4 1384.5,679.2 1385.1,679.3 1385.7,679.1 1386.3,678.4 1386.9,677.7 1387.5,678.0 1388.1,679.2 1388.7,679.5 1389.3,678.1 1389.9,678.5 1390.5,678.0 1391.1,678.2 1391.7,679.3 1392.3,679.2 1392.9,678.4 1393.5,678.9 1394.1,677.6 1394.7,679.0 1395.3,678.2 1395.9,678.0 1396.5,678.1 1397.1,678.7 1397.7,679.2 1398.3,678.7 1398.9,679.3 1399.5,678.4 1400.1,679.5 1400.7,678.9 1401.3,678.4 1401.9,678.2 1402.5,679.2 1403.1,678.6 1403.7,678.2 1404.3,679.0 1404.9,678.6 1405.5,679.7 1406.1,680.1 1406.7,679.4 1407.3,679.1 1407.9,680.2 1408.5,680.7 1409.1,679.6 1409.7,679.9 1410.3,680.1 1410.9,680.3 1411.5,678.7 1412.1,679.8 1412.7,679.1 1413.3,678.6 1413.9,678.3 1414.5,678.4 1415.1,677.5 1415.7,677.3 1416.3,678.1 1416.9,677.1 1417.5,677.9 1418.1,677.2 1418.7,677.6 1419.3,675.8 1419.9,676.7 1420.5,677.5 1421.1,678.0 1421.7,678.0 1422.3,678.2 1422.9,677.6 1423.5,678.8 1424.1,678.9 1424.7,679.0 1425.3,678.9 1425.9,677.6 1426.5,677.3 1427.1,677.6 1427.7,677.2 1428.3,676.5 1428.9,676.9 1429.5,676.6 1430.1,675.4 1430.7,676.6 1431.3,675.6 1431.9,675.4 1432.5,675.8 1433.1,674.8 1433.7,674.6 1434.3,676.3 1434.9,675.2 1435.5,675.6 1436.1,676.7 1436.7,676.1 1437.3,677.6 1437.9,676.6 1438.5,677.8 1439.1,677.0 1439.7,677.9 1440.3,678.3 1440.9,678.4 1441.5,678.7 1442.1,678.7 1442.7,679.2 1443.3,679.3 1443.9,678.6 1444.5,679.2 1445.1,679.6 1445.7,679.7 1446.3,679.0 1446.9,679.3 1447.5,678.7 1448.1,679.3 1448.7,679.7 1449.3,680.8 1449.9,680.8 1450.5,679.7 1451.1,680.2 1451.7,680.0 1452.3,679.6 1452.9,679.8 1453.5,678.3 1454.1,678.1 1454.7,677.9 1455.3,678.3 1455.9,677.4 1456.5,678.0 1457.1,678.0 1457.7,677.5 1458.3,677.3 1458.9,678.4 1459.5,679.0 1460.1,677.9 1460.7,678.5 1461.3,678.4 1461.9,677.2 1462.5,678.1 1463.1,677.7 1463.7,678.5 1464.3,678.3 1464.9,677.9 1465.5,678.5 1466.1,677.7 1466.7,677.8 1467.3,678.6 1467.9,679.3 1468.5,679.4 1469.1,679.8 1469.7,677.8 1470.3,677.8 1470.9,678.4 1471.5,678.6 1472.1,678.3 1472.7,678.3 1473.3,678.0 1473.9,677.5 1474.5,677.7 1475.1,678.1 1475.7,678.7 1476.3,678.2 1476.9,677.3 1477.5,676.8 1478.1,678.5 1478.7,678.3 1479.3,678.7 1479.9,678.0 1480.5,677.7 1481.1,678.3 1481.7,679.3 1482.3,679.1 1482.9,679.8 1483.5,678.7 1484.1,679.3 1484.7,678.9 1485.3,678.7 1485.9,678.7 1486.5,679.0 1487.1,679.4 1487.7,679.5 1488.3,679.2 1488.9,678.6 1489.5,678.2 1490.1,678.5 1490.7,679.5 1491.3,680.1 1491.9,680.0 1492.5,680.0 1493.1,678.8 1493.7,678.8 1494.3,678.1 1494.9,678.9 1495.5,679.2 1496.1,678.6 1496.7,677.5 1497.3,678.0 1497.9,678.6 1498.5,678.9 1499.1,679.0 1499.7,678.5 1500.3,679.6 1500.9,679.3 1501.5,678.2 1502.1,679.9 1502.7,678.2 1503.3,679.3 1503.9,679.2 1504.5,678.7 1505.1,678.5 1505.7,678.1 1506.3,679.0 1506.9,677.3 1507.5,679.2 1508.1,679.0 1508.7,678.8 1509.3,677.4 1509.9,678.9 1510.5,679.1 1511.1,678.0 1511.7,678.3 1512.3,679.0 1512.9,677.6 1513.5,678.3 1514.1,679.0 1514.7,679.2 1515.3,678.6 1515.9,678.7 1516.5,677.8 1517.1,679.7 1517.7,678.4 1518.3,679.0 1518.9,679.5 1519.5,679.7 1520.1,679.6 1520.7,679.3 1521.3,680.0 1521.9,678.9 1522.5,678.9 1523.1,678.1 1523.7,679.1 1524.3,678.7 1524.9,677.2 1525.5,677.4 1526.1,677.5 1526.7,678.7 1527.3,677.6 1527.9,677.5 1528.5,678.0 1529.1,678.2"/>
<polyline fill="none" stroke="#ff0000" stroke-width="9.5" stroke-linejoin="round" stroke-linecap="butt" shape-rendering="crispEdges" points="163.5,808.9 164.1,809.5 164.7,809.4 165.3,808.9 165.9,809.1 166.5,809.2 167.1,808.7 167.7,808.6 168.3,808.3 168.9,808.6 169.5,808.0 170.1,807.5 170.7,808.0 171.3,807.2 171.9,807.2 172.5,807.9 173.1,808.4 173.7,807.9 174.3,808.6 174.9,808.3 175.5,809.2 176.1,809.3 176.7,809.4 177.3,809.1 177.9,808.4 178.5,808.8 179.1,809.0 179.7,809.0 180.3,809.3 180.9,808.7 181.5,809.0 182.1,809.2 182.7,808.3 183.3,808.4 183.9,808.8 184.5,808.7 185.1,807.4 185.7,809.1 186.3,808.5 186.9,808.6 187.5,809.0 188.1,809.2 188.7,808.4 189.3,809.0 189.9,809.6 190.5,810.3 191.1,809.6 191.7,810.0 192.3,808.8 192.9,809.5 193.5,809.4 194.1,809.7 194.7,809.2 195.3,808.5 195.9,809.3 196.5,809.2 197.1,807.7 197.7,809.2 198.3,809.2 198.9,809.2 199.5,808.5 200.1,808.3 200.7,809.0 201.3,809.1 201.9,808.7 202.5,809.4 203.1,808.9 203.7,808.5 204.3,808.1 204.9,807.4 205.5,808.4 206.1,808.1 206.7,806.7 207.3,806.2 207.9,806.3 208.5,806.6 209.1,807.0 209.7,806.9 210.3,807.2 210.9,807.9 211.5,808.7 212.1,808.4 212.7,807.6 213.3,808.5 213.9,808.2 214.5,806.7 215.1,808.1 215.7,806.9 216.3,806.8 216.9,807.1 217.5,806.8 218.1,807.2 218.7,807.3 219.3,808.6 219.9,809.5 220.5,809.5 221.1,808.5 221.7,808.9 222.3,808.8 222.9,807.0 223.5,807.1 224.1,807.2 224.7,806.6 225.3,807.0 225.9,806.8 226.5,806.2 227.1,807.4 227.7,806.6 228.3,807.4 228.9,808.0 229.5,808.9 230.1,807.3 230.7,806.8 231.3,807.8 231.9,807.8 232.5,807.0 233.1,807.6 233.7,806.6 234.3,806.3 234.9,807.7 235.5,807.7 236.1,807.7 236.7,806.8 237.3,808.1 237.9,807.6 238.5,807.3 239.1,808.1 239.7,808.1 240.3,807.1 240.9,806.5 241.5,807.3 242.1,808.1 242.7,808.9 243.3,809.1 243.9,808.4 244.5,807.9 245.1,807.1 245.7,807.1 246.3,806.9 246.9,807.4 247.5,806.4 248.1,807.3 248.7,806.6 249.3,807.1 249.9,807.2 250.5,807.4 251.1,806.6 251.7,808.2 252.3,807.8 252.9,807.1 253.5,806.9 254.1,807.2 254.7,808.1 255.3,807.9 255.9,807.3 256.5,808.1 257.1,806.4 257.7,808.0 258.3,807.7 258.9,806.2 259.5,807.3 260.1,807.2 260.7,806.7 261.3,807.0 261.9,808.2 262.5,807.1 263.1,808.1 263.7,807.7 264.3,807.9 264.9,807.6 265.5,808.1 266.1,807.0 266.7,806.8 267.3,806.8 267.9,807.8 268.5,807.3 269.1,809.0 269.7,808.4 270.3,808.2 270.9,808.8 271.5,808.8 272.1,807.9 272.7,807.4 273.3,807.9 273.9,807.2 274.5,807.9 275.1,806.8 275.7,806.6 276.3,807.3 276.9,806.9 277.5,807.6 278.1,807.6 278.7,808.4 279.3,808.3 279.9,808.9 280.5,809.4 281.1,808.7 281.7,808.1 282.3,807.1 282.9,808.4 283.5,806.6 284.1,808.0 284.7,806.2 285.3,807.8 285.9,807.9 286.5,808.2 287.1,807.8 287.7,808.2 288.3,807.8 288.9,809.2 289.5,808.8 290.1,808.5 290.7,807.3 291.3,807.8 291.9,807.3 292.5,806.7 293.1,805.8 293.7,806.9 294.3,808.0 294.9,807.2 295.5,806.4 296.1,808.0 296.7,808.4 297.3,807.7 297.9,809.4 298.5,809.4 299.1,807.8 299.7,807.1 300.3,808.0 300.9,809.3 301.5,808.8 302.1,808.2 302.7,808.3 303.3,808.6 303.9,807.9 304.5,807.5 305.1,808.3 305.7,808.0 306.3,808.6 306.9,808.0 307.5,808.1 308.1,807.8 308.7,808.5 309.3,809.4 309.9,809.5 310.5,809.2 311.1,809.2 311.7,809.4 312.3,809.3 312.9,809.4 313.5,810.1 314.1,809.3 314.7,810.1 315.3,809.8 315.9,809.2 316.5,809.7 317.1,809.1 317.7,809.2 318.3,809.2 318.9,809.5 319.5,810.0 320.1,811.3 320.7,809.9 321.3,810.4 321.9,810.7 322.5,809.4 323.1,809.1 323.7,809.1 324.3,809.4 324.9,809.6 325.5,809.7 326.1,809.8 326.7,809.1 327.3,808.5 327.9,809.6 328.5,809.7 329.1,809.5 329.7,809.6 330.3,809.7 330.9,809.2 331.5,808.8 332.1,808.0 332.7,808.2 333.3,809.3 333.9,809.9 334.5,809.9 335.1,809.6 335.7,808.5 336.3,808.4 336.9,809.3 337.5,810.1 338.1,809.3 338.7,810.3 339.3,809.4 339.9,808.3 340.5,809.2 341.1,810.0 341.7,810.2 342.3,810.1 342.9,808.9 343.5,809.6 344.1,808.5 344.7,809.0 345.3,808.8 345.9,808.7 346.5,807.9 347.1,807.8 347.7,807.6 348.3,806.8 348.9,807.1 349.5,807.0 350.1,806.6 350.7,806.5 351.3,806.3 351.9,807.0 352.5,807.2 353.1,806.6 353.7,805.6 354.3,805.1 354.9,804.3 355.5,804.2 356.1,803.5 356.7,800.6 357.3,800.1 357.9,798.4 358.5,796.1 359.1,795.7 359.7,792.2 360.3,789.2 360.9,786.2 361.5,784.3 362.1,781.7 362.7,778.4 363.3,775.2 363.9,773.1 364.5,772.8 365.1,771.8 365.7,773.6 366.3,776.9 366.9,778.7 367.5,782.5 368.1,785.9 368.7,789.4 369.3,791.9 369.9,796.0 370.5,797.3 371.1,799.7 371.7,801.3 372.3,802.2 372.9,804.6 373.5,804.8 374.1,806.3 374.7,807.6 375.3,808.6 375.9,809.1 376.5,808.9 377.1,809.5 377.7,809.2 378.3,810.2 378.9,810.1 379.5,809.9 380.1,811.0 380.7,812.0 381.3,812.1 381.9,812.5 382.5,813.0 383.1,812.2 383.7,813.3 384.3,812.9 384.9,812.9 385.5,812.4 386.1,812.4 386.7,812.7 387.3,812.8 387.9,813.0 388.5,814.2 389.1,814.0 389.7,812.6 390.3,812.9 390.9,813.3 391.5,813.7 392.1,814.0 392.7,813.5 393.3,813.7 393.9,813.8 394.5,814.2 395.1,813.7 395.7,812.9 396.3,813.2 396.9,813.2 397.5,813.2 398.1,814.2 398.7,813.5 399.3,813.3 399.9,815.0 400.5,815.1 401.1,814.0 401.7,814.9 402.3,814.5 402.9,814.7 403.5,814.5 404.1,814.2 404.7,815.7 405.3,813.9 405.9,813.6 406.5,814.8 407.1,814.6 407.7,815.7 408.3,816.0 408.9,815.3 409.5,814.7 410.1,815.3 410.7,815.6 411.3,816.4 411.9,815.6 412.5,815.8 413.1,816.1 413.7,815.9 414.3,814.3 414.9,814.9 415.5,815.2 416.1,815.6 416.7,816.7 417.3,816.0 417.9,815.3 418.5,815.6 419.1,816.2 419.7,815.2 420.3,816.4 420.9,815.4 421.5,815.0 422.1,815.4 422.7,816.7 423.3,816.3 423.9,816.8 424.5,816.8 425.1,816.2 425.7,816.5 426.3,817.3 426.9,816.2 427.5,817.5 428.1,817.4 428.7,816.8 429.3,817.0 429.9,817.5 430.5,817.2 431.1,816.8 431.7,816.3 432.3,816.5 432.9,815.6 433.5,816.8 434.1,815.6 434.7,816.1 435.3,817.3 435.9,817.8 436.5,817.8 437.1,817.7 437.7,817.7 438.3,817.0 438.9,817.2 439.5,818.9 440.1,818.5 440.7,818.6 441.3,817.3 441.9,817.4 442.5,817.3 443.1,818.4 443.7,819.2 444.3,818.5 444.9,818.0 445.5,818.0 446.1,819.1 446.7,818.1 447.3,818.9 447.9,818.7 448.5,818.6 449.1,818.5 449.7,819.0 450.3,819.1 450.9,818.1 451.5,819.0 452.1,818.6 452.7,818.7 453.3,818.6 453.9,818.7 454.5,820.0 455.1,819.4 455.7,818.5 456.3,819.2 456.9,819.8 457.5,819.2 458.1,819.0 458.7,818.6 459.3,818.9 459.9,818.1 460.5,819.0 461.1,817.8 461.7,818.3 462.3,817.9 462.9,818.6 463.5,817.9 464.1,818.7 464.7,819.3 465.3,818.5 465.9,818.9 466.5,819.5 467.1,819.2 467.7,818.0 468.3,818.7 468.9,819.1 469.5,817.8 470.1,818.3 470.7,817.3 471.3,818.1 471.9,817.2 472.5,817.7 473.1,817.9 473.7,819.3 474.3,818.5 474.9,818.7 475.5,819.2 476.1,818.5 476.7,819.3 477.3,818.8 477.9,819.5 478.5,820.6 479.1,818.8 479.7,819.3 480.3,819.3 480.9,820.4 481.5,819.6 482.1,819.6 482.7,819.7 483.3,820.2 483.9,820.7 484.5,820.2 485.1,819.5 485.7,819.9 486.3,820.1 486.9,820.8 487.5,821.0 488.1,820.0 488.7,820.8 489.3,821.1 489.9,820.8 490.5,820.0 491.1,820.4 491.7,820.2 492.3,820.0 492.9,820.2 493.5,819.6 494.1,820.8 494.7,819.2 495.3,820.8 495.9,820.4 496.5,820.8 497.1,820.2 497.7,820.2 498.3,820.0 498.9,818.9 499.5,819.9 500.1,820.4 500.7,820.5 501.3,820.8 501.9,819.8 502.5,819.3 503.1,819.0 503.7,819.4 504.3,820.1 504.9,819.1 505.5,819.8 506.1,819.0 506.7,819.2 507.3,819.4 507.9,819.5 508.5,818.5 509.1,818.4 509.7,819.7 510.3,819.2 510.9,820.8 511.5,820.6 512.1,821.3 512.7,820.8 513.3,821.4 513.9,821.6 514.5,820.6 515.1,821.8 515.7,822.4 516.3,821.9 516.9,821.7 517.5,822.7 518.1,820.7 518.7,820.8 519.3,821.2 519.9,820.5 520.5,821.5 521.1,820.0 521.7,820.6 522.3,821.5 522.9,821.3 523.5,822.1 524.1,822.8 524.7,821.9 525.3,823.1 525.9,823.3 526.5,823.1 527.1,822.2 527.7,821.9 528.3,823.2 528.9,822.2 529.5,822.2 530.1,822.9 530.7,821.7 531.3,822.1 531.9,822.7 532.5,823.5 533.1,823.4 533.7,822.2 534.3,822.3 534.9,823.1 535.5,822.3 536.1,823.0 536.7,822.8 537.3,822.8 537.9,821.6 538.5,822.0 539.1,822.3 539.7,821.1 540.3,821.4 540.9,820.9 541.5,820.4 542.1,820.7 542.7,820.7 543.3,820.7 543.9,820.7 544.5,820.5 545.1,820.9 545.7,821.1 546.3,820.0 546.9,819.9 547.5,819.7 548.1,821.0 548.7,820.5 549.3,821.4 549.9,821.4 550.5,821.6 551.1,821.4 551.7,821.6 552.3,820.9 552.9,822.0 553.5,821.7 554.1,821.5 554.7,821.5 555.3,820.1 555.9,820.7 556.5,821.2 557.1,821.9 557.7,821.5 558.3,821.1 558.9,820.6 559.5,821.1 560.1,822.1 560.7,821.7 561.3,821.8 561.9,820.1 562.5,820.2 563.1,821.2 563.7,819.5 564.3,820.5 564.9,821.0 565.5,820.8 566.1,821.0 566.7,820.8 567.3,821.4 567.9,821.3 568.5,821.8 569.1,821.0 569.7,820.2 570.3,819.7 570.9,818.6 571.5,819.1 572.1,817.4 572.7,815.7 573.3,814.9 573.9,812.1 574.5,810.1 575.1,807.2 575.7,802.9 576.3,795.9 576.9,787.0 577.5,776.8 578.1,764.7 578.7,749.6 579.3,733.4 579.9,718.4 580.5,705.6 581.1,696.1 581.7,694.3 582.3,700.9 582.9,713.5 583.5,727.9 584.1,743.8 584.7,759.5 585.3,772.4 585.9,785.2 586.5,794.7 587.1,800.4 587.7,806.9 588.3,810.5 588.9,813.7 589.5,816.0 590.1,817.2 590.7,817.7 591.3,817.6 591.9,819.0 592.5,819.2 593.1,819.9 593.7,819.3 594.3,820.0 594.9,820.3 595.5,821.2 596.1,820.8 596.7,821.9 597.3,821.9 597.9,823.3 598.5,822.9 599.1,824.0 599.7,823.6 600.3,823.0 600.9,822.8 601.5,823.3 602.1,823.9 602.7,823.9 603.3,822.9 603.9,822.3 604.5,823.4 605.1,823.3 605.7,823.9 606.3,824.0 606.9,823.7 607.5,822.4 608.1,823.1 608.7,822.7 609.3,823.8 609.9,822.7 610.5,822.8 611.1,823.5 611.7,822.6 612.3,823.3 612.9,823.3 613.5,822.5 614.1,823.5 614.7,823.2 615.3,823.1 615.9,823.9 616.5,823.7 617.1,823.5 617.7,823.7 618.3,823.9 618.9,823.4 619.5,823.4 620.1,822.8 620.7,822.0 621.3,822.2 621.9,822.2 622.5,822.7 623.1,821.8 623.7,821.1 624.3,820.7 624.9,820.7 625.5,819.9 626.1,820.0 626.7,819.7 627.3,819.0 627.9,819.2 628.5,818.2 629.1,818.4 629.7,817.4 630.3,817.2 630.9,816.7 631.5,815.8 632.1,815.4 632.7,817.3 633.3,817.5 633.9,816.8 634.5,817.3 635.1,818.6 635.7,818.7 636.3,819.6 636.9,819.0 637.5,819.8 638.1,820.1 638.7,822.0 639.3,821.8 639.9,822.3 640.5,823.0 641.1,823.7 641.7,823.0 642.3,823.5 642.9,824.1 643.5,823.0 644.1,823.8 644.7,823.5 645.3,823.3 645.9,824.5 646.5,824.5 647.1,825.0 647.7,824.1 648.3,825.5 648.9,824.7 649.5,825.5 650.1,825.8 650.7,824.4 651.3,825.7 651.9,824.8 652.5,824.5 653.1,825.8 653.7,825.8 654.3,825.2 654.9,825.9 655.5,826.0 656.1,826.1 656.7,826.4 657.3,826.0 657.9,825.1 658.5,825.7 659.1,823.3 659.7,824.2 660.3,824.0 660.9,824.1 661.5,823.5 662.1,823.2 662.7,822.5 663.3,823.2 663.9,822.3 664.5,824.1 665.1,823.9 665.7,823.4 666.3,823.7 666.9,823.3 667.5,823.5 668.1,821.8 668.7,821.6 669.3,821.7 669.9,820.4 670.5,819.0 671.1,816.1 671.7,813.7 672.3,810.3 672.9,805.6 673.5,799.6 674.1,791.4 674.7,780.9 675.3,771.2 675.9,760.4 676.5,749.8 677.1,742.5 677.7,739.6 678.3,742.1 678.9,747.6 679.5,756.4 680.1,767.6 680.7,777.5 681.3,787.7 681.9,795.8 682.5,803.2 683.1,809.0 683.7,812.9 684.3,815.0 684.9,817.9 685.5,819.6 686.1,820.0 686.7,821.8 687.3,821.7 687.9,823.0 688.5,823.5 689.1,824.2 689.7,824.9 690.3,824.0 690.9,824.7 691.5,824.3 692.1,825.6 692.7,825.0 693.3,825.1 693.9,824.7 694.5,824.9 695.1,825.5 695.7,825.4 696.3,826.3 696.9,827.0 697.5,827.3 698.1,826.1 698.7,826.4 699.3,826.3 699.9,827.2 700.5,826.0 701.1,827.9 701.7,827.7 702.3,827.8 702.9,828.1 703.5,826.7 704.1,826.6 704.7,827.3 705.3,827.8 705.9,826.9 706.5,827.3 707.1,826.5 707.7,826.5 708.3,825.8 708.9,826.8 709.5,826.7 710.1,826.5 710.7,825.9 711.3,825.2 711.9,825.9 712.5,825.8 713.1,825.9 713.7,826.0 714.3,826.8 714.9,827.7 715.5,827.4 716.1,827.2 716.7,826.6 717.3,827.4 717.9,828.0 718.5,826.1 719.1,827.2 719.7,825.7 720.3,826.5 720.9,826.3 721.5,826.6 722.1,826.3 722.7,825.9 723.3,826.5 723.9,826.1 724.5,826.6 725.1,826.1 725.7,824.7 726.3,825.5 726.9,825.2 727.5,826.0 728.1,825.5 728.7,826.4 729.3,826.3 729.9,825.6 730.5,826.4 731.1,827.0 731.7,825.9 732.3,826.4 732.9,827.2 733.5,827.4 734.1,825.6 734.7,825.9 735.3,827.3 735.9,827.4 736.5,826.8 737.1,826.7 737.7,826.4 738.3,827.9 738.9,827.9 739.5,826.8 740.1,827.3 740.7,827.2 741.3,827.0 741.9,827.0 742.5,826.7 743.1,827.3 743.7,827.3 744.3,827.2 744.9,827.6 745.5,826.6 746.1,826.0 746.7,827.2 747.3,827.4 747.9,827.0 748.5,828.0 749.1,827.2 749.7,827.7 750.3,826.8 750.9,828.3 751.5,827.1 752.1,828.0 752.7,826.6 753.3,827.4 753.9,827.4 754.5,827.5 755.1,827.6 755.7,827.7 756.3,827.2 756.9,827.1 757.5,826.0 758.1,826.3 758.7,827.5 759.3,826.2 759.9,826.4 760.5,827.1 761.1,827.5 761.7,827.4 762.3,827.5 762.9,827.7 763.5,827.5 764.1,827.4 764.7,826.9 765.3,827.5 765.9,827.5 766.5,827.0 767.1,828.0 767.7,827.4 768.3,827.0 768.9,826.1 769.5,825.8 770.1,825.2 770.7,825.3 771.3,826.1 771.9,825.6 772.5,825.3 773.1,826.9 773.7,826.2 774.3,825.8 774.9,827.3 775.5,827.2 776.1,827.9 776.7,827.3 777.3,827.4 777.9,828.1 778.5,826.9 779.1,827.3 779.7,827.7 780.3,826.8 780.9,828.1 781.5,827.5 782.1,827.1 782.7,826.9 783.3,828.0 783.9,827.8 784.5,827.4 785.1,826.3 785.7,827.1 786.3,826.3 786.9,825.5 787.5,826.5 788.1,825.3 788.7,826.3 789.3,825.4 789.9,827.4 790.5,826.9 791.1,826.5 791.7,826.8 792.3,827.4 792.9,826.9 793.5,828.7 794.1,828.5 794.7,828.8 795.3,829.1 795.9,828.6 796.5,829.1 797.1,829.6 797.7,828.6 798.3,828.9 798.9,827.5 799.5,828.3 800.1,828.2 800.7,828.6 801.3,828.8 801.9,827.7 802.5,827.8 803.1,827.9 803.7,828.3 804.3,829.7 804.9,829.0 805.5,828.8 806.1,827.6 806.7,829.0 807.3,828.9 807.9,828.0 808.5,828.0 809.1,828.5 809.7,828.6 810.3,828.3 810.9,829.6 811.5,829.7 812.1,828.7 812.7,828.1 813.3,828.4 813.9,828.9 814.5,829.5 815.1,829.5 815.7,830.0 816.3,828.9 816.9,828.2 817.5,828.5 818.1,829.2 818.7,828.6 819.3,828.4 819.9,827.7 820.5,827.3 821.1,827.8 821.7,826.9 822.3,827.9 822.9,827.8 823.5,827.8 824.1,828.5 824.7,826.8 825.3,828.2 825.9,827.3 826.5,827.8 827.1,826.7 827.7,827.2 828.3,827.6 828.9,828.6 829.5,827.6 830.1,827.6 830.7,828.4 831.3,827.8 831.9,827.6 832.5,827.9 833.1,828.4 833.7,828.0 834.3,828.0 834.9,828.4 835.5,827.7 836.1,828.3 836.7,828.2 837.3,827.7 837.9,827.4 838.5,827.5 839.1,827.7 839.7,827.4 840.3,827.7 840.9,826.5 841.5,827.2 842.1,827.6 842.7,828.0 843.3,829.0 843.9,829.3 844.5,828.5 845.1,828.6 845.7,829.4 846.3,829.8 846.9,829.8 847.5,830.0 848.1,830.1 848.7,828.6 849.3,829.7 849.9,829.0 850.5,829.4 851.1,830.3 851.7,830.0 852.3,829.1 852.9,829.5 853.5,828.9 854.1,828.3 854.7,827.8 855.3,828.2 855.9,828.0 856.5,828.7 857.1,828.3 857.7,828.7 858.3,827.7 858.9,828.8 859.5,828.7 860.1,828.5 860.7,828.1 861.3,828.8 861.9,828.8 862.5,828.5 863.1,828.5 863.7,828.8 864.3,828.4 864.9,829.9 865.5,830.1 866.1,830.5 866.7,829.4 867.3,829.3 867.9,830.0 868.5,829.6 869.1,829.5 869.7,829.8 870.3,830.4 870.9,830.9 871.5,830.1 872.1,830.6 872.7,831.0 873.3,830.5 873.9,829.4 874.5,830.0 875.1,829.4 875.7,829.7 876.3,829.3 876.9,829.1 877.5,828.9 878.1,828.3 878.7,829.3 879.3,829.4 879.9,828.9 880.5,829.3 881.1,829.6 881.7,829.0 882.3,829.2 882.9,829.8 883.5,829.0 884.1,829.3 884.7,828.7 885.3,828.8 885.9,830.3 886.5,829.7 887.1,828.5 887.7,829.8 888.3,829.6 888.9,828.7 889.5,827.7 890.1,828.4 890.7,827.9 891.3,828.4 891.9,827.9 892.5,828.0 893.1,828.7 893.7,828.7 894.3,829.7 894.9,829.0 895.5,829.6 896.1,829.1 896.7,828.6 897.3,829.0 897.9,828.6 898.5,828.5 899.1,828.3 899.7,827.9 900.3,827.7 900.9,829.6 901.5,829.0 902.1,829.1 902.7,828.2 903.3,827.7 903.9,827.7 904.5,828.1 905.1,827.9 905.7,828.3 906.3,828.1 906.9,829.3 907.5,828.0 908.1,828.4 908.7,828.5 909.3,828.3 909.9,828.4 910.5,829.3 911.1,828.9 911.7,829.2 912.3,830.3 912.9,830.4 913.5,830.7 914.1,830.6 914.7,830.4 915.3,829.9 915.9,829.3 916.5,830.2 917.1,829.0 917.7,828.5 918.3,828.5 918.9,828.6 919.5,828.8 920.1,828.8 920.7,828.1 921.3,829.3 921.9,829.1 922.5,829.6 923.1,829.1 923.7,829.0 924.3,830.0 924.9,829.1 925.5,829.3 926.1,830.3 926.7,829.4 927.3,830.1 927.9,830.1 928.5,830.3 929.1,830.5 929.7,829.6 930.3,829.3 930.9,829.0 931.5,829.1 932.1,828.4 932.7,827.3 933.3,827.2 933.9,826.3 934.5,826.1 935.1,826.0 935.7,826.8 936.3,827.2 936.9,824.9 937.5,825.1 938.1,826.0 938.7,826.4 939.3,826.3 939.9,824.7 940.5,825.2 941.1,826.2 941.7,826.8 942.3,827.3 942.9,826.5 943.5,827.1 944.1,826.6 944.7,826.2 945.3,827.3 945.9,826.8 946.5,827.7 947.1,827.4 947.7,828.4 948.3,828.3 948.9,827.4 949.5,828.5 950.1,829.2 950.7,828.7 951.3,828.4 951.9,828.3 952.5,828.3 953.1,828.9 953.7,829.6 954.3,830.1 954.9,830.1 955.5,829.4 956.1,830.3 956.7,829.7 957.3,829.3 957.9,829.5 958.5,828.9 959.1,829.2 959.7,827.7 960.3,828.4 960.9,828.4 961.5,829.5 962.1,828.8 962.7,829.5 963.3,828.7 963.9,829.6 964.5,829.4 965.1,830.2 965.7,830.1 966.3,829.5 966.9,829.0 967.5,829.5 968.1,829.4 968.7,830.2 969.3,830.7 969.9,830.4 970.5,830.2 971.1,831.2 971.7,831.1 972.3,830.5 972.9,830.3 973.5,829.6 974.1,829.8 974.7,829.4 975.3,828.2 975.9,829.7 976.5,829.3 977.1,828.5 977.7,829.9 978.3,829.6 978.9,830.9 979.5,830.1 980.1,830.8 980.7,831.3 981.3,831.0 981.9,831.1 982.5,831.2 983.1,830.5 983.7,830.5 984.3,830.4 984.9,831.3 985.5,830.6 986.1,829.9 986.7,831.3 987.3,830.6 987.9,830.2 988.5,830.9 989.1,831.8 989.7,829.8 990.3,830.6 990.9,831.2 991.5,829.6 992.1,829.8 992.7,830.3 993.3,831.2 993.9,829.4 994.5,830.0 995.1,829.4 995.7,830.1 996.3,830.0 996.9,830.7 997.5,830.3 998.1,830.5 998.7,831.0 999.3,830.3 999.9,830.4 1000.5,831.1 1001.1,830.2 1001.7,830.6 1002.3,830.5 1002.9,830.7 1003.5,831.5 1004.1,832.0 1004.7,831.8 1005.3,832.2 1005.9,830.8 1006.5,832.6 1007.1,832.3 1007.7,832.2 1008.3,831.5 1008.9,831.9 1009.5,831.5 1010.1,831.0 1010.7,830.7 1011.3,830.6 1011.9,830.7 1012.5,831.3 1013.1,831.3 1013.7,830.1 1014.3,831.6 1014.9,832.1 1015.5,831.6 1016.1,832.2 1016.7,831.2 1017.3,831.1 1017.9,831.7 1018.5,831.7 1019.1,831.2 1019.7,831.5 1020.3,830.5 1020.9,830.7 1021.5,831.0 1022.1,831.0 1022.7,830.4 1023.3,830.4 1023.9,830.0 1024.5,829.7 1025.1,828.8 1025.7,829.2 1026.3,830.0 1026.9,831.0 1027.5,831.1 1028.1,830.4 1028.7,831.3 1029.3,831.5 1029.9,831.6 1030.5,831.3 1031.1,831.4 1031.7,830.7 1032.3,831.0 1032.9,831.6 1033.5,830.3 1034.1,830.1 1034.7,831.5 1035.3,831.6 1035.9,831.3 1036.5,830.3 1037.1,829.6 1037.7,830.7 1038.3,830.5 1038.9,829.6 1039.5,828.8 1040.1,828.2 1040.7,828.2 1041.3,829.0 1041.9,829.0 1042.5,827.6 1043.1,828.5 1043.7,828.0 1044.3,828.5 1044.9,828.9 1045.5,828.2 1046.1,828.2 1046.7,827.5 1047.3,828.4 1047.9,828.4 1048.5,827.5 1049.1,828.1 1049.7,827.0 1050.3,826.4 1050.9,826.7 1051.5,826.0 1052.1,826.5 1052.7,827.2 1053.3,827.6 1053.9,827.2 1054.5,827.7 1055.1,828.9 1055.7,828.9 1056.3,829.4 1056.9,829.3 1057.5,829.4 1058.1,829.4 1058.7,830.0 1059.3,830.9 1059.9,830.0 1060.5,829.7 1061.1,829.7 1061.7,831.4 1062.3,830.4 1062.9,831.0 1063.5,831.4 1064.1,831.0 1064.7,830.2 1065.3,831.0 1065.9,830.5 1066.5,831.5 1067.1,832.2 1067.7,832.0 1068.3,831.9 1068.9,831.8 1069.5,832.9 1070.1,832.8 1070.7,832.3 1071.3,832.5 1071.9,831.8 1072.5,832.4 1073.1,831.8 1073.7,832.0 1074.3,831.6 1074.9,831.4 1075.5,832.7 1076.1,832.5 1076.7,832.3 1077.3,832.5 1077.9,832.4 1078.5,831.8 1079.1,831.8 1079.7,832.3 1080.3,832.2 1080.9,830.9 1081.5,831.3 1082.1,831.0 1082.7,831.2 1083.3,831.5 1083.9,830.7 1084.5,830.7 1085.1,830.5 1085.7,830.9 1086.3,831.5 1086.9,831.1 1087.5,831.2 1088.1,831.5 1088.7,831.8 1089.3,830.7 1089.9,832.0 1090.5,831.6 1091.1,830.7 1091.7,830.9 1092.3,832.4 1092.9,832.1 1093.5,832.1 1094.1,831.4 1094.7,831.2 1095.3,831.0 1095.9,831.7 1096.5,831.7 1097.1,831.9 1097.7,831.2 1098.3,830.9 1098.9,830.0 1099.5,831.0 1100.1,830.5 1100.7,829.7 1101.3,830.6 1101.9,829.2 1102.5,831.0 1103.1,830.7 1103.7,830.7 1104.3,830.4 1104.9,830.3 1105.5,831.2 1106.1,830.6 1106.7,830.0 1107.3,830.9 1107.9,830.3 1108.5,830.6 1109.1,829.8 1109.7,830.1 1110.3,830.4 1110.9,830.3 1111.5,830.5 1112.1,831.0 1112.7,831.5 1113.3,830.9 1113.9,830.5 1114.5,831.4 1115.1,830.5 1115.7,831.5 1116.3,831.1 1116.9,831.2 1117.5,831.1 1118.1,831.0 1118.7,830.5 1119.3,830.9 1119.9,831.5 1120.5,830.2 1121.1,830.7 1121.7,831.1 1122.3,832.2 1122.9,831.3 1123.5,831.6 1124.1,831.4 1124.7,830.7 1125.3,831.0 1125.9,829.8 1126.5,831.2 1127.1,830.5 1127.7,829.9 1128.3,828.3 1128.9,828.2 1129.5,827.8 1130.1,828.7 1130.7,827.7 1131.3,828.9 1131.9,828.3 1132.5,828.1 1133.1,828.6 1133.7,828.9 1134.3,828.8 1134.9,829.2 1135.5,828.1 1136.1,829.2 1136.7,830.6 1137.3,829.2 1137.9,830.3 1138.5,831.4 1139.1,830.0 1139.7,831.7 1140.3,830.7 1140.9,830.9 1141.5,830.3 1142.1,828.8 1142.7,830.0 1143.3,829.7 1143.9,828.2 1144.5,829.0 1145.1,830.0 1145.7,829.5 1146.3,830.5 1146.9,831.0 1147.5,830.9 1148.1,831.6 1148.7,832.6 1149.3,832.0 1149.9,833.5 1150.5,833.6 1151.1,832.7 1151.7,831.4 1152.3,831.7 1152.9,830.9 1153.5,832.7 1154.1,832.9 1154.7,832.1 1155.3,831.7 1155.9,831.7 1156.5,830.5 1157.1,831.6 1157.7,830.9 1158.3,830.2 1158.9,830.2 1159.5,830.9 1160.1,830.3 1160.7,829.9 1161.3,830.3 1161.9,831.2 1162.5,830.4 1163.1,831.3 1163.7,830.0 1164.3,830.2 1164.9,829.9 1165.5,831.4 1166.1,830.8 1166.7,831.0 1167.3,830.3 1167.9,830.0 1168.5,831.1 1169.1,830.4 1169.7,830.9 1170.3,831.3 1170.9,831.2 1171.5,831.1 1172.1,830.7 1172.7,831.4 1173.3,830.5 1173.9,831.7 1174.5,831.3 1175.1,831.3 1175.7,831.6 1176.3,830.2 1176.9,831.2 1177.5,831.2 1178.1,830.3 1178.7,829.6 1179.3,830.7 1179.9,829.6 1180.5,831.2 1181.1,831.0 1181.7,830.0 1182.3,830.1 1182.9,830.4 1183.5,831.5 1184.1,831.3 1184.7,831.7 1185.3,830.5 1185.9,831.3 1186.5,831.1 1187.1,830.4 1187.7,829.7 1188.3,831.3 1188.9,831.2 1189.5,831.4 1190.1,830.8 1190.7,830.0 1191.3,830.4 1191.9,831.8 1192.5,830.2 1193.1,831.5 1193.7,830.0 1194.3,829.9 1194.9,830.2 1195.5,830.9 1196.1,830.9 1196.7,831.1 1197.3,831.7 1197.9,831.8 1198.5,832.6 1199.1,831.8 1199.7,833.2 1200.3,833.5 1200.9,832.6 1201.5,831.5 1202.1,832.2 1202.7,832.8 1203.3,831.7 1203.9,832.1 1204.5,831.9 1205.1,831.4 1205.7,832.0 1206.3,832.2 1206.9,832.4 1207.5,831.4 1208.1,832.7 1208.7,832.1 1209.3,832.2 1209.9,831.8 1210.5,831.8 1211.1,831.8 1211.7,832.0 1212.3,832.1 1212.9,832.3 1213.5,831.9 1214.1,832.3 1214.7,831.8 1215.3,831.3 1215.9,830.8 1216.5,830.1 1217.1,830.6 1217.7,829.8 1218.3,831.2 1218.9,831.2 1219.5,830.1 1220.1,830.7 1220.7,830.0 1221.3,829.7 1221.9,830.4 1222.5,831.5 1223.1,830.5 1223.7,831.6 1224.3,830.4 1224.9,830.3 1225.5,830.9 1226.1,830.2 1226.7,830.0 1227.3,831.3 1227.9,831.5 1228.5,831.1 1229.1,831.5 1229.7,830.9 1230.3,831.3 1230.9,831.5 1231.5,831.9 1232.1,831.5 1232.7,831.8 1233.3,832.0 1233.9,831.5 1234.5,831.0 1235.1,831.1 1235.7,831.4 1236.3,830.9 1236.9,831.4 1237.5,831.4 1238.1,830.5 1238.7,831.3 1239.3,829.9 1239.9,830.5 1240.5,831.2 1241.1,831.9 1241.7,830.5 1242.3,831.3 1242.9,831.1 1243.5,830.7 1244.1,831.9 1244.7,832.2 1245.3,832.0 1245.9,832.2 1246.5,831.8 1247.1,832.2 1247.7,831.1 1248.3,832.3 1248.9,831.3 1249.5,831.2 1250.1,830.1 1250.7,830.0 1251.3,830.6 1251.9,830.9 1252.5,830.3 1253.1,829.9 1253.7,830.0 1254.3,830.4 1254.9,830.4 1255.5,830.3 1256.1,831.3 1256.7,831.4 1257.3,830.3 1257.9,830.6 1258.5,831.4 1259.1,831.1 1259.7,829.9 1260.3,830.2 1260.9,830.5 1261.5,829.8 1262.1,830.5 1262.7,829.1 1263.3,829.3 1263.9,828.5 1264.5,829.2 1265.1,827.8 1265.7,829.0 1266.3,828.3 1266.9,828.3 1267.5,827.6 1268.1,829.0 1268.7,828.7 1269.3,827.7 1269.9,829.3 1270.5,828.5 1271.1,828.9 1271.7,828.9 1272.3,830.3 1272.9,829.8 1273.5,828.7 1274.1,830.3 1274.7,829.2 1275.3,829.8 1275.9,828.7 1276.5,829.0 1277.1,828.5 1277.7,828.9 1278.3,828.4 1278.9,828.4 1279.5,829.0 1280.1,829.3 1280.7,828.7 1281.3,829.4 1281.9,829.8 1282.5,829.8 1283.1,829.8 1283.7,830.6 1284.3,831.0 1284.9,830.7 1285.5,829.5 1286.1,829.0 1286.7,830.2 1287.3,829.7 1287.9,829.8 1288.5,829.8 1289.1,829.8 1289.7,829.3 1290.3,829.7 1290.9,829.3 1291.5,829.4 1292.1,830.1 1292.7,829.4 1293.3,828.8 1293.9,829.1 1294.5,829.0 1295.1,829.6 1295.7,828.7 1296.3,829.1 1296.9,828.3 1297.5,829.1 1298.1,829.0 1298.7,828.5 1299.3,829.1 1299.9,829.3 1300.5,829.2 1301.1,829.8 1301.7,829.1 1302.3,829.5 1302.9,829.0 1303.5,829.2 1304.1,830.2 1304.7,830.1 1305.3,830.4 1305.9,830.8 1306.5,830.2 1307.1,830.1 1307.7,829.5 1308.3,829.8 1308.9,829.9 1309.5,828.7 1310.1,829.0 1310.7,830.5 1311.3,828.8 1311.9,830.4 1312.5,829.7 1313.1,829.7 1313.7,829.3 1314.3,828.9 1314.9,827.4 1315.5,827.4 1316.1,828.1 1316.7,827.1 1317.3,828.1 1317.9,826.6 1318.5,827.2 1319.1,828.0 1319.7,827.9 1320.3,827.3 1320.9,827.6 1321.5,827.5 1322.1,827.5 1322.7,826.6 1323.3,827.4 1323.9,826.6 1324.5,826.2 1325.1,825.4 1325.7,825.7 1326.3,825.1 1326.9,825.9 1327.5,825.8 1328.1,825.7 1328.7,824.1 1329.3,824.7 1329.9,824.2 1330.5,823.8 1331.1,823.8 1331.7,823.4 1332.3,824.1 1332.9,825.1 1333.5,824.2 1334.1,825.0 1334.7,824.8 1335.3,826.1 1335.9,826.7 1336.5,827.4 1337.1,826.9 1337.7,827.1 1338.3,828.5 1338.9,827.7 1339.5,828.1 1340.1,828.2 1340.7,828.7 1341.3,828.2 1341.9,829.5 1342.5,829.9 1343.1,829.4 1343.7,828.7 1344.3,827.6 1344.9,828.8 1345.5,828.8 1346.1,828.0 1346.7,828.1 1347.3,828.0 1347.9,828.3 1348.5,828.4 1349.1,828.5 1349.7,827.8 1350.3,829.0 1350.9,827.8 1351.5,828.6 1352.1,829.3 1352.7,828.1 1353.3,827.8 1353.9,827.8 1354.5,828.1 1355.1,828.0 1355.7,827.4 1356.3,826.2 1356.9,825.4 1357.5,825.2 1358.1,825.2 1358.7,825.4 1359.3,825.6 1359.9,824.3 1360.5,823.9 1361.1,825.1 1361.7,824.7 1362.3,824.9 1362.9,824.7 1363.5,825.6 1364.1,827.0 1364.7,827.1 1365.3,826.4 1365.9,827.7 1366.5,827.7 1367.1,828.9 1367.7,827.9 1368.3,829.0 1368.9,829.8 1369.5,829.8 1370.1,829.4 1370.7,829.3 1371.3,829.3 1371.9,829.4 1372.5,829.6 1373.1,830.1 1373.7,830.2 1374.3,831.2 1374.9,830.3 1375.5,830.4 1376.1,829.7 1376.7,829.4 1377.3,830.5 1377.9,829.5 1378.5,829.0 1379.1,828.8 1379.7,828.4 1380.3,829.0 1380.9,829.2 1381.5,829.1 1382.1,830.0 1382.7,830.4 1383.3,830.2 1383.9,830.7 1384.5,829.7 1385.1,831.4 1385.7,830.8 1386.3,831.2 1386.9,831.1 1387.5,830.2 1388.1,831.5 1388.7,831.7 1389.3,830.5 1389.9,831.1 1390.5,830.2 1391.1,829.6 1391.7,829.9 1392.3,830.7 1392.9,830.0 1393.5,830.2 1394.1,828.8 1394.7,829.1 1395.3,829.0 1395.9,830.3 1396.5,829.4 1397.1,830.2 1397.7,831.1 1398.3,831.3 1398.9,831.6 1399.5,832.6 1400.1,831.7 1400.7,831.7 1401.3,832.2 1401.9,832.6 1402.5,831.4 1403.1,832.0 1403.7,830.7 1404.3,831.7 1404.9,831.1 1405.5,831.4 1406.1,831.3 1406.7,830.5 1407.3,830.9 1407.9,830.5 1408.5,830.5 1409.1,831.3 1409.7,830.2 1410.3,831.5 1410.9,831.1 1411.5,830.5 1412.1,829.6 1412.7,829.0 1413.3,829.8 1413.9,828.5 1414.5,829.4 1415.1,830.8 1415.7,830.1 1416.3,830.0 1416.9,830.1 1417.5,830.9 1418.1,830.7 1418.7,830.5 1419.3,830.6 1419.9,830.2 1420.5,830.8 1421.1,831.5 1421.7,831.0 1422.3,831.6 1422.9,830.4 1423.5,830.3 1424.1,831.5 1424.7,832.0 1425.3,831.6 1425.9,831.1 1426.5,829.7 1427.1,830.2 1427.7,830.1 1428.3,830.3 1428.9,830.6 1429.5,830.1 1430.1,829.6 1430.7,830.3 1431.3,829.8 1431.9,829.8 1432.5,830.0 1433.1,830.1 1433.7,831.2 1434.3,830.3 1434.9,830.8 1435.5,829.9 1436.1,830.7 1436.7,829.6 1437.3,830.1 1437.9,830.3 1438.5,830.0 1439.1,829.7 1439.7,829.1 1440.3,829.4 1440.9,829.8 1441.5,830.6 1442.1,830.4 1442.7,830.0 1443.3,830.8 1443.9,830.7 1444.5,831.4 1445.1,830.7 1445.7,831.2 1446.3,831.6 1446.9,831.3 1447.5,831.4 1448.1,830.8 1448.7,831.5 1449.3,831.8 1449.9,832.4 1450.5,832.6 1451.1,831.0 1451.7,832.1 1452.3,831.7 1452.9,831.7 1453.5,832.1 1454.1,832.1 1454.7,832.3 1455.3,832.3 1455.9,831.7 1456.5,832.5 1457.1,831.5 1457.7,831.0 1458.3,832.4 1458.9,832.2 1459.5,832.0 1460.1,831.1 1460.7,831.1 1461.3,832.0 1461.9,831.1 1462.5,832.1 1463.1,831.1 1463.7,831.7 1464.3,830.9 1464.9,831.0 1465.5,830.8 1466.1,830.5 1466.7,831.6 1467.3,832.2 1467.9,832.1 1468.5,831.5 1469.1,831.9 1469.7,832.5 1470.3,831.4 1470.9,831.5 1471.5,832.0 1472.1,830.4 1472.7,831.1 1473.3,831.0 1473.9,831.1 1474.5,831.8 1475.1,832.4 1475.7,832.0 1476.3,832.7 1476.9,832.0 1477.5,833.2 1478.1,832.3 1478.7,832.3 1479.3,832.5 1479.9,831.4 1480.5,833.0 1481.1,832.0 1481.7,831.4 1482.3,830.5 1482.9,830.2 1483.5,830.6 1484.1,831.3 1484.7,830.9 1485.3,831.5 1485.9,831.3 1486.5,830.8 1487.1,830.4 1487.7,831.9 1488.3,830.9 1488.9,831.5 1489.5,830.7 1490.1,831.6 1490.7,831.1 1491.3,830.8 1491.9,831.3 1492.5,831.1 1493.1,831.1 1493.7,831.6 1494.3,832.5 1494.9,831.7 1495.5,832.4 1496.1,831.4 1496.7,831.6 1497.3,831.2 1497.9,831.8 1498.5,831.4 1499.1,830.5 1499.7,829.3 1500.3,829.4 1500.9,830.6 1501.5,830.7 1502.1,831.6 1502.7,831.1 1503.3,830.4 1503.9,831.5 1504.5,830.7 1505.1,831.4 1505.7,830.3 1506.3,831.7 1506.9,829.9 1507.5,830.8 1508.1,831.7 1508.7,832.0 1509.3,832.5 1509.9,832.5 1510.5,831.9 1511.1,832.4 1511.7,832.9 1512.3,832.8 1512.9,832.1 1513.5,832.3 1514.1,831.8 1514.7,831.0 1515.3,831.2 1515.9,831.8 1516.5,831.5 1517.1,831.6 1517.7,832.2 1518.3,832.1 1518.9,832.8 1519.5,833.6 1520.1,833.4 1520.7,833.8 1521.3,834.1 1521.9,833.2 1522.5,834.4 1523.1,834.4 1523.7,834.3 1524.3,833.8 1524.9,832.0 1525.5,832.6 1526.1,832.1 1526.7,831.9 1527.3,832.0 1527.9,831.7 1528.5,833.0 1529.1,832.4"/>
<polyline fill="none" stroke="#000000" stroke-width="9.5" stroke-linejoin="round" stroke-linecap="butt" shape-rendering="crispEdges" points="163.5,969.0 164.1,968.7 164.7,969.4 165.3,969.3 165.9,968.3 166.5,970.2 167.1,969.2 167.7,969.6 168.3,970.2 168.9,969.1 169.5,969.3 170.1,969.8 170.7,970.1 171.3,970.3 171.9,969.9 172.5,969.6 173.1,969.0 173.7,969.3 174.3,968.3 174.9,968.3 175.5,968.7 176.1,968.1 176.7,968.7 177.3,968.3 177.9,968.6 178.5,968.7 179.1,967.8 179.7,967.8 180.3,967.6 180.9,968.7 181.5,966.9 182.1,966.6 182.7,967.2 183.3,967.2 183.9,968.2 184.5,967.4 185.1,967.7 185.7,967.8 186.3,968.9 186.9,968.2 187.5,968.5 188.1,968.3 188.7,968.6 189.3,967.5 189.9,968.2 190.5,968.3 191.1,967.9 191.7,967.8 192.3,967.4 192.9,968.4 193.5,968.6 194.1,969.1 194.7,969.0 195.3,968.5 195.9,967.5 196.5,969.5 197.1,968.1 197.7,968.9 198.3,967.8 198.9,967.6 199.5,968.9 200.1,969.2 200.7,968.1 201.3,968.5 201.9,967.1 202.5,967.0 203.1,967.0 203.7,968.1 204.3,966.6 204.9,966.2 205.5,966.7 206.1,966.3 206.7,967.6 207.3,968.1 207.9,967.9 208.5,967.1 209.1,967.9 209.7,967.7 210.3,967.5 210.9,969.2 211.5,969.8 212.1,968.5 212.7,969.4 213.3,968.7 213.9,968.8 214.5,969.0 215.1,969.5 215.7,968.9 216.3,968.0 216.9,967.7 217.5,968.5 218.1,967.8 218.7,967.6 219.3,968.2 219.9,968.2 220.5,968.7 221.1,967.8 221.7,968.2 222.3,968.8 222.9,968.5 223.5,967.2 224.1,968.4 224.7,967.5 225.3,968.2 225.9,966.8 226.5,967.7 227.1,967.5 227.7,967.8 228.3,967.8 228.9,967.5 229.5,968.9 230.1,968.2 230.7,967.7 231.3,968.9 231.9,969.2 232.5,968.1 233.1,967.7 233.7,967.5 234.3,968.7 234.9,968.3 235.5,968.9 236.1,968.1 236.7,967.2 237.3,968.3 237.9,967.4 238.5,968.7 239.1,968.0 239.7,968.7 240.3,968.0 240.9,968.5 241.5,968.1 242.1,969.7 242.7,969.0 243.3,968.9 243.9,967.6 244.5,968.5 245.1,968.8 245.7,967.5 246.3,967.6 246.9,968.7 247.5,968.4 248.1,968.2 248.7,968.3 249.3,967.7 249.9,967.2 250.5,967.6 251.1,967.6 251.7,967.5 252.3,967.7 252.9,967.4 253.5,966.7 254.1,967.4 254.7,966.0 255.3,967.7 255.9,967.6 256.5,967.2 257.1,967.8 257.7,967.9 258.3,967.4 258.9,967.1 259.5,967.6 260.1,968.0 260.7,967.9 261.3,967.9 261.9,967.8 262.5,967.9 263.1,968.2 263.7,968.5 264.3,968.1 264.9,968.4 265.5,967.4 266.1,968.5 266.7,967.3 267.3,966.6 267.9,967.4 268.5,967.2 269.1,967.5 269.7,967.3 270.3,968.1 270.9,967.3 271.5,967.4 272.1,967.7 272.7,968.5 273.3,967.2 273.9,966.7 274.5,967.1 275.1,967.4 275.7,967.6 276.3,967.7 276.9,967.5 277.5,968.4 278.1,967.8 278.7,966.6 279.3,967.0 279.9,967.9 280.5,968.0 281.1,967.3 281.7,968.5 282.3,967.1 282.9,967.0 283.5,969.0 284.1,968.0 284.7,967.4 285.3,968.8 285.9,968.1 286.5,969.5 287.1,969.4 287.7,968.8 288.3,968.3 288.9,968.5 289.5,968.7 290.1,970.5 290.7,970.3 291.3,968.7 291.9,969.8 292.5,968.4 293.1,968.5 293.7,968.4 294.3,970.0 294.9,969.3 295.5,969.0 296.1,969.4 296.7,968.7 297.3,969.4 297.9,968.7 298.5,969.3 299.1,969.1 299.7,968.6 300.3,968.2 300.9,968.4 301.5,968.2 302.1,969.2 302.7,969.1 303.3,969.6 303.9,969.8 304.5,969.0 305.1,969.3 305.7,969.7 306.3,970.7 306.9,970.6 307.5,970.0 308.1,968.3 308.7,969.1 309.3,970.3 309.9,968.9 310.5,968.8 311.1,968.8 311.7,968.9 312.3,968.3 312.9,969.6 313.5,968.5 314.1,968.9 314.7,968.3 315.3,968.3 315.9,968.5 316.5,969.1 317.1,968.7 317.7,969.5 318.3,968.1 318.9,969.1 319.5,968.5 320.1,968.7 320.7,968.1 321.3,968.6 321.9,968.2 322.5,967.4 323.1,969.0 323.7,969.4 324.3,969.6 324.9,970.3 325.5,970.6 326.1,969.6 326.7,969.4 327.3,969.8 327.9,969.7 328.5,970.6 329.1,970.4 329.7,969.0 330.3,969.5 330.9,970.4 331.5,969.7 332.1,970.2 332.7,970.4 333.3,969.1 333.9,970.4 334.5,968.8 335.1,969.2 335.7,969.5 336.3,969.5 336.9,968.7 337.5,970.2 338.1,969.2 338.7,968.8 339.3,968.2 339.9,969.9 340.5,969.2 341.1,968.4 341.7,969.0 342.3,968.3 342.9,968.9 343.5,967.7 344.1,969.0 344.7,967.6 345.3,967.6 345.9,969.0 346.5,968.0 347.1,968.0 347.7,968.3 348.3,968.6 348.9,967.5 349.5,967.7 350.1,967.6 350.7,967.4 351.3,966.7 351.9,966.8 352.5,966.0 353.1,965.0 353.7,964.3 354.3,964.4 354.9,963.8 355.5,962.2 356.1,961.7 356.7,959.8 357.3,957.7 357.9,957.1 358.5,953.2 359.1,952.0 359.7,949.1 360.3,945.1 360.9,940.7 361.5,938.3 362.1,933.9 362.7,930.3 363.3,928.5 363.9,927.4 364.5,927.5 365.1,928.4 365.7,931.5 366.3,934.5 366.9,937.9 367.5,942.8 368.1,946.4 368.7,949.7 369.3,952.6 369.9,955.6 370.5,959.0 371.1,960.4 371.7,963.2 372.3,965.0 372.9,965.2 373.5,965.7 374.1,966.2 374.7,966.4 375.3,967.9 375.9,967.9 376.5,967.9 377.1,967.8 377.7,968.1 378.3,969.8 378.9,969.4 379.5,970.6 380.1,969.5 380.7,970.6 381.3,969.9 381.9,970.5 382.5,971.8 383.1,971.6 383.7,971.3 384.3,971.6 384.9,971.1 385.5,971.4 386.1,972.0 386.7,971.8 387.3,972.3 387.9,972.2 388.5,972.4 389.1,971.9 389.7,972.3 390.3,973.4 390.9,972.7 391.5,972.2 392.1,973.3 392.7,972.3 393.3,973.6 393.9,973.5 394.5,972.6 395.1,972.2 395.7,972.9 396.3,974.1 396.9,974.2 397.5,973.5 398.1,973.7 398.7,973.9 399.3,974.5 399.9,974.1 400.5,973.8 401.1,973.9 401.7,974.4 402.3,973.2 402.9,973.7 403.5,973.9 404.1,974.3 404.7,974.6 405.3,973.4 405.9,973.3 406.5,973.5 407.1,973.6 407.7,972.7 408.3,973.5 408.9,973.8 409.5,973.2 410.1,974.4 410.7,973.5 411.3,974.1 411.9,973.9 412.5,974.3 413.1,974.6 413.7,973.8 414.3,973.4 414.9,973.3 415.5,973.0 416.1,973.0 416.7,974.8 417.3,974.4 417.9,974.1 418.5,974.2 419.1,974.2 419.7,975.9 420.3,976.2 420.9,975.5 421.5,976.5 422.1,975.1 422.7,976.2 423.3,975.2 423.9,976.4 424.5,975.0 425.1,974.8 425.7,974.9 426.3,974.0 426.9,974.3 427.5,974.5 428.1,974.6 428.7,974.5 429.3,972.9 429.9,973.5 430.5,973.9 431.1,974.4 431.7,974.8 432.3,975.5 432.9,975.7 433.5,974.7 434.1,975.6 434.7,976.5 435.3,975.3 435.9,975.6 436.5,975.5 437.1,974.7 437.7,975.4 438.3,974.8 438.9,975.2 439.5,975.4 440.1,974.2 440.7,975.4 441.3,975.4 441.9,974.5 442.5,974.5 443.1,974.8 443.7,975.3 444.3,975.4 444.9,975.0 445.5,975.5 446.1,976.2 446.7,974.9 447.3,975.5 447.9,975.8 448.5,975.2 449.1,975.8 449.7,975.8 450.3,975.0 450.9,975.2 451.5,975.2 452.1,974.7 452.7,975.4 453.3,975.4 453.9,975.7 454.5,976.7 455.1,976.2 455.7,976.1 456.3,977.3 456.9,976.7 457.5,976.4 458.1,977.4 458.7,977.0 459.3,976.9 459.9,977.3 460.5,978.1 461.1,978.0 461.7,978.0 462.3,977.7 462.9,977.5 463.5,978.1 464.1,977.2 464.7,976.9 465.3,976.7 465.9,977.4 466.5,977.2 467.1,977.9 467.7,977.6 468.3,977.9 468.9,978.1 469.5,977.2 470.1,977.9 470.7,977.2 471.3,975.8 471.9,977.0 472.5,976.7 473.1,975.7 473.7,977.0 474.3,976.9 474.9,977.0 475.5,976.3 476.1,977.0 476.7,977.7 477.3,976.9 477.9,976.6 478.5,978.3 479.1,977.1 479.7,977.4 480.3,976.7 480.9,977.1 481.5,976.7 482.1,976.5 482.7,977.8 483.3,977.5 483.9,976.7 484.5,977.0 485.1,977.8 485.7,978.9 486.3,977.5 486.9,977.6 487.5,976.5 488.1,977.1 488.7,976.3 489.3,977.2 489.9,977.2 490.5,977.5 491.1,978.1 491.7,977.1 492.3,977.6 492.9,977.2 493.5,977.4 494.1,978.0 494.7,977.1 495.3,977.2 495.9,977.8 496.5,976.6 497.1,977.1 497.7,978.0 498.3,977.7 498.9,977.1 499.5,977.8 500.1,977.8 500.7,977.4 501.3,976.7 501.9,977.4 502.5,978.7 503.1,978.0 503.7,978.8 504.3,978.4 504.9,977.5 505.5,977.7 506.1,979.0 506.7,978.7 507.3,978.5 507.9,977.4 508.5,977.5 509.1,977.3 509.7,977.1 510.3,977.8 510.9,978.2 511.5,978.1 512.1,977.7 512.7,978.6 513.3,979.4 513.9,978.6 514.5,978.5 515.1,979.7 515.7,979.6 516.3,979.6 516.9,979.0 517.5,979.6 518.1,979.4 518.7,978.8 519.3,979.2 519.9,979.2 520.5,979.1 521.1,977.6 521.7,977.6 522.3,977.6 522.9,978.6 523.5,977.6 524.1,977.7 524.7,977.5 525.3,978.1 525.9,979.3 526.5,979.0 527.1,978.8 527.7,978.5 528.3,978.4 528.9,978.9 529.5,978.2 530.1,979.2 530.7,979.4 531.3,978.3 531.9,978.3 532.5,978.5 533.1,979.1 533.7,979.5 534.3,979.5 534.9,978.8 535.5,979.4 536.1,979.7 536.7,979.3 537.3,979.9 537.9,978.5 538.5,978.1 539.1,979.5 539.7,979.1 540.3,978.7 540.9,978.7 541.5,978.9 542.1,979.7 542.7,979.5 543.3,978.4 543.9,978.0 544.5,979.6 545.1,979.8 545.7,977.9 546.3,978.6 546.9,979.1 547.5,978.5 548.1,979.2 548.7,978.4 549.3,977.9 549.9,978.8 550.5,978.3 551.1,978.9 551.7,978.3 552.3,978.1 552.9,977.1 553.5,977.3 554.1,978.3 554.7,976.9 555.3,976.8 555.9,977.5 556.5,977.0 557.1,975.8 557.7,975.2 558.3,975.3 558.9,974.6 559.5,973.3 560.1,972.0 560.7,971.4 561.3,970.4 561.9,969.8 562.5,970.1 563.1,969.1 563.7,970.3 564.3,969.4 564.9,970.1 565.5,970.6 566.1,972.4 566.7,973.2 567.3,973.3 567.9,974.6 568.5,975.2 569.1,975.7 569.7,975.8 570.3,977.3 570.9,977.0 571.5,976.9 572.1,975.9 572.7,975.7 573.3,974.9 573.9,973.5 574.5,972.8 575.1,971.8 575.7,968.7 576.3,965.7 576.9,961.3 577.5,957.3 578.1,951.0 578.7,945.8 579.3,937.6 579.9,931.7 580.5,928.2 581.1,925.5 581.7,926.9 582.3,930.7 582.9,935.3 583.5,942.0 584.1,949.8 584.7,956.3 585.3,960.7 585.9,965.5 586.5,968.3 587.1,971.2 587.7,972.1 588.3,973.7 588.9,975.2 589.5,975.2 590.1,975.9 590.7,975.9 591.3,976.6 591.9,977.2 592.5,978.0 593.1,977.9 593.7,979.3 594.3,979.7 594.9,980.0 595.5,979.3 596.1,979.0 596.7,979.0 597.3,978.3 597.9,979.4 598.5,979.5 599.1,979.8 599.7,979.4 600.3,979.5 600.9,980.2 601.5,979.8 602.1,979.2 602.7,979.5 603.3,980.7 603.9,979.3 604.5,979.2 605.1,980.1 605.7,979.6 606.3,980.5 606.9,980.8 607.5,980.8 608.1,981.3 608.7,980.9 609.3,981.8 609.9,981.7 610.5,981.6 611.1,980.7 611.7,980.1 612.3,979.6 612.9,979.5 613.5,980.1 614.1,979.9 614.7,979.8 615.3,979.8 615.9,980.4 616.5,980.6 617.1,979.8 617.7,980.6 618.3,980.3 618.9,979.5 619.5,979.8 620.1,979.8 620.7,979.2 621.3,978.9 621.9,979.3 622.5,978.2 623.1,978.8 623.7,978.0 624.3,977.8 624.9,975.6 625.5,974.7 626.1,975.0 626.7,973.9 627.3,973.4 627.9,972.2 628.5,972.0 629.1,970.6 629.7,969.9 630.3,971.1 630.9,972.0 631.5,972.4 632.1,972.0 632.7,972.8 633.3,973.4 633.9,974.9 634.5,975.7 635.1,975.3 635.7,975.3 636.3,977.1 636.9,977.4 637.5,978.6 638.1,979.0 638.7,980.5 639.3,979.3 639.9,979.0 640.5,980.6 641.1,979.4 641.7,978.9 642.3,980.3 642.9,979.1 643.5,979.4 644.1,978.5 644.7,979.2 645.3,978.9 645.9,978.8 646.5,978.3 647.1,978.7 647.7,979.8 648.3,979.6 648.9,980.0 649.5,979.6 650.1,980.0 650.7,979.8 651.3,980.2 651.9,980.7 652.5,979.8 653.1,979.9 653.7,980.7 654.3,980.7 654.9,980.1 655.5,979.2 656.1,980.6 656.7,980.6 657.3,979.3 657.9,980.4 658.5,979.9 659.1,980.1 659.7,979.3 660.3,979.6 660.9,980.4 661.5,980.1 662.1,978.9 662.7,980.1 663.3,978.5 663.9,978.5 664.5,977.9 665.1,977.8 665.7,975.9 666.3,974.9 666.9,974.1 667.5,971.0 668.1,969.7 668.7,965.2 669.3,960.5 669.9,952.1 670.5,943.8 671.1,932.0 671.7,918.8 672.3,902.7 672.9,885.8 673.5,870.7 674.1,857.0 674.7,850.8 675.3,850.5 675.9,857.9 676.5,870.8 677.1,887.4 677.7,902.7 678.3,919.0 678.9,933.0 679.5,944.7 680.1,954.1 680.7,959.7 681.3,965.9 681.9,969.8 682.5,972.0 683.1,973.5 683.7,976.9 684.3,977.3 684.9,978.4 685.5,978.5 686.1,978.8 686.7,979.7 687.3,980.2 687.9,979.2 688.5,980.7 689.1,979.9 689.7,980.9 690.3,981.4 690.9,981.2 691.5,981.9 692.1,982.3 692.7,983.1 693.3,983.1 693.9,984.2 694.5,984.4 695.1,983.4 695.7,983.6 696.3,984.7 696.9,984.9 697.5,984.3 698.1,985.0 698.7,984.5 699.3,985.1 699.9,984.4 700.5,984.8 701.1,984.5 701.7,984.2 702.3,984.2 702.9,984.3 703.5,984.4 704.1,983.9 704.7,984.0 705.3,984.0 705.9,983.1 706.5,984.3 707.1,984.2 707.7,983.0 708.3,983.5 708.9,983.1 709.5,982.9 710.1,981.9 710.7,982.7 711.3,981.9 711.9,981.9 712.5,983.0 713.1,982.8 713.7,982.6 714.3,983.4 714.9,982.5 715.5,982.4 716.1,983.8 716.7,983.2 717.3,984.0 717.9,982.3 718.5,982.5 719.1,983.4 719.7,983.3 720.3,983.4 720.9,983.4 721.5,983.3 722.1,981.9 722.7,982.8 723.3,983.6 723.9,982.6 724.5,984.1 725.1,984.1 725.7,983.6 726.3,983.6 726.9,983.3 727.5,983.5 728.1,982.7 728.7,982.6 729.3,982.7 729.9,983.3 730.5,982.5 731.1,983.4 731.7,983.9 732.3,983.1 732.9,984.2 733.5,983.6 734.1,983.7 734.7,984.1 735.3,983.7 735.9,983.3 736.5,981.8 737.1,983.1 737.7,983.2 738.3,983.4 738.9,983.1 739.5,983.2 740.1,982.6 740.7,983.4 741.3,983.6 741.9,982.7 742.5,983.5 743.1,983.1 743.7,984.1 744.3,982.7 744.9,983.0 745.5,984.0 746.1,983.9 746.7,985.3 747.3,984.9 747.9,984.6 748.5,984.0 749.1,984.7 749.7,984.4 750.3,985.0 750.9,984.2 751.5,983.8 752.1,982.6 752.7,983.1 753.3,983.2 753.9,982.0 754.5,983.3 755.1,983.2 755.7,982.0 756.3,982.7 756.9,982.5 757.5,982.1 758.1,982.1 758.7,981.4 759.3,982.3 759.9,982.6 760.5,982.1 761.1,982.6 761.7,981.8 762.3,983.6 762.9,983.4 763.5,983.2 764.1,983.7 764.7,982.7 765.3,984.0 765.9,983.2 766.5,982.9 767.1,984.1 767.7,982.4 768.3,982.8 768.9,982.9 769.5,984.3 770.1,984.3 770.7,983.6 771.3,983.3 771.9,983.8 772.5,984.5 773.1,985.0 773.7,984.7 774.3,985.4 774.9,985.6 775.5,985.0 776.1,986.0 776.7,986.5 777.3,985.8 777.9,985.0 778.5,984.0 779.1,984.4 779.7,984.3 780.3,983.3 780.9,982.8 781.5,983.4 782.1,983.7 782.7,983.0 783.3,983.5 783.9,983.6 784.5,984.5 785.1,984.8 785.7,984.2 786.3,985.0 786.9,984.7 787.5,985.4 788.1,984.9 788.7,984.9 789.3,984.7 789.9,985.3 790.5,984.8 791.1,985.3 791.7,984.7 792.3,985.0 792.9,984.9 793.5,985.2 794.1,983.1 794.7,984.0 795.3,982.5 795.9,982.0 796.5,981.4 797.1,981.7 797.7,982.5 798.3,982.3 798.9,982.0 799.5,983.1 800.1,983.0 800.7,984.0 801.3,984.0 801.9,983.5 802.5,984.1 803.1,984.2 803.7,983.4 804.3,984.3 804.9,984.4 805.5,985.0 806.1,984.4 806.7,984.4 807.3,983.8 807.9,984.2 808.5,982.9 809.1,984.2 809.7,982.6 810.3,983.9 810.9,983.9 811.5,983.2 812.1,983.4 812.7,983.1 813.3,984.3 813.9,983.4 814.5,983.6 815.1,983.2 815.7,983.7 816.3,982.8 816.9,983.4 817.5,983.8 818.1,982.5 818.7,982.7 819.3,983.4 819.9,984.6 820.5,984.3 821.1,983.0 821.7,984.3 822.3,985.0 822.9,983.7 823.5,984.5 824.1,984.4 824.7,983.9 825.3,983.7 825.9,984.4 826.5,983.4 827.1,984.4 827.7,983.3 828.3,983.3 828.9,983.1 829.5,983.8 830.1,984.3 830.7,984.3 831.3,983.7 831.9,983.4 832.5,983.2 833.1,984.8 833.7,984.5 834.3,984.8 834.9,984.8 835.5,984.1 836.1,984.8 836.7,984.1 837.3,985.1 837.9,984.9 838.5,985.0 839.1,985.8 839.7,985.8 840.3,985.3 840.9,984.5 841.5,984.1 842.1,985.6 842.7,983.9 843.3,984.6 843.9,984.2 844.5,983.0 845.1,983.2 845.7,984.1 846.3,984.4 846.9,983.6 847.5,983.8 848.1,983.5 848.7,983.2 849.3,984.5 849.9,985.0 850.5,984.3 851.1,985.0 851.7,985.6 852.3,984.5 852.9,984.5 853.5,985.7 854.1,985.5 854.7,984.5 855.3,985.1 855.9,985.5 856.5,986.9 857.1,985.6 857.7,987.0 858.3,987.2 858.9,985.9 859.5,986.4 860.1,986.1 860.7,986.7 861.3,985.3 861.9,984.7 862.5,984.5 863.1,985.3 863.7,985.4 864.3,984.2 864.9,984.6 865.5,984.6 866.1,984.1 866.7,985.1 867.3,985.0 867.9,984.9 868.5,985.2 869.1,984.8 869.7,985.2 870.3,985.2 870.9,984.8 871.5,986.0 872.1,985.7 872.7,985.2 873.3,985.6 873.9,984.7 874.5,985.2 875.1,984.3 875.7,984.9 876.3,984.7 876.9,985.8 877.5,985.8 878.1,984.6 878.7,984.1 879.3,984.0 879.9,985.1 880.5,984.7 881.1,984.9 881.7,985.7 882.3,984.3 882.9,985.2 883.5,985.1 884.1,984.7 884.7,985.1 885.3,985.9 885.9,984.6 886.5,984.2 887.1,985.1 887.7,985.6 888.3,986.2 888.9,986.8 889.5,986.9 890.1,986.5 890.7,986.0 891.3,985.9 891.9,986.0 892.5,986.1 893.1,984.9 893.7,985.9 894.3,984.7 894.9,984.6 895.5,985.4 896.1,985.7 896.7,985.5 897.3,985.1 897.9,984.9 898.5,984.7 899.1,983.3 899.7,984.2 900.3,984.9 900.9,984.0 901.5,984.7 902.1,984.8 902.7,985.3 903.3,985.6 903.9,986.1 904.5,987.2 905.1,986.0 905.7,985.6 906.3,986.3 906.9,985.2 907.5,985.4 908.1,984.6 908.7,984.8 909.3,984.8 909.9,983.6 910.5,984.4 911.1,983.8 911.7,985.1 912.3,985.1 912.9,985.3 913.5,986.6 914.1,986.7 914.7,986.0 915.3,986.7 915.9,985.5 916.5,986.2 917.1,983.9 917.7,983.8 918.3,984.9 918.9,983.2 919.5,984.1 920.1,982.8 920.7,984.2 921.3,984.4 921.9,983.6 922.5,984.8 923.1,985.1 923.7,985.4 924.3,985.5 924.9,985.9 925.5,986.2 926.1,986.3 926.7,985.5 927.3,985.3 927.9,985.0 928.5,985.9 929.1,985.0 929.7,984.7 930.3,983.9 930.9,984.0 931.5,982.8 932.1,984.1 932.7,983.6 933.3,982.9 933.9,983.6 934.5,982.9 935.1,982.8 935.7,983.2 936.3,983.3 936.9,983.1 937.5,982.4 938.1,981.0 938.7,981.3 939.3,980.8 939.9,982.2 940.5,982.1 941.1,983.0 941.7,982.4 942.3,982.6 942.9,983.2 943.5,982.7 944.1,983.5 944.7,983.9 945.3,983.3 945.9,983.4 946.5,982.7 947.1,983.0 947.7,983.6 948.3,984.3 948.9,984.5 949.5,985.0 950.1,985.1 950.7,984.9 951.3,985.5 951.9,985.5 952.5,986.4 953.1,986.7 953.7,987.6 954.3,986.4 954.9,985.6 955.5,985.2 956.1,985.3 956.7,984.9 957.3,985.5 957.9,984.1 958.5,983.8 959.1,984.3 959.7,984.9 960.3,984.5 960.9,985.0 961.5,985.5 962.1,984.9 962.7,986.3 963.3,985.3 963.9,985.6 964.5,985.8 965.1,985.2 965.7,985.1 966.3,986.5 966.9,985.4 967.5,986.2 968.1,985.3 968.7,984.6 969.3,984.6 969.9,984.2 970.5,984.1 971.1,983.0 971.7,983.8 972.3,983.7 972.9,983.9 973.5,984.3 974.1,985.0 974.7,984.6 975.3,985.7 975.9,986.3 976.5,985.8 977.1,986.7 977.7,986.8 978.3,986.9 978.9,987.4 979.5,986.7 980.1,985.1 980.7,985.9 981.3,985.6 981.9,986.0 982.5,986.4 983.1,986.7 983.7,986.8 984.3,986.3 984.9,986.9 985.5,986.5 986.1,986.7 986.7,985.6 987.3,986.2 987.9,986.0 988.5,985.1 989.1,986.1 989.7,985.3 990.3,984.8 990.9,985.3 991.5,985.9 992.1,984.8 992.7,985.4 993.3,985.1 993.9,984.8 994.5,984.3 995.1,985.0 995.7,985.1 996.3,985.4 996.9,985.5 997.5,985.8 998.1,986.3 998.7,986.0 999.3,986.8 999.9,986.8 1000.5,986.5 1001.1,986.3 1001.7,987.3 1002.3,986.7 1002.9,985.9 1003.5,985.4 1004.1,986.1 1004.7,985.5 1005.3,986.2 1005.9,984.8 1006.5,985.6 1007.1,984.0 1007.7,985.7 1008.3,985.0 1008.9,984.8 1009.5,984.8 1010.1,985.6 1010.7,986.0 1011.3,985.3 1011.9,986.1 1012.5,986.0 1013.1,987.0 1013.7,987.2 1014.3,988.1 1014.9,987.7 1015.5,987.7 1016.1,988.2 1016.7,987.1 1017.3,986.2 1017.9,986.3 1018.5,986.2 1019.1,985.5 1019.7,986.0 1020.3,985.4 1020.9,985.1 1021.5,986.3 1022.1,984.9 1022.7,985.3 1023.3,985.9 1023.9,986.4 1024.5,985.7 1025.1,985.3 1025.7,985.9 1026.3,984.6 1026.9,985.3 1027.5,984.3 1028.1,984.9 1028.7,985.6 1029.3,985.2 1029.9,984.8 1030.5,985.4 1031.1,985.4 1031.7,985.7 1032.3,985.9 1032.9,985.7 1033.5,985.6 1034.1,985.5 1034.7,984.9 1035.3,984.7 1035.9,985.5 1036.5,985.3 1037.1,985.2 1037.7,984.8 1038.3,984.1 1038.9,985.5 1039.5,985.9 1040.1,984.1 1040.7,984.2 1041.3,984.7 1041.9,983.7 1042.5,982.9 1043.1,982.6 1043.7,981.1 1044.3,979.8 1044.9,979.0 1045.5,977.4 1046.1,975.6 1046.7,974.9 1047.3,973.9 1047.9,974.3 1048.5,972.9 1049.1,971.4 1049.7,971.2 1050.3,970.9 1050.9,972.7 1051.5,972.1 1052.1,972.6 1052.7,973.6 1053.3,974.0 1053.9,975.4 1054.5,976.3 1055.1,978.3 1055.7,978.7 1056.3,979.7 1056.9,980.9 1057.5,982.2 1058.1,983.5 1058.7,984.1 1059.3,983.9 1059.9,985.0 1060.5,984.2 1061.1,985.8 1061.7,985.9 1062.3,985.7 1062.9,986.5 1063.5,986.5 1064.1,986.6 1064.7,987.4 1065.3,988.0 1065.9,986.6 1066.5,985.9 1067.1,986.2 1067.7,986.2 1068.3,985.6 1068.9,985.4 1069.5,985.2 1070.1,984.3 1070.7,983.7 1071.3,983.9 1071.9,984.6 1072.5,985.7 1073.1,984.8 1073.7,985.1 1074.3,984.6 1074.9,984.9 1075.5,985.2 1076.1,985.8 1076.7,985.4 1077.3,984.6 1077.9,984.8 1078.5,985.1 1079.1,985.4 1079.7,984.7 1080.3,984.9 1080.9,985.3 1081.5,985.5 1082.1,986.7 1082.7,986.0 1083.3,986.4 1083.9,985.3 1084.5,986.1 1085.1,986.4 1085.7,987.5 1086.3,987.0 1086.9,986.4 1087.5,985.2 1088.1,986.2 1088.7,985.4 1089.3,986.1 1089.9,987.3 1090.5,985.4 1091.1,986.4 1091.7,986.1 1092.3,985.6 1092.9,986.9 1093.5,987.1 1094.1,987.6 1094.7,987.3 1095.3,986.3 1095.9,987.5 1096.5,986.2 1097.1,987.2 1097.7,986.3 1098.3,987.1 1098.9,986.1 1099.5,985.1 1100.1,986.4 1100.7,984.9 1101.3,985.8 1101.9,986.0 1102.5,985.2 1103.1,985.5 1103.7,984.9 1104.3,986.0 1104.9,986.2 1105.5,985.0 1106.1,986.5 1106.7,986.6 1107.3,985.9 1107.9,985.4 1108.5,986.2 1109.1,986.3 1109.7,985.4 1110.3,985.3 1110.9,986.2 1111.5,985.3 1112.1,986.1 1112.7,986.3 1113.3,985.7 1113.9,986.4 1114.5,986.0 1115.1,986.8 1115.7,986.5 1116.3,987.0 1116.9,986.3 1117.5,986.5 1118.1,985.4 1118.7,985.1 1119.3,984.1 1119.9,985.4 1120.5,985.7 1121.1,985.4 1121.7,985.3 1122.3,985.7 1122.9,985.1 1123.5,985.6 1124.1,985.5 1124.7,985.9 1125.3,985.3 1125.9,983.9 1126.5,983.8 1127.1,983.6 1127.7,982.6 1128.3,982.9 1128.9,983.6 1129.5,984.3 1130.1,983.4 1130.7,984.9 1131.3,984.6 1131.9,985.6 1132.5,984.6 1133.1,985.9 1133.7,985.1 1134.3,985.2 1134.9,984.4 1135.5,986.0 1136.1,985.9 1136.7,984.9 1137.3,985.2 1137.9,985.8 1138.5,985.4 1139.1,985.2 1139.7,984.6 1140.3,984.8 1140.9,985.3 1141.5,985.7 1142.1,984.7 1142.7,986.1 1143.3,985.7 1143.9,986.8 1144.5,985.7 1145.1,985.8 1145.7,987.3 1146.3,986.6 1146.9,987.7 1147.5,988.1 1148.1,987.9 1148.7,988.2 1149.3,987.5 1149.9,988.1 1150.5,988.2 1151.1,986.5 1151.7,986.2 1152.3,986.1 1152.9,987.0 1153.5,986.8 1154.1,987.2 1154.7,986.2 1155.3,987.3 1155.9,987.3 1156.5,986.4 1157.1,986.5 1157.7,986.2 1158.3,987.1 1158.9,987.3 1159.5,986.1 1160.1,987.2 1160.7,986.7 1161.3,986.9 1161.9,986.6 1162.5,986.3 1163.1,987.4 1163.7,987.1 1164.3,987.7 1164.9,986.7 1165.5,986.8 1166.1,986.5 1166.7,986.8 1167.3,986.8 1167.9,987.0 1168.5,987.9 1169.1,988.0 1169.7,986.9 1170.3,987.8 1170.9,986.9 1171.5,987.7 1172.1,986.9 1172.7,987.4 1173.3,986.5 1173.9,986.2 1174.5,986.7 1175.1,986.0 1175.7,985.8 1176.3,987.1 1176.9,987.0 1177.5,987.2 1178.1,987.3 1178.7,986.8 1179.3,988.0 1179.9,986.9 1180.5,987.1 1181.1,987.0 1181.7,986.4 1182.3,986.3 1182.9,986.5 1183.5,986.7 1184.1,985.5 1184.7,985.7 1185.3,985.8 1185.9,986.0 1186.5,986.9 1187.1,987.4 1187.7,986.6 1188.3,988.0 1188.9,986.9 1189.5,987.4 1190.1,986.6 1190.7,987.9 1191.3,986.5 1191.9,987.0 1192.5,985.7 1193.1,986.3 1193.7,985.6 1194.3,986.4 1194.9,986.6 1195.5,987.4 1196.1,987.6 1196.7,987.5 1197.3,988.1 1197.9,988.6 1198.5,987.9 1199.1,987.3 1199.7,986.7 1200.3,987.8 1200.9,987.2 1201.5,986.6 1202.1,986.3 1202.7,986.4 1203.3,986.2 1203.9,986.8 1204.5,986.3 1205.1,986.4 1205.7,984.7 1206.3,985.3 1206.9,984.4 1207.5,984.8 1208.1,984.8 1208.7,986.6 1209.3,985.7 1209.9,986.0 1210.5,986.4 1211.1,986.9 1211.7,987.8 1212.3,987.4 1212.9,986.8 1213.5,986.3 1214.1,987.5 1214.7,987.0 1215.3,987.1 1215.9,985.6 1216.5,985.4 1217.1,985.3 1217.7,986.3 1218.3,985.9 1218.9,987.3 1219.5,986.8 1220.1,987.1 1220.7,987.3 1221.3,988.1 1221.9,988.9 1222.5,988.1 1223.1,988.1 1223.7,987.7 1224.3,987.4 1224.9,986.8 1225.5,986.8 1226.1,986.6 1226.7,985.4 1227.3,986.5 1227.9,986.7 1228.5,986.2 1229.1,985.7 1229.7,986.5 1230.3,986.4 1230.9,987.1 1231.5,986.0 1232.1,987.4 1232.7,986.2 1233.3,987.0 1233.9,986.6 1234.5,986.8 1235.1,986.4 1235.7,986.6 1236.3,986.5 1236.9,986.3 1237.5,986.0 1238.1,986.7 1238.7,984.8 1239.3,985.5 1239.9,985.2 1240.5,985.3 1241.1,986.1 1241.7,985.5 1242.3,985.7 1242.9,985.5 1243.5,985.2 1244.1,985.9 1244.7,986.2 1245.3,985.4 1245.9,985.7 1246.5,986.4 1247.1,986.1 1247.7,985.8 1248.3,987.0 1248.9,986.6 1249.5,986.8 1250.1,987.0 1250.7,985.4 1251.3,985.8 1251.9,987.4 1252.5,986.5 1253.1,985.5 1253.7,986.4 1254.3,985.8 1254.9,985.8 1255.5,986.6 1256.1,986.8 1256.7,986.2 1257.3,987.3 1257.9,985.9 1258.5,986.5 1259.1,985.6 1259.7,986.3 1260.3,987.0 1260.9,986.2 1261.5,985.1 1262.1,985.2 1262.7,985.8 1263.3,985.4 1263.9,985.4 1264.5,985.5 1265.1,985.6 1265.7,985.2 1266.3,985.2 1266.9,985.5 1267.5,986.5 1268.1,986.1 1268.7,986.0 1269.3,985.6 1269.9,985.9 1270.5,986.6 1271.1,987.1 1271.7,987.4 1272.3,987.0 1272.9,986.4 1273.5,987.2 1274.1,986.8 1274.7,986.2 1275.3,986.1 1275.9,985.3 1276.5,987.0 1277.1,986.9 1277.7,986.1 1278.3,985.1 1278.9,986.6 1279.5,986.0 1280.1,986.7 1280.7,985.8 1281.3,986.7 1281.9,985.4 1282.5,986.8 1283.1,986.6 1283.7,987.0 1284.3,986.1 1284.9,985.6 1285.5,985.6 1286.1,986.4 1286.7,986.1 1287.3,986.5 1287.9,985.5 1288.5,987.2 1289.1,986.8 1289.7,987.5 1290.3,987.2 1290.9,986.5 1291.5,987.7 1292.1,986.2 1292.7,986.5 1293.3,985.8 1293.9,985.8 1294.5,985.0 1295.1,986.2 1295.7,986.0 1296.3,986.1 1296.9,986.3 1297.5,985.8 1298.1,986.1 1298.7,985.8 1299.3,986.1 1299.9,985.2 1300.5,985.5 1301.1,985.2 1301.7,985.5 1302.3,984.9 1302.9,984.6 1303.5,985.0 1304.1,985.3 1304.7,984.0 1305.3,984.3 1305.9,986.0 1306.5,984.2 1307.1,984.2 1307.7,984.5 1308.3,985.1 1308.9,985.0 1309.5,985.1 1310.1,985.4 1310.7,985.2 1311.3,984.7 1311.9,986.5 1312.5,985.7 1313.1,986.8 1313.7,986.9 1314.3,985.8 1314.9,985.4 1315.5,985.7 1316.1,985.5 1316.7,984.1 1317.3,983.5 1317.9,982.8 1318.5,983.1 1319.1,982.2 1319.7,981.6 1320.3,980.5 1320.9,978.7 1321.5,978.8 1322.1,977.7 1322.7,977.6 1323.3,976.5 1323.9,976.6 1324.5,975.9 1325.1,975.2 1325.7,975.1 1326.3,975.5 1326.9,975.3 1327.5,974.7 1328.1,975.3 1328.7,975.6 1329.3,975.1 1329.9,975.4 1330.5,975.7 1331.1,975.6 1331.7,977.3 1332.3,978.5 1332.9,978.9 1333.5,979.1 1334.1,981.1 1334.7,981.8 1335.3,982.2 1335.9,983.3 1336.5,983.7 1337.1,984.9 1337.7,985.3 1338.3,985.0 1338.9,985.8 1339.5,984.3 1340.1,985.2 1340.7,984.6 1341.3,985.2 1341.9,985.6 1342.5,986.0 1343.1,984.4 1343.7,986.0 1344.3,984.5 1344.9,986.5 1345.5,985.9 1346.1,984.8 1346.7,984.6 1347.3,985.4 1347.9,984.8 1348.5,985.9 1349.1,985.0 1349.7,984.6 1350.3,984.2 1350.9,983.4 1351.5,982.2 1352.1,982.0 1352.7,982.1 1353.3,980.2 1353.9,980.9 1354.5,980.0 1355.1,978.4 1355.7,977.8 1356.3,978.1 1356.9,977.7 1357.5,977.4 1358.1,976.9 1358.7,977.1 1359.3,977.5 1359.9,977.8 1360.5,978.0 1361.1,979.6 1361.7,980.1 1362.3,981.3 1362.9,982.0 1363.5,982.5 1364.1,982.9 1364.7,982.6 1365.3,983.2 1365.9,983.7 1366.5,985.1 1367.1,984.9 1367.7,984.8 1368.3,985.6 1368.9,986.7 1369.5,986.6 1370.1,987.4 1370.7,986.5 1371.3,986.6 1371.9,986.1 1372.5,986.4 1373.1,987.5 1373.7,987.3 1374.3,987.1 1374.9,987.9 1375.5,987.6 1376.1,986.8 1376.7,987.2 1377.3,987.5 1377.9,988.3 1378.5,987.7 1379.1,987.2 1379.7,988.6 1380.3,988.2 1380.9,987.1 1381.5,987.3 1382.1,987.8 1382.7,987.9 1383.3,987.2 1383.9,987.1 1384.5,987.0 1385.1,987.2 1385.7,987.2 1386.3,986.2 1386.9,986.8 1387.5,987.2 1388.1,987.6 1388.7,988.2 1389.3,987.3 1389.9,988.1 1390.5,987.6 1391.1,988.4 1391.7,987.4 1392.3,988.1 1392.9,987.9 1393.5,988.2 1394.1,987.8 1394.7,986.6 1395.3,987.2 1395.9,986.2 1396.5,986.7 1397.1,986.6 1397.7,986.4 1398.3,986.5 1398.9,987.4 1399.5,986.9 1400.1,986.6 1400.7,987.8 1401.3,986.9 1401.9,987.7 1402.5,987.4 1403.1,986.8 1403.7,987.1 1404.3,987.7 1404.9,987.4 1405.5,988.5 1406.1,987.8 1406.7,986.7 1407.3,987.6 1407.9,988.2 1408.5,988.2 1409.1,987.6 1409.7,987.4 1410.3,986.9 1410.9,987.2 1411.5,986.6 1412.1,987.3 1412.7,986.2 1413.3,986.5 1413.9,986.4 1414.5,987.3 1415.1,986.9 1415.7,986.2 1416.3,985.8 1416.9,986.5 1417.5,985.9 1418.1,987.0 1418.7,986.1 1419.3,986.4 1419.9,985.4 1420.5,986.4 1421.1,986.9 1421.7,987.4 1422.3,986.9 1422.9,986.8 1423.5,987.5 1424.1,987.1 1424.7,986.0 1425.3,985.7 1425.9,985.6 1426.5,985.8 1427.1,984.7 1427.7,985.6 1428.3,984.2 1428.9,983.5 1429.5,983.0 1430.1,982.5 1430.7,982.9 1431.3,981.4 1431.9,979.9 1432.5,980.2 1433.1,979.0 1433.7,977.5 1434.3,978.5 1434.9,977.7 1435.5,977.5 1436.1,976.4 1436.7,975.4 1437.3,976.4 1437.9,976.7 1438.5,976.1 1439.1,976.9 1439.7,976.9 1440.3,978.0 1440.9,978.5 1441.5,978.8 1442.1,979.5 1442.7,981.3 1443.3,982.1 1443.9,982.6 1444.5,983.3 1445.1,984.4 1445.7,984.9 1446.3,985.3 1446.9,985.7 1447.5,986.3 1448.1,987.2 1448.7,986.7 1449.3,988.0 1449.9,987.8 1450.5,987.9 1451.1,987.2 1451.7,987.4 1452.3,987.1 1452.9,987.5 1453.5,987.0 1454.1,987.2 1454.7,987.5 1455.3,987.8 1455.9,988.1 1456.5,987.3 1457.1,987.0 1457.7,987.4 1458.3,987.5 1458.9,987.5 1459.5,986.6 1460.1,986.8 1460.7,988.1 1461.3,987.7 1461.9,986.9 1462.5,986.8 1463.1,988.1 1463.7,988.4 1464.3,987.8 1464.9,989.2 1465.5,989.1 1466.1,988.5 1466.7,988.0 1467.3,988.3 1467.9,989.4 1468.5,989.2 1469.1,988.1 1469.7,987.8 1470.3,988.4 1470.9,987.3 1471.5,987.8 1472.1,986.9 1472.7,987.6 1473.3,987.1 1473.9,988.4 1474.5,987.4 1475.1,987.5 1475.7,987.4 1476.3,988.4 1476.9,988.6 1477.5,988.9 1478.1,988.2 1478.7,986.6 1479.3,987.5 1479.9,987.1 1480.5,987.2 1481.1,987.1 1481.7,986.9 1482.3,988.0 1482.9,987.7 1483.5,988.2 1484.1,988.5 1484.7,988.0 1485.3,989.0 1485.9,989.3 1486.5,988.9 1487.1,988.7 1487.7,988.7 1488.3,988.7 1488.9,989.3 1489.5,988.7 1490.1,988.8 1490.7,988.4 1491.3,989.4 1491.9,988.2 1492.5,988.4 1493.1,988.7 1493.7,988.5 1494.3,988.2 1494.9,988.6 1495.5,988.5 1496.1,989.1 1496.7,989.5 1497.3,988.0 1497.9,987.6 1498.5,988.3 1499.1,987.6 1499.7,988.6 1500.3,987.9 1500.9,988.0 1501.5,988.5 1502.1,988.1 1502.7,988.8 1503.3,988.9 1503.9,988.3 1504.5,987.5 1505.1,987.3 1505.7,987.6 1506.3,986.8 1506.9,988.9 1507.5,988.6 1508.1,988.0 1508.7,987.7 1509.3,987.6 1509.9,988.1 1510.5,989.2 1511.1,989.9 1511.7,989.3 1512.3,990.3 1512.9,990.5 1513.5,990.3 1514.1,989.7 1514.7,990.0 1515.3,988.8 1515.9,988.5 1516.5,989.4 1517.1,988.5 1517.7,988.6 1518.3,989.9 1518.9,989.0 1519.5,988.2 1520.1,988.3 1520.7,988.7 1521.3,989.1 1521.9,989.5 1522.5,989.2 1523.1,988.0 1523.7,988.4 1524.3,989.6 1524.9,988.2 1525.5,989.8 1526.1,988.8 1526.7,989.0 1527.3,988.2 1527.9,989.2 1528.5,989.0 1529.1,988.6"/>
</g>
<line x1="165.5" y1="1033" x2="165.5" y2="1054" stroke="#000" stroke-width="5"/>
<line x1="301.6" y1="1033" x2="301.6" y2="1044" stroke="#000" stroke-width="5"/>
<line x1="437.7" y1="1033" x2="437.7" y2="1054" stroke="#000" stroke-width="5"/>
<line x1="573.8" y1="1033" x2="573.8" y2="1044" stroke="#000" stroke-width="5"/>
<line x1="709.9" y1="1033" x2="709.9" y2="1054" stroke="#000" stroke-width="5"/>
<line x1="846.0" y1="1033" x2="846.0" y2="1044" stroke="#000" stroke-width="5"/>
<line x1="982.1" y1="1033" x2="982.1" y2="1054" stroke="#000" stroke-width="5"/>
<line x1="1118.2" y1="1033" x2="1118.2" y2="1044" stroke="#000" stroke-width="5"/>
<line x1="1254.3" y1="1033" x2="1254.3" y2="1054" stroke="#000" stroke-width="5"/>
<line x1="1390.4" y1="1033" x2="1390.4" y2="1044" stroke="#000" stroke-width="5"/>
<line x1="1526.5" y1="1033" x2="1526.5" y2="1054" stroke="#000" stroke-width="5"/>
<text x="165.5" y="1118.5" text-anchor="middle" class="tk">20</text>
<text x="437.7" y="1118.5" text-anchor="middle" class="tk">30</text>
<text x="709.9" y="1118.5" text-anchor="middle" class="tk">40</text>
<text x="982.1" y="1118.5" text-anchor="middle" class="tk">50</text>
<text x="1254.3" y="1118.5" text-anchor="middle" class="tk">60</text>
<text x="1526.5" y="1118.5" text-anchor="middle" class="tk">70</text>
<text class="ax" style="white-space:pre"><tspan x="758.58" y="1191.8" style="font-size:75px" textLength="76.23" lengthAdjust="spacingAndGlyphs">2θ</tspan> <tspan x="855.13" y="1196.4" style="font-size:78.5px" textLength="22.28" lengthAdjust="spacingAndGlyphs">[</tspan><tspan x="878.56" y="1188.5" style="font-size:70px" textLength="28.75" lengthAdjust="spacingAndGlyphs">°</tspan><tspan x="907.55" y="1196.4" style="font-size:78.5px" textLength="22.58" lengthAdjust="spacingAndGlyphs">]</tspan></text>
<text transform="translate(91.8,534) rotate(-90)" x="-331" y="0" class="ax" style="font-size:71px" textLength="664" lengthAdjust="spacingAndGlyphs">offset intensity [a.u.]</text>
<text y="193.8" fill="#000080" class="sl"><tspan x="1095.15" textLength="109.30" lengthAdjust="spacingAndGlyphs">ZnO</tspan> <tspan x="1213.98" textLength="28.48" lengthAdjust="spacingAndGlyphs">+</tspan> <tspan x="1255.16" textLength="114.43" lengthAdjust="spacingAndGlyphs">ATO</tspan> <tspan x="1380.22" textLength="129.56" lengthAdjust="spacingAndGlyphs">(15%)</tspan></text>
<text y="345.0" fill="#008000" class="sl"><tspan x="1095.55" textLength="109.30" lengthAdjust="spacingAndGlyphs">ZnO</tspan> <tspan x="1214.38" textLength="28.48" lengthAdjust="spacingAndGlyphs">+</tspan> <tspan x="1255.56" textLength="114.43" lengthAdjust="spacingAndGlyphs">ATO</tspan> <tspan x="1380.63" textLength="129.14" lengthAdjust="spacingAndGlyphs">(10%)</tspan></text>
<text y="499.0" fill="#ff00ff" class="sl"><tspan x="1088.25" textLength="109.30" lengthAdjust="spacingAndGlyphs">ZnO</tspan> <tspan x="1207.08" textLength="28.48" lengthAdjust="spacingAndGlyphs">+</tspan> <tspan x="1248.26" textLength="114.43" lengthAdjust="spacingAndGlyphs">ATO</tspan> <tspan x="1373.30" textLength="143.80" lengthAdjust="spacingAndGlyphs">(7.5%)</tspan></text>
<text y="651.0" fill="#0000ff" class="sl"><tspan x="1096.05" textLength="109.30" lengthAdjust="spacingAndGlyphs">ZnO</tspan> <tspan x="1214.88" textLength="28.48" lengthAdjust="spacingAndGlyphs">+</tspan> <tspan x="1256.06" textLength="114.43" lengthAdjust="spacingAndGlyphs">ATO</tspan> <tspan x="1381.09" textLength="105.23" lengthAdjust="spacingAndGlyphs">(5%)</tspan></text>
<text y="803.7" fill="#ff0000" class="sl"><tspan x="1095.55" textLength="109.30" lengthAdjust="spacingAndGlyphs">ZnO</tspan> <tspan x="1214.38" textLength="28.48" lengthAdjust="spacingAndGlyphs">+</tspan> <tspan x="1255.56" textLength="114.43" lengthAdjust="spacingAndGlyphs">ATO</tspan> <tspan x="1380.64" textLength="141.63" lengthAdjust="spacingAndGlyphs">(2.5%)</tspan></text>
<text y="930.7" fill="#000000" class="sl"><tspan x="960.46" textLength="113.09" lengthAdjust="spacingAndGlyphs">ATO</tspan> <tspan x="1087.06" textLength="127.48" lengthAdjust="spacingAndGlyphs">(10%)</tspan> <tspan x="1227.46" textLength="28.72" lengthAdjust="spacingAndGlyphs">+</tspan> <tspan x="1265.84" textLength="109.51" lengthAdjust="spacingAndGlyphs">ZnO</tspan> <tspan x="1386.68" textLength="137.84" lengthAdjust="spacingAndGlyphs">(CSD)</tspan></text>
<text x="582.7" y="921" text-anchor="middle" class="st">*</text>
<text x="630.8" y="978" text-anchor="middle" class="st">*</text>
<text x="940" y="986.5" text-anchor="middle" class="st">*</text>
<text x="1359.7" y="985" text-anchor="middle" class="st">*</text>
</svg>
</body></html>
